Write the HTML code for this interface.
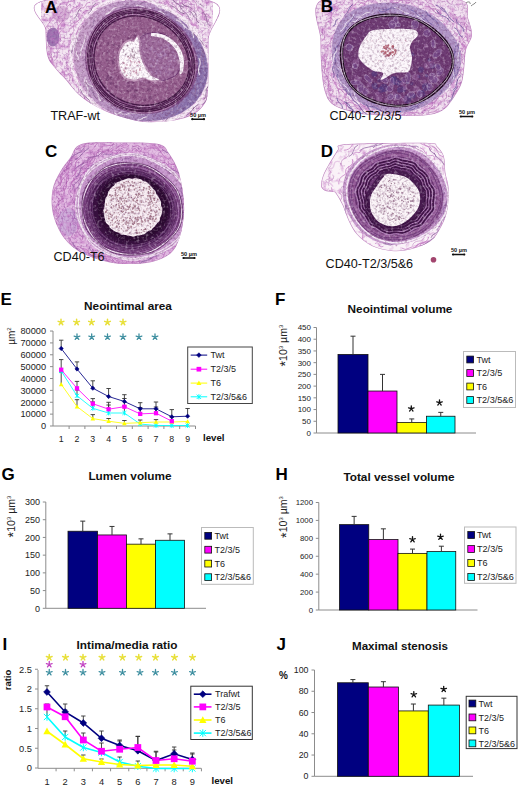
<!DOCTYPE html>
<html><head><meta charset="utf-8"><style>
html,body{margin:0;padding:0;background:#fff;}
svg{display:block;}
text{font-family:"Liberation Sans", sans-serif;}
</style></head><body>
<svg width="520" height="786" viewBox="0 0 520 786">
<defs>
<filter id="tex" x="0" y="0" width="520" height="300" filterUnits="userSpaceOnUse" color-interpolation-filters="sRGB">
<feTurbulence type="fractalNoise" baseFrequency="0.4" numOctaves="2" seed="7" result="n"/>
<feColorMatrix in="n" type="matrix" values="0 0 0 0 0.3  0 0 0 0 0.06  0 0 0 0 0.28  0.9 0 0 0 -0.4" result="d"/>
<feComposite in="d" in2="SourceGraphic" operator="in" result="dm"/>
<feTurbulence type="fractalNoise" baseFrequency="0.35" numOctaves="2" seed="3" result="n2"/>
<feColorMatrix in="n2" type="matrix" values="0 0 0 0 1  0 0 0 0 0.97  0 0 0 0 1  1.0 0 0 0 -0.5" result="l"/>
<feComposite in="l" in2="SourceGraphic" operator="in" result="lm"/>
<feMerge result="m"><feMergeNode in="SourceGraphic"/><feMergeNode in="dm"/><feMergeNode in="lm"/></feMerge>
<feGaussianBlur in="m" stdDeviation="0.4"/>
</filter>
<filter id="soft" x="0" y="0" width="520" height="300" filterUnits="userSpaceOnUse" color-interpolation-filters="sRGB">
<feTurbulence type="fractalNoise" baseFrequency="0.18" numOctaves="3" seed="11" result="n"/>
<feColorMatrix in="n" type="matrix" values="0 0 0 0 0.78  0 0 0 0 0.5  0 0 0 0 0.78  2.0 0 0 0 -0.88" result="p"/>
<feComposite in="p" in2="SourceGraphic" operator="in" result="pm"/>
<feTurbulence type="fractalNoise" baseFrequency="0.5" numOctaves="2" seed="12" result="n2"/>
<feColorMatrix in="n2" type="matrix" values="0 0 0 0 0.55  0 0 0 0 0.25  0 0 0 0 0.6  1.4 0 0 0 -0.68" result="q"/>
<feComposite in="q" in2="SourceGraphic" operator="in" result="qm"/>
<feMerge result="m"><feMergeNode in="SourceGraphic"/><feMergeNode in="pm"/><feMergeNode in="qm"/></feMerge>
<feGaussianBlur in="m" stdDeviation="0.45"/>
</filter>
<filter id="soft2" x="0" y="0" width="520" height="300" filterUnits="userSpaceOnUse" color-interpolation-filters="sRGB">
<feTurbulence type="fractalNoise" baseFrequency="0.18" numOctaves="3" seed="11" result="n"/>
<feColorMatrix in="n" type="matrix" values="0 0 0 0 0.78  0 0 0 0 0.5  0 0 0 0 0.78  1.8 0 0 0 -0.95" result="p"/>
<feComposite in="p" in2="SourceGraphic" operator="in" result="pm"/>
<feMerge result="m"><feMergeNode in="SourceGraphic"/><feMergeNode in="pm"/></feMerge>
<feGaussianBlur in="m" stdDeviation="0.45"/>
</filter>
<clipPath id="cA"><path d="M46.0,0.0C73.1,-5.0 180.9,-6.7 208.0,0.0C235.1,6.7 208.5,25.0 208.5,40.0C208.5,55.0 208.9,79.0 208.0,90.0C207.1,101.0 206.0,101.7 203.0,106.0C200.0,110.3 195.5,113.5 190.0,116.0C184.5,118.5 177.5,120.0 170.0,121.0C162.5,122.0 152.5,122.5 145.0,122.0C137.5,121.5 131.7,119.8 125.0,118.0C118.3,116.2 110.8,113.5 105.0,111.0C99.2,108.5 94.5,105.8 90.0,103.0C85.5,100.2 82.0,97.8 78.0,94.0C74.0,90.2 69.8,84.3 66.0,80.0C62.2,75.7 58.1,72.0 55.0,68.0C51.9,64.0 49.1,62.3 47.5,56.0C45.9,49.7 45.8,39.3 45.5,30.0C45.2,20.7 18.9,5.0 46.0,0.0Z"/></clipPath>
<clipPath id="cB"><path d="M321.5,0.0C334.8,-6.7 376.8,0.0 400.0,0.0C423.2,0.0 449.7,-3.0 461.0,0.0C472.3,3.0 466.2,12.2 468.0,18.0C469.8,23.8 472.3,29.7 472.0,35.0C471.7,40.3 467.3,44.2 466.0,50.0C464.7,55.8 464.8,64.2 464.0,70.0C463.2,75.8 463.0,80.0 461.0,85.0C459.0,90.0 455.0,95.8 452.0,100.0C449.0,104.2 447.0,107.5 443.0,110.0C439.0,112.5 435.2,114.0 428.0,115.0C420.8,116.0 410.3,116.1 400.0,116.0C389.7,115.9 374.8,115.4 366.0,114.5C357.2,113.6 352.7,112.2 347.0,110.5C341.3,108.8 335.7,107.1 332.0,104.0C328.3,100.9 326.8,97.7 325.0,92.0C323.2,86.3 322.2,78.7 321.5,70.0C320.8,61.3 320.5,51.7 320.5,40.0C320.5,28.3 308.2,6.7 321.5,0.0Z"/></clipPath>
<clipPath id="cC"><path d="M81.5,144.0C89.8,141.4 107.2,142.5 120.0,142.5C132.8,142.5 150.3,142.2 158.5,144.0C166.7,145.8 165.8,149.2 169.0,153.5C172.2,157.8 175.8,163.9 178.0,170.0C180.2,176.1 181.5,183.0 182.5,190.0C183.5,197.0 184.4,204.2 184.0,212.0C183.6,219.8 182.2,229.7 180.0,236.5C177.8,243.3 175.7,248.8 171.0,253.0C166.3,257.2 159.2,260.2 152.0,262.0C144.8,263.8 135.4,264.0 128.0,264.0C120.6,264.0 115.4,263.8 107.7,262.0C100.0,260.2 89.3,257.0 82.0,253.0C74.7,249.0 68.8,244.5 64.0,238.0C59.2,231.5 54.9,222.0 53.0,214.0C51.1,206.0 51.3,197.0 52.5,190.0C53.7,183.0 57.1,177.3 60.0,172.0C62.9,166.7 66.4,162.7 70.0,158.0C73.6,153.3 73.2,146.6 81.5,144.0Z"/></clipPath>
<clipPath id="cD"><path d="M342.5,144.5C351.2,143.4 375.2,143.2 390.0,143.0C404.8,142.8 423.2,142.4 431.0,143.0C438.8,143.6 434.9,144.1 437.0,146.3C439.1,148.5 442.4,151.6 443.8,156.0C445.2,160.4 444.6,167.0 445.4,172.5C446.2,178.0 448.4,182.3 448.7,188.8C449.0,195.3 448.4,205.2 447.0,211.7C445.6,218.2 443.2,223.1 440.5,228.0C437.8,232.9 435.6,237.4 430.7,241.0C425.8,244.6 417.5,247.6 411.0,249.3C404.5,251.0 398.0,251.6 391.5,251.0C385.0,250.4 377.6,248.7 371.9,246.0C366.1,243.3 360.8,238.7 357.0,234.6C353.2,230.5 351.4,226.4 349.0,221.5C346.6,216.6 344.7,209.6 342.5,205.0C340.3,200.4 337.6,195.9 336.0,193.7C334.4,191.5 334.6,192.5 332.7,192.0C330.8,191.5 326.4,191.6 324.5,190.5C322.6,189.4 321.2,188.0 321.0,185.5C320.8,183.0 321.9,178.9 323.0,175.7C324.1,172.4 326.2,169.0 327.8,166.0C329.4,163.0 331.0,160.5 332.7,157.8C334.4,155.1 336.4,151.8 338.0,149.6C339.6,147.4 333.8,145.6 342.5,144.5Z"/></clipPath>
</defs>
<rect width="520" height="786" fill="#fff"/>
<g clip-path="url(#cA)">
<g filter="url(#soft)">
<rect x="41" y="-5" width="172" height="132" fill="#f4e6f2"/>
<path d="M122.9 78.1Q118.8 74 119.3 68.3T115.7 58.5M137.8 80.5Q134.2 76.5 128.9 76.8T120.1 73.2M141.5 110.4Q138.3 105.2 133.3 108.6T125 106.9M154.8 70.9Q155.1 74.2 151.9 75.1T149.1 79.3M75 33.3Q79 32.9 76.8 29.5T78.6 25.7M76.6 34.5Q74.1 30.9 77.6 28.5T78.7 22.5M98 130.2Q96.6 124.2 91.1 121.7T84.1 113.2M80.7 39Q83.8 38.3 83.2 35.3T85.7 31.5M89.8 10.5Q90 7.3 93.1 8.2T96.5 5.8M192 46.6Q196.1 51.5 193.5 57.3T194.9 68.1M80.9 88.1Q75.6 87.1 78.2 82.3T75.4 76.6M163.3 12.7Q167 10.6 168.8 14.4T174.3 16.1M129.2 86.3Q125.3 87.2 124.9 83.2T120.5 80.1M107.3 59.1Q112.2 54 108.2 48.2T109 37.3M44.3 32.7Q44.9 26.9 49.2 22.9T54 13M69 57.9Q72.2 56.4 69.7 53.9T70.4 49.9M57.1 33.9Q60.4 30 58 25.5T59 17.1M126.2 119.9Q123.8 116.3 119.4 117T112.6 114.1M77.8 117.8Q72.7 115.9 71 110.8T64.2 103.9M153.3 60.6Q147.9 62 147.9 67.6T142.5 74.5M110.1 13.6Q111.4 9.4 114.3 12.7T118.4 11.7M106.4 61.2Q103.8 55 109.4 51.3T112.5 41.5M200.6 9.1Q204.7 10.9 204.3 15.4T208 21.8M191.9 21.8Q191.3 25 194.6 24.9T197.3 28M49.3 40.9Q49.1 36.1 53.5 34.4T57.8 27.9M197.5 114.8Q195.8 120.1 190.3 119.6T183.2 124.4M194.5 51.5Q197 54.4 195.6 57.9T196.7 64.3M145.9 50.3Q149.5 53.8 149.1 58.8T152.2 67.4M144.2 93.4Q138 95.4 134.5 89.9T124.8 86.4M193.5 34.2Q189.5 38.9 194.2 42.9T195 51.7M50.5 65.1Q54.1 63.4 50.9 61T51.3 56.9M136.8 6.7Q139.3 11.7 144.6 9.8T152.5 12.9M114.6 95.4Q109.4 94.8 108.9 89.7T103.3 83.9M125.9 40.9Q125.5 37 129.4 37.8T132.8 34.8M150.9 110.1Q147.4 109.1 145.5 112.3T140.2 114.5M148.4 54.6Q143.7 57.8 145.1 63.2T141.8 71.9M83.5 54.9Q80.3 51 85.1 49.4T86.8 43.9M111.4 76.5Q112.3 72.4 108.3 71.1T105.2 65.8M188.8 1.2Q191.8 1.9 191.1 4.9T193.4 8.7M131.8 115.5Q128.1 110.7 122.4 112.9T112.9 110.4M169 98.1Q167 102.6 162 102.7T155.1 107.3M150.2 81.2Q148.2 85.4 144.4 82.7T138.7 84.3M105 29.8Q105.5 23.7 111.6 23.2T118.2 16.5M202.7 10.1Q200.5 14.6 205.4 14.1T208.1 18M149.8 22.7Q154.2 19.7 156.9 24.3T164 26M127.1 4.3Q129.9 1.4 132.6 4.4T138.2 4.6M178.6 109Q175.7 107.7 174.3 110.6T169.9 112.1M126.2 84.2Q125.2 78.3 119.5 76.3T112.8 68.4M143.5 20.8Q148.7 20.7 151.5 25T159.5 29.2M200.1 112.7Q194.3 114.2 191.8 119.6T183.5 126.6M154.8 1.3Q158.3 4.9 162.4 1.9T169.9 2.5M171 55.3Q173.7 57.8 170.5 59.5T169.9 63.6M49.9 73.7Q53 69.8 51.7 65T53.5 56.4M138.4 92.9Q135.6 87.6 129.7 88.3T121 83.6M164 89.3Q162.2 93.8 157.6 92.5T151.3 95.6M183.3 62.2Q185.7 65.5 182.7 68.3T182 74.5M69.3 72.3Q72.4 69.1 68.9 66.5T68.4 60.6M129.5 77.5Q131.4 74.1 127.5 73.8T125.5 70.2M202.9 11.7Q202.5 15.4 206.3 14.9T209.7 18.1M204.8 108.1Q205 112.2 201 112.7T197.3 117.2M199.6 107Q197.4 112.3 191.9 114.2T184.3 121.3M151 113.2Q148.4 115 146.1 112.9T141.2 112.6M66.7 5.4Q66.6 0.8 71.2 1.4T75.7 -2.5M64.6 93.7Q67.3 90.2 63 89.2T61.4 84.6M163.6 105.9Q162.6 109.7 159.6 107.2T155.7 108.5M185.5 59.6Q188.2 62.2 185.9 65.1T186.4 70.7M173.9 92.2Q167.2 92.3 166 98.9T158.1 105.6M81.1 98.9Q77.7 98.5 77.5 95T73.9 91M57.3 53.7Q56.6 49.5 60.3 47.3T63.2 40.9M152.4 96.7Q149.4 92.9 147.7 97.5T143.1 98.2M199.3 7.4Q204.6 8.9 202.9 14.1T206.4 20.7M115 4.9Q120 6.2 124.1 3T133.2 1M68.8 31.7Q70 25.9 75.9 24.9T83 18M70.1 87Q71.6 83.4 67.8 83.1T65.5 79.2M126.5 60.1Q124.2 54.8 129.5 52.5T132.4 44.8M75.1 64.6Q71.8 59.9 75.4 55.4T75.6 46.2M65.3 101.6Q66 97 61.4 96.7T57.5 91.8M77 77.7Q81.2 74.5 76.9 71.3T76.9 64.9M173.9 88.6Q167.5 88.6 166.6 94.9T159.3 101.3M166.5 88.6Q163.6 92.9 158.6 93.6T150.6 98.6M101.3 61.3Q98.8 59.2 101.4 57.2T101.4 53.1M201.7 75.5Q203.3 79.7 199 81.3T196.4 87.1M116.1 126.8Q115.1 120.7 109.1 122T102.1 117.2M52.4 83.8Q54.1 78.5 49.7 75.1T47 66.3M171 75.3Q166.3 75.5 169.3 79.1T167.7 82.8M136.6 72.6Q132.3 67.8 135.1 62T133.7 51.3M171.3 3.6Q176.2 4.4 177.1 9.3T183 15M197.8 36.3Q200.9 41.6 198.1 47.1T198.3 57.9M120.6 38.6Q125.2 39.2 126.1 34.7T131.7 30.8M94.9 120.3Q90.8 118 89.7 113.4T84.5 106.5M81.6 8.2Q84.8 8.4 85.7 5.2T89.8 2.2M93.8 55.9Q97.4 53.1 97.1 48.5T100.3 41.1M193.6 45.1Q195.2 49 192.7 52.4T191.8 59.7M68.3 107Q62.4 105.1 62 98.8T55.6 90.7M67.3 82.8Q63.3 80.5 64.6 76.2T62 69.5M70.1 49.2Q74.1 47.4 71.1 44.3T72 39.4M151.2 36.9Q157.4 38.1 156.5 44.4T161.8 51.9M161.9 25.4Q161.4 28.9 165 29.1T168 32.8M153.2 85.5Q147.7 83.3 144.8 88.5T136.4 91.4M69.8 38.7Q70.6 32.3 76.8 30.4T83.7 22M47.4 35.8Q44.2 33.7 47.5 31.7T47.7 27.5M53 17.9Q58 15.9 57.7 10.5T62.5 3.2M101.4 48.5Q98.5 43.8 103.4 41.3T105.3 34.1M126.2 106.4Q124.2 101 118.5 100.3T110.7 94.1M91.1 104.5Q91.8 100.3 87.8 98.8T84.5 93.1M173.5 98.1Q172.8 102.1 169 100.8T164.4 103.5M99.1 73.3Q101.5 69.6 98.5 66.3T97.9 59.3M167.2 6Q171.6 4.7 171.6 9.3T176 12.6M131.2 97Q126.9 97.4 126.2 93.2T121.1 89.4M161.3 40.4Q159.8 44 163.6 44.7T165.9 49M172.3 32.2Q175.9 33.4 176.1 37.2T179.9 42.1M173.3 -2.4Q179.1 -2.7 180.2 2.9T187.2 8.2M103.6 52.2Q102.5 49 105.7 47.6T107.7 43M173 103Q173.4 107.5 168.9 107.5T164.9 111.9M146.3 119.8Q141.3 122.2 137.9 117.9T129.6 116M97.1 72.7Q92.2 70.7 95.5 66.5T93.9 60.4M60 82.4Q62.4 79.7 59.7 77.4T59.5 72.4M84.3 100.6Q85.7 96 81.7 93.4T79.1 86.2M174.3 36.3Q178.8 36.6 176.8 40.6T179.2 44.9M193.2 40.4Q197.7 44.8 194.2 50.1T195.2 59.8M189.8 102.2Q183.2 102.3 181.1 108.4T172.4 114.7M172.8 45.3Q178.3 46.3 176 51.4T179.1 57.6M102.8 24.1Q106.6 24.2 106.8 20.5T110.9 16.8M187.8 48.6Q192.5 52.3 189.5 57.5T191.3 66.5M70.2 13Q70.6 8.5 75.1 7.6T79.9 2.3M75.4 51.5Q80 48.8 78 43.8T80.6 36.2M80 28.1Q84.4 26.7 82.3 22.6T84.5 17M199.6 57.2Q194.8 61.8 198.6 67.2T197.6 77.1M103.1 77.3Q99.3 72.5 101.4 66.8T99.7 56.2M73.5 22.1Q79.7 22.4 81.2 16.4T88.9 10.7M58.6 122.5Q59.9 116.6 55.4 112.8T52.1 103M84.7 61.5Q87.6 56.7 85.9 51.4T87.2 41.4M196.5 95.3Q192.5 94.8 193.1 98.8T189.7 102.4M56 74.8Q51.4 73.4 54.6 69.8T53.1 64.7M58.5 41.9Q62.6 37.8 59.4 32.9T60.2 24M62.1 98.6Q57.1 96.4 59.4 91.3T56.7 84M117.1 114.8Q114.1 114.9 113.5 111.8T110 108.9M109.7 70.4Q113.9 66.2 112.9 60.3T116.1 50.2M55.4 44Q58.8 41.5 58.3 37.3T61.2 30.6M69.9 90.1Q65.8 86.2 68.8 81.5T67.6 72.8M48 55Q44.9 50.5 48 46T48 37M54.2 128Q49 126.3 47.7 121T41.2 114M108.4 71.8Q110.9 68 106.9 65.9T105.5 59.9M58.7 29.5Q63.6 27.2 60.1 23T61.4 16.5M143.2 90.3Q139.5 91.4 137.2 88.3T131.2 86.3M138.3 16.5Q142.4 13.3 146.7 16T155.1 15.6M182.1 67.7Q186.2 70.5 181.6 72.3T181.1 76.9M120.6 98.8Q115.8 98.9 116.3 94.1T111.9 89.4M175.1 95.6Q170.3 95.3 170.2 100.2T165.3 104.7M167.8 70.1Q168.5 74.8 163.8 74.8T159.7 79.5M138.3 2.4Q141.5 4.5 144.6 2.3T150.9 2.1M105.6 71.5Q103.9 66.4 107.2 62.1T108.7 52.7M127.8 37.6Q129.8 33.7 133.3 36.4T138.8 35.2M84.1 123.1Q78.3 120.3 78.1 113.9T72.1 104.7M54.3 89Q55.4 83.3 50.3 80.5T46.4 71.9M150.5 33.9Q152.2 40.4 158.9 40.2T167.3 46.4M123.6 92.6Q119.3 93.4 119.3 89T114.9 85.4M94.8 120.1Q89.9 116.7 88.8 110.9T82.8 101.8M172.7 27.6Q173.1 34.1 179.6 35.2T186.5 42.8M77.7 71.1Q73.2 70.4 76.1 66.8T74.4 62.6M200.8 119.1Q196.8 117.6 196.6 121.9T192.5 124.6M154.6 91.5Q152.9 94.5 149.7 93.1T144.9 94.8M109.9 74.5Q111.7 71.4 108.6 69.5T107.3 64.4M191.3 -1.1Q196.5 1 196.9 6.5T202.6 14.2M120.2 12.8Q123.6 16.5 126.6 12.5T133 12.2M133.5 125.8Q130.9 120 124.7 121.3T115.9 116.9M60.4 23.5Q65.4 20 65 14T69.7 4.5M52.5 116.2Q54.6 111.9 49.9 110.7T47.4 105.2M148.9 91.6Q145.9 94.2 142.8 91.7T136.7 91.8M179.3 20.1Q177.6 26.1 182.8 29.6T186.3 39M125.5 31.3Q126.9 26.3 131.2 29.2T137 27.1M211 79.6Q206.3 83.3 207.9 89.2T204.7 98.8M75.9 85.4Q72.3 83.3 72.6 79.2T69.3 73.1M169.6 9Q174.1 10.4 174.4 15.1T179.1 21.2M159.1 1.1Q160.2 5.8 164 2.9T168.9 4.7M108.3 51.3Q106.4 46.6 110.4 43.5T112.4 35.7M93.9 43.6Q98.8 44 96.8 39.6T99.7 35.5M85.7 110.4Q84.8 104.5 78.8 104.8T72 99.2M101.7 62.6Q99.4 59.1 103.4 57.6T105 52.7M91.1 124.2Q90.6 117.7 84.3 115.8T77.4 107.4M103.3 117.5Q97.9 115.5 96.7 109.8T90.1 102.2M203.2 88.5Q200 91.1 201 95T198.9 101.6M150.3 28Q152 33.8 158 32.8T165.6 37.6M111 89.8Q104.7 87.3 106.3 80.8T101.7 71.7M186.8 18.5Q190.9 17.9 191.1 22T195.4 25.6M59.7 116.2Q55.8 115.1 58.4 111.9T57 107.6M89.1 39.8Q94.8 36.6 92.1 30.6T95.1 21.5M74.3 30.7Q71.2 25.1 76.7 21.9T79.1 13.1M51.6 65.6Q53.6 60.9 51.4 56.3T51.3 47.1M61.2 103.9Q62.3 97.5 56.4 94.8T51.5 85.6M129.2 71.6Q126 66.5 129.7 61.7T130.2 51.8M165.4 9.3Q165.7 14.6 170.9 13.7T176.5 18.1" fill="none" stroke="#c886c4" stroke-width="1.0" opacity="0.75" stroke-linecap="round"/>
<path d="M174.9 20.2Q175.5 24.8 180 26T185.1 31.7M180.3 71Q181.8 75.2 177.5 76.8T174.7 82.7M112.1 51Q115.4 49.7 113.4 46.8T114.8 42.6M51.4 89.1Q54 85.9 51.4 82.7T51.3 76.3M188.3 89.6Q184.3 89.9 187.1 92.9T185.8 96.2M104.7 111.5Q100.9 111.1 101.2 107.3T97.7 103M134.5 84.7Q132.2 80.6 127.5 81.4T120.5 78M128.5 106.1Q125.3 108.8 125.3 104.5T122.1 103M46.5 65.7Q44.8 62.1 48 59.6T49.5 53.5M83.1 90.5Q83.6 85.7 79.1 84.1T75 77.8M130.3 0.1Q134 -1.9 137.5 0.2T144.8 0.2M199.9 89.4Q196.8 89.6 198 92.5T196 95.7M125.2 109.4Q120.4 110.9 119.3 106.1T113.4 102.7M107.6 92.9Q107.9 89.4 104.8 87.7T102 82.4M126 52.8Q126.3 48.8 130.3 48.4T134.7 43.9M201.6 20.2Q201 22.6 203.4 23.1T205.2 26M81.4 118.5Q78.5 117.3 78.8 114.2T76.2 109.8M124.6 33.4Q128.5 35.6 132.2 33T139.9 32.6M108.8 37.1Q113.3 37.3 112.6 32.8T116.4 28.4M112.9 54.7Q115.7 52 114.7 48.2T116.6 41.7M185.1 -1.1Q188.7 -2.4 188.2 1.4T191.4 3.8M190.4 36Q194.7 37.7 192.2 41.5T193.9 47M173.3 104.7Q168.7 104.4 167.6 108.9T161.8 113.1M170.4 65.5Q166.7 66.4 167.5 70.1T164.6 74.7M97.5 74.2Q95.8 70.7 98.3 67.8T99.2 61.5M118.3 39.9Q121.9 38.8 123.2 35.3T128.2 30.7M67.2 67.1Q64.9 64.2 66.8 61.1T66.5 55.1M186.7 24.4Q186.3 28.7 190.3 30.4T194 36.4M161.9 109.8Q157.7 108.3 155.2 112T148.6 114.1M116.4 60.9Q119 57.5 117.6 53.4T118.9 45.8M91.1 95.4Q91.1 91.4 87.3 90T83.5 84.7M89 88.9Q85.4 86.4 87.9 82.8T86.8 76.7M85.7 56.6Q89.3 54.9 86.9 51.7T88.2 46.7M99.9 90.1Q99 86.2 95.1 85.3T90.3 80.6M173.2 114.6Q172.1 117.1 169.9 115.4T166.7 116.3M51.8 58.1Q48.7 57 51.1 54.8T50.5 51.5M135.6 75.3Q131.9 77.5 130.8 73.3T125.9 71.3M97.7 98.8Q94.7 98 94.7 94.9T91.8 90.9M118 67.2Q113.6 65 116.4 61.1T114.8 54.9M164.5 23.2Q164.6 25.9 167.2 25.1T169.9 27M50.4 7.3Q54.1 5.9 52.5 2.3T54.6 -2.7M204.3 40.2Q202.1 44.6 206.6 46.6T208.9 53M146.3 58.4Q149 60.4 146.2 62.2T146 66M180.7 30.6Q183.8 31.7 182.1 34.5T183.6 38.4M161.5 31.9Q161.5 35.6 164.7 37.5T167.9 43M154.9 64.4Q150.7 66 152.8 69.9T150.7 75.5M59.9 103.3Q56.2 102.3 56.2 98.5T52.5 93.8M65.5 74.9Q62 72.7 65.7 70.9T65.9 67M118.8 15.7Q121.4 11.4 125.2 14.7T131.5 13.8M66.3 102Q68.7 99.1 65.3 97.6T64.3 93.2M78.4 70.7Q81 66.5 78 62.7T77.6 54.7M116.7 14.4Q120.2 15.8 122.7 13T128.6 11.6M165.2 93.1Q161.1 91.6 161.6 96T157.9 98.8M96.4 103.8Q92.1 102.6 93.1 98.3T89.8 92.8M197.5 71.9Q193.7 75.1 196.6 79.1T195.8 86.2M171.7 110.3Q169.5 114.5 165.1 112.5T158.6 114.8M152.5 2.4Q156 0.5 157.8 4.1T163.1 5.9M93 6.1Q95.9 7.7 96.5 4.5T100.1 2.9M105.4 52.7Q109.2 52.3 108.6 48.4T111.9 44.1M117 105.8Q112.8 107.8 111.2 103.5T105.4 101.2M190.7 36Q188.5 40.3 192.7 42.6T194.8 49.2M144.3 102.2Q141.9 100.3 140.6 103T136.9 103.8M53.9 67.5Q51 63 55.2 59.7T56.5 51.9M148.7 72.9Q145.1 74.4 142 72T135.2 71.1M198.8 47.5Q203 49 200.8 52.9T202.9 58.3M73.9 34.3Q78.7 33.7 78.1 28.9T82.4 23.5M61.2 40.5Q58.6 37.5 62.6 37.7T63.9 35M98.4 108.5Q96.5 105 92.5 104.3T86.7 100.1M144.7 5.1Q146.8 8.4 149.2 5.4T153.7 5.7M184.6 53Q181.5 55.9 185.6 57.1T186.6 61.2M103.3 54.5Q107.6 52.4 105.1 48.2T107 41.9M148.9 66.7Q144.8 65.8 144.1 69.8T139.3 73M122.6 90.7Q123.5 86.2 119.1 84.9T115.5 79M181.7 22.7Q181.7 25.6 184.3 24.6T187 26.5M169.4 72.7Q169.7 78.2 164.3 78.7T159.2 84.7M197.9 80.3Q193.6 81.7 192.9 86T187.9 91.7M143.2 77.9Q141.3 81.7 138.7 78.3T134.2 78.7M171.3 67.5Q168.6 68.4 170.6 70.5T169.8 73.5M174.2 63.5Q175.4 65.9 172.8 66.6T171.4 69.8M173.9 0.3Q174.5 5.1 179.1 3.5T184.3 6.7M169.7 68.9Q165.7 71 168.5 74.6T167.3 80.3M184.8 5.9Q188.4 5.8 190.3 9T195.8 12M113.3 69.5Q109.7 67 113.2 64.4T113.1 59.2M104.3 61.3Q101.9 58 105.9 57.3T107.5 53.2M121.5 39.4Q125.9 39.9 126 35.4T130.5 31.5M93.8 69.8Q95.9 67.4 93.1 65.9T92.5 62.1M49 55.5Q50.8 53.2 49.3 50.7T49.6 45.8M50.4 104Q45.9 102.8 48.1 98.7T45.9 93.3M81.9 67.8Q78.4 65.9 81.3 63.2T80.7 58.5M98.7 100.5Q94.6 99.8 94.7 95.7T90.8 90.9M162.7 96.2Q161.1 100.8 156.4 99.3T150.2 102.3M71.3 125.7Q67 125.8 66 121.6T60.8 117.6" fill="none" stroke="#a864ac" stroke-width="0.8" opacity="0.55" stroke-linecap="round"/>
<path d="M178.2 28.1Q180.8 29.3 178.9 31.4T179.6 34.7M59.4 50.6Q56.9 54.6 53 52.1T46.6 53.7M142.1 84Q146.4 84.7 146.1 89.1T150.1 94.2M148.8 30.8Q147.2 33.5 144.5 31.9T140.1 33.1M71.9 107.9Q70.5 112.5 65.7 112.8T59.5 117.7M63 114.6Q66.7 115.9 66.9 119.8T70.8 125.1M54.3 88.2Q56.5 91.5 54 94.7T53.8 101.2M103.7 109.8Q99.2 108.6 96.7 112.6T89.7 115.4M64.1 93.6Q67.9 93.9 69.6 97.4T75.1 101.1M122.8 19.4Q124.9 23.1 128.5 20.8T134.2 22.2M163.9 37.4Q166.3 41.6 162.2 44.1T160.5 50.8M192.3 98.5Q196.1 99.8 195.9 103.9T199.5 109.4M76.4 47.4Q74.5 51.1 78.4 52.5T80.4 57.7M179.6 78.5Q181.3 82.2 177.3 82.5T175 86.5M109.5 89.8Q113.1 89.2 115.3 92.1T121 94.4M187.7 -0.9Q184.5 1.6 180.7 0T173.8 1M147.3 6.2Q149 8.8 152 7.9T156.7 9.5M143.5 94.7Q141.3 99.5 136.6 97.1T129.7 99.5M185.3 104.1Q184.6 107 182.1 105.3T179 106.6M134 70.4Q136.7 72.4 134.1 74.6T134.2 78.8M135 79.4Q133.4 82.4 131.4 79.7T127.9 80M149 -2.3Q146.3 0.8 149.9 2.7T150.9 7.7M180.5 68.7Q182.9 70.5 181.9 73.4T183.2 78.1M157.3 105.7Q158.4 108.2 161.1 107.6T164.9 109.5M50 86.6Q52.6 86.4 52.7 89T55.4 91.4M74.5 81.1Q71.7 85.1 68.2 81.7T61.9 82.3M167.3 98.3Q167.7 102.5 163.5 101.5T159.8 104.7M113.8 88.8Q113.4 91.6 116.2 91.5T118.7 94.2M85.8 104.4Q82.7 107.9 78.9 105.2T71.9 106M144.8 59Q143.6 62.4 147.2 63.3T149.6 67.7M151.7 44.5Q151.1 48.7 147.4 50.7T143.2 56.9M199.8 39.4Q202.7 43.2 206.1 39.8T212.3 40.2M162.1 58.6Q166.1 59.3 167.7 63T173.2 67.5M85.8 109.7Q82.1 110.1 81.9 113.8T78.1 117.9M152.9 85.2Q148.4 85 148 89.5T143.1 93.7M76.6 93.6Q79.2 96 75.9 97.1T75.1 100.5M79.7 29.4Q83.6 29.1 85.2 32.6T90.7 35.9M57.9 117.5Q54.4 115.6 52 118.7T46.1 119.8M153 37Q156.5 34.8 158.8 38.3T164.6 39.5M99.3 5.2Q96.5 3.3 94.3 6T89.4 6.7M55.3 -4.5Q58.6 -0.6 55.2 3.3T55.2 11.2M129.8 92.3Q128.8 95.3 126.6 92.9T123.4 93.5M99.3 8.6Q98.8 13.2 103.3 14.5T107.2 20.4M107.8 31Q110.7 30.9 110.1 33.7T112.4 36.5M79.1 85.1Q80.7 89.5 85.5 89.7T91.8 94.4M126.9 117.3Q131.8 116.3 133.2 121T139.4 124.7M194.2 57Q191 58.9 193.6 61.5T193.1 65.9M204.2 60.8Q202.1 62.6 204.6 64T204.9 67.1M86.6 26.9Q86.3 31.2 90.2 33T93.9 39.1M204.9 67.4Q199.4 67.6 199.3 73.1T193.8 78.8M144.8 74.8Q146.4 77.6 149.3 76.1T153.8 77.3M146.6 60.7Q145.7 64 149.2 64.1T151.8 67.5M157.5 76.8Q153.1 79 154.6 83.7T151.7 90.6M177.5 61.5Q180.3 64.1 176.8 65.3T176 69.2M156.9 63Q161.7 63.9 161.7 68.8T166.5 74.6M57.6 40.6Q56.7 43.6 59.8 44T62.1 47.5M50.4 17.3Q48.2 21 51.8 23.3T53.2 29.3M115.8 117.1Q116.9 120.8 119.6 118.1T123.3 119M107.3 61.8Q111.7 59.4 115.1 63.1T122.8 64.5M109.8 107.8Q106.1 109.8 108.4 113.3T107 118.9M163.4 61Q159.2 61.6 161.9 64.9T160.5 68.8" fill="none" stroke="#dcb0dc" stroke-width="1.4" opacity="0.6" stroke-linecap="round"/>
<path d="M137.5 90.4h0M133.4 110h0M56.3 46.8h0M86.5 57.7h0M178.6 17.3h0M128.4 32.6h0M132.8 41.5h0M133 27.2h0M102.6 62.3h0M110.3 58.7h0M174 108h0M56.4 90.6h0M198.7 48.9h0M118.8 0.7h0M90.7 105.2h0M132.7 85.4h0M118.9 79h0M105.1 31h0M105.9 70.2h0M74.4 91.5h0M108.4 20.3h0M184.6 90.9h0M140.6 110h0M158.3 23.7h0M65.4 96.4h0M161.3 64.6h0M124 38.6h0M145.4 63.2h0M135.9 87.9h0" stroke="#a868a8" stroke-width="0.80" stroke-linecap="round" opacity="0.6"/><path d="M189.1 77.1h0M155.8 16.1h0M74.9 20.1h0M155.2 117.6h0M161.6 77.7h0M89.7 42.9h0M171.1 69.5h0M162.8 74.7h0M195.8 79.3h0M75.8 66.9h0M100.7 44.5h0M135.6 76.7h0M143.7 22.9h0M186.7 71.7h0M103.7 102.7h0M187.2 56.6h0M181.6 76.4h0M146.2 6.4h0M159 92.1h0M198.9 61.1h0M139.5 76.1h0M86.5 93.2h0M167.2 86.7h0M53.2 36.4h0M79.5 104.7h0M125.6 0.3h0M100.2 85.9h0M108.4 17h0M149.1 107.5h0M81.8 74.5h0M71.9 23.4h0M146.9 59.3h0M184.3 47.5h0M66.9 53.5h0M150.6 101.7h0M146.8 45.9h0M66.6 100.6h0M135.7 42.6h0M108.4 16.8h0M114.3 4.6h0M104.2 20.8h0M70.1 49.1h0M153.2 50.2h0M74.8 38.5h0M98.4 64.2h0M86.4 108.1h0M172.6 69.7h0M80.7 55.8h0M126.5 78.5h0M163.2 88h0M83.9 92.3h0M159 69.9h0M158.4 112h0M185.1 46.2h0M178.2 82.4h0M111.8 52.6h0M139.7 104.9h0M158.7 85.5h0M190.3 39h0M162.9 92.2h0M166.1 57.1h0M63.9 37.2h0" stroke="#a868a8" stroke-width="1.30" stroke-linecap="round" opacity="0.6"/><path d="M183 41.8h0M142.6 99.9h0M153 74.3h0M163.5 77.8h0M85.4 112.8h0M148.7 53.7h0M152.7 47.6h0M121.7 18.8h0M124.1 96.8h0M137.3 5.7h0M151.1 90.9h0M154.1 7.3h0M195.3 75.8h0M155.3 99h0M158.2 54h0M103 4h0M103.9 13.8h0M199.6 79.9h0M105.7 119.4h0M182.4 48.3h0M99.9 19.9h0M118 19.5h0M145.7 104.5h0M121.5 59.3h0" stroke="#a868a8" stroke-width="1.80" stroke-linecap="round" opacity="0.6"/>
<ellipse cx="53" cy="37" rx="6.5" ry="9.5" fill="#8e62a4" opacity="0.85"/><ellipse cx="61" cy="14" rx="9" ry="8" fill="#b87cb8" opacity="0.45"/>
<path d="M46.0,0.0C73.1,-5.0 180.9,-6.7 208.0,0.0C235.1,6.7 208.5,25.0 208.5,40.0C208.5,55.0 208.9,79.0 208.0,90.0C207.1,101.0 206.0,101.7 203.0,106.0C200.0,110.3 195.5,113.5 190.0,116.0C184.5,118.5 177.5,120.0 170.0,121.0C162.5,122.0 152.5,122.5 145.0,122.0C137.5,121.5 131.7,119.8 125.0,118.0C118.3,116.2 110.8,113.5 105.0,111.0C99.2,108.5 94.5,105.8 90.0,103.0C85.5,100.2 82.0,97.8 78.0,94.0C74.0,90.2 69.8,84.3 66.0,80.0C62.2,75.7 58.1,72.0 55.0,68.0C51.9,64.0 49.1,62.3 47.5,56.0C45.9,49.7 45.8,39.3 45.5,30.0C45.2,20.7 18.9,5.0 46.0,0.0Z" fill="none" stroke="#c088c0" stroke-width="1.2"/>
</g>
<g filter="url(#tex)">
<path d="M207.3,86.2C206.1,89.7 204.4,93.1 202.5,96.2C200.5,99.4 198.1,102.4 195.5,105.0C192.9,107.7 189.9,110.1 186.7,112.3C183.6,114.4 180.1,116.2 176.6,117.8C173.1,119.3 169.3,120.6 165.5,121.5C161.8,122.5 157.8,123.1 153.9,123.5C150.0,123.8 146.0,123.9 142.0,123.7C138.1,123.5 134.1,123.0 130.2,122.2C126.3,121.4 122.4,120.3 118.6,118.9C114.8,117.5 111.1,115.9 107.6,114.0C104.1,112.1 100.8,109.9 97.6,107.5C94.5,105.0 91.5,102.4 88.9,99.5C86.2,96.7 83.8,93.6 81.7,90.4C79.5,87.2 77.7,83.8 76.2,80.4C74.6,77.0 73.4,73.4 72.5,69.8C71.6,66.2 71.0,62.6 70.8,58.9C70.5,55.3 70.6,51.6 71.0,48.0C71.4,44.4 72.1,40.8 73.2,37.4C74.2,33.9 75.6,30.5 77.4,27.2C79.1,24.0 81.2,20.9 83.6,18.1C86.0,15.2 88.8,12.6 91.8,10.2C94.8,7.9 98.2,5.8 101.7,4.1C105.2,2.4 109.0,1.0 112.8,0.0C116.7,-0.9 120.7,-1.6 124.8,-1.8C128.8,-2.1 132.9,-2.0 136.9,-1.6C140.9,-1.1 145.0,-0.3 148.8,0.7C152.7,1.7 156.5,3.1 160.2,4.7C163.8,6.2 167.4,8.1 170.7,10.1C174.1,12.1 177.3,14.3 180.4,16.7C183.4,19.0 186.3,21.6 189.0,24.3C191.7,27.1 194.2,30.0 196.5,33.0C198.8,36.1 200.9,39.3 202.7,42.6C204.5,46.0 206.0,49.5 207.2,53.1C208.3,56.7 209.2,60.4 209.6,64.1C210.0,67.8 210.1,71.6 209.7,75.3C209.3,79.0 208.5,82.7 207.3,86.2Z" fill="none" stroke="#fbf3fa" stroke-width="2.5" opacity="0.85"/>
<defs><linearGradient id="gAdvA" x1="0" y1="0" x2="1" y2="0.3"><stop offset="0" stop-color="#caa2ca"/><stop offset="0.55" stop-color="#b892c2"/><stop offset="1" stop-color="#8a72ac"/></linearGradient></defs>
<path d="M205.4,85.3C204.2,88.6 202.6,91.9 200.7,94.9C198.8,98.0 196.5,100.8 194.0,103.4C191.5,105.9 188.6,108.3 185.6,110.3C182.5,112.4 179.2,114.1 175.8,115.6C172.4,117.1 168.8,118.3 165.2,119.2C161.5,120.1 157.8,120.7 154.0,121.0C150.2,121.4 146.4,121.4 142.5,121.2C138.7,121.0 134.9,120.5 131.1,119.7C127.3,119.0 123.6,117.9 119.9,116.6C116.3,115.3 112.7,113.7 109.4,111.8C106.0,110.0 102.7,107.9 99.7,105.6C96.7,103.2 93.8,100.7 91.3,97.9C88.7,95.2 86.3,92.2 84.3,89.2C82.3,86.1 80.5,82.9 79.0,79.6C77.5,76.3 76.3,72.8 75.5,69.4C74.6,66.0 74.0,62.4 73.8,58.9C73.5,55.5 73.5,51.9 73.9,48.5C74.3,45.0 75.0,41.5 76.0,38.2C77.0,34.9 78.4,31.6 80.1,28.5C81.8,25.4 83.8,22.4 86.1,19.7C88.4,17.0 91.1,14.4 94.0,12.2C96.9,10.0 100.1,8.0 103.5,6.3C106.9,4.7 110.5,3.4 114.2,2.5C117.9,1.5 121.8,0.9 125.7,0.7C129.6,0.4 133.6,0.5 137.4,0.9C141.3,1.4 145.2,2.1 148.9,3.1C152.7,4.1 156.3,5.5 159.9,7.0C163.4,8.5 166.8,10.2 170.0,12.2C173.3,14.1 176.4,16.2 179.3,18.5C182.2,20.8 185.1,23.3 187.7,25.9C190.3,28.5 192.7,31.3 194.9,34.2C197.1,37.2 199.2,40.3 200.9,43.5C202.6,46.7 204.1,50.1 205.2,53.5C206.3,57.0 207.1,60.6 207.5,64.1C208.0,67.7 208.0,71.3 207.7,74.9C207.3,78.4 206.5,81.9 205.4,85.3Z" fill="url(#gAdvA)"/>
<path d="M110 91.1Q106.8 88 107 83.5T103.9 76M168.2 100.8Q166.1 104.4 161.9 105.4T155.6 110.1M96.4 41.9Q97 38 100.9 37.1T105.3 32.2M179.7 4.9Q180.5 9.6 184.6 12.1T189.6 19.3M179.3 109.4Q176.9 113.4 172.5 115T165.7 120.5M175 62.6Q172.7 65.6 173.9 69.1T172.9 75.6M155.9 37.1Q156.7 41.3 160.5 43.2T165 49.2M151.6 90.6Q149 89.2 146.8 91.1T142 91.5M107 27.5Q110.5 26.7 111.6 23.4T116.2 19.2M119.3 20.8Q121.4 17.4 125.4 17.6T131.5 14.3M161.4 13.8Q163.2 16.9 166.7 17.6T172.1 21.4M172.3 110.2Q169.5 110.3 169 113T165.8 115.8M89.7 59.5Q92.7 55.9 93.6 51.2T97.5 42.9M183.1 39.4Q186.8 42.1 187.2 46.6T191.3 53.8M102.7 82.6Q103.3 78.5 100.6 75.5T98.4 68.3M144.2 21.7Q147.4 20.7 148.9 23.7T153.7 25.7M92 60.2Q91.2 55.9 94.6 53.1T97.2 46M184.6 71.7Q182.9 75 183.4 78.8T182.2 85.8M109 40.6Q112.2 38.1 112.7 34T116.5 27.4M181.8 3.4Q183.8 5.9 187 6.3T192.2 9.1M103.5 102.2Q100.2 100.7 100 97.1T96.4 91.9M113 90.2Q108.9 87.7 106.9 83.4T100.8 76.6M102.4 40.7Q102.5 37.8 105 36.2T107.6 31.7M130 9.6Q131.9 11.1 134.2 10.2T138.4 10.7M142.5 70.1Q140.5 67 136.9 68T131.3 66M88.4 13.3Q91.3 11.6 92 8.3T95.6 3.2M120 7.7Q122.8 8.4 124.4 6T128.9 4.3M146.6 49.2Q149.7 50.5 150.7 53.7T154.9 58.2M191.7 62.2Q194.2 64.2 192.5 66.9T193.4 71.6M154.6 10.8Q158.9 13.7 164 12.7T173.4 14.5M103.4 95.1Q103.3 90.9 100.9 87.5T98.3 79.9M118.9 12.3Q120.8 8.5 125.1 8.5T131.3 4.6M170.9 40.9Q171.7 44.3 174.6 46.1T178.3 51.3M127.3 113.1Q124.9 110.9 122.3 112.9T117.3 112.6M210.6 92.8Q207 94.4 206.9 98.3T203.3 103.7M74 18.6Q76.8 16.7 77.5 13.3T81 7.9M176.3 51.9Q175.9 54.3 178 55.6T179.6 59.2M109 127.3Q106.9 122.7 102.6 120.1T96.1 112.8M208.2 86.1Q205.5 88.9 206.1 92.7T204 99.2M201.9 48.5Q202.6 52.9 201.3 57.1T200.8 65.7M192.5 52.6Q195 55.5 194.3 59.4T196 66.1M119.5 110.9Q115.8 110.2 113.5 107.3T107.5 103.7M177.3 74.6Q176.3 78.3 172.6 79.2T167.9 83.9M159 31.6Q159.8 35.9 164 37.5T168.9 43.4M107.7 67.5Q105.5 63.9 106.8 59.9T105.8 52.3M198.2 104.5Q194.5 106.3 192.4 109.9T186.6 115.3M134.8 4.8Q138.2 6.1 140.9 3.5T146.9 2.3M188.7 76.1Q187.6 80.3 184.2 83.1T179.7 90.1M95.3 93.9Q91.4 92.4 90 88.4T84.8 82.9M150.3 93.4Q145.5 91.8 141.1 94.2T131.8 95M132.1 9.7Q136.7 11.3 141.3 10T150.4 10.3M169.9 106.7Q167.2 110.4 162.8 110.6T155.6 114.5M191.8 30.2Q193.7 34.9 197.8 37.7T203.7 45.2M141.3 108.1Q139.3 109.4 137 108.4T132.6 108.8M110.4 45.9Q113.9 42.3 115.8 37.7T121.2 29.5M165.1 104.1Q161.4 106.8 156.9 106.3T148.7 108.4M147.8 35.1Q152.7 36.3 156.8 39.3T165.8 43.5M104.4 78.5Q105.7 73.7 103.2 69.3T102.1 60.1M182.2 99.3Q182.3 102.3 179.6 103.5T177 107.7M147.4 95.4Q144.9 93.9 142.3 95T137.3 94.7M105.2 38.7Q110 37.6 112.2 33.2T119.1 27.7M112.5 90.9Q110.3 89.6 109.8 87.2T107.2 83.4M89.2 96.3Q89.7 93.7 88.1 91.6T87 86.8M142.5 74.9Q141 73 138.6 73.3T134.6 71.6M134.2 67.7Q136.4 63.5 136.5 58.9T138.8 50.1M90.8 104.2Q90 99.4 85.7 96.9T80.5 89.6M169.5 72.9Q166.5 74.1 167.3 77.2T165.2 81.6M71.4 53Q71.9 48.6 74.6 45.1T77.8 37.2M90.9 28.1Q94 25.9 93.6 22.2T96.3 16.2M146.7 70.9Q143.3 67.4 138.4 67.6T130.1 64.4M120.2 56.5Q121.6 51.7 125.7 48.9T131.3 41.2M133.2 104Q130.2 101.2 126.1 101.2T119.1 98.5M152.7 91.4Q148.6 93 144.4 91.3T136.1 91.1M93.6 36.1Q96.4 34 97.4 30.7T101.2 25.3M123.7 95.1Q120.3 93.6 119.2 90.1T114.7 85M104 96.5Q100.4 95.4 99.8 91.7T95.7 86.9M171.1 62.6Q172.7 65.8 171.2 69.1T171.4 75.7M173.7 69.8Q173.4 73.6 169.7 74.8T165.8 79.9M132.3 67.5Q130.6 63.7 133.2 60.6T134.1 53.7M145.4 61.5Q143.6 63.2 141.2 62.5T136.9 63.5M83.7 60.9Q87 57 87.3 52T91 43.1M122.3 7.2Q125.1 5.9 128 7T133.6 6.7M181.6 84.4Q179.4 85.4 179.1 87.7T176.7 91M127.1 29.1Q131.3 26.2 136.3 25.1T145.4 21.1M171 5.7Q174.8 6.7 177.4 9.7T183.8 13.7M197.3 83.1Q194.7 85.6 195.5 89.1T193.7 95.1M202.8 12.1Q206.4 14.6 206.4 19T210 25.9M188.5 61.9Q188.4 66.9 185.3 71T182.1 80M136.2 100.1Q133.4 98.1 130 98.7T123.8 97.3M168.7 -1.5Q173.1 -0.5 176.2 2.8T183.6 7.1M167.8 52.1Q170.2 54.2 169.2 57.2T170.6 62.3M194.1 11.6Q196.9 13.7 196.3 17.2T198.5 22.8M101.4 24.3Q103.7 19.8 108.6 18.5T115.8 12.7M84.7 117.3Q81.8 116.5 82.2 113.5T79.8 109.7M145.1 70.1Q141.3 72.3 137.6 70T130.2 69.9M121.6 94.5Q121.4 90.8 117.9 89.7T114.1 85M190.2 63.1Q191.2 68 190 72.8T189.7 82.5M156.3 82.4Q153 81.1 150.7 83.8T145.2 85.1M131.9 15.4Q135.3 13.5 139.1 14.3T146.2 13.2M202.9 50.1Q204.8 54 203.6 58.2T204.3 66.3M116.6 85.2Q115.8 81.3 113.3 78.3T109.9 71.5M195.9 1.2Q196.6 4.3 199.7 4.5T203.5 7.7M168.1 44.7Q169.3 49.4 172.3 53.1T176.6 61.6M96.6 99.1Q93.5 95.8 92.7 91.4T88.9 83.6M168.9 55Q170.3 56.9 169.6 59.1T170.3 63.2M96.4 52.1Q99.8 48.8 101.7 44.4T107 36.7M166.3 16.6Q170.4 19.7 171.6 24.7T176.9 32.8M165.3 15Q167.3 17.9 170.8 18.5T176.3 21.9M110.5 88.5Q109.3 85.7 106.5 84.4T102.5 80.3M188.8 11Q192 11.4 192.7 14.5T196.5 18.1" fill="none" stroke="#94709f" stroke-width="1.0" opacity="0.85" stroke-linecap="round"/>
<path d="M87.7 93.4Q88.9 89.2 86.4 85.6T85.1 77.8M105.6 14.1Q109.2 13.6 111.3 10.6T117 7.2M189.6 25.7Q191 30.3 194.7 33.4T199.8 41.1M158.6 58.6Q156.9 60.7 157.4 63.4T156.2 68.3M154 15.7Q157.3 14.1 160 16.6T165.9 17.6M126.5 80.5Q123.1 76.6 123.6 71.4T120.6 62.3M158.4 11.2Q162.7 11.5 164.7 15.3T171.1 19.3M171.5 52Q173.7 55.7 172.8 59.9T174.2 67.8M105.9 34.6Q108.6 34.6 110 32.3T114.1 30M77.6 94.4Q75.3 92.8 75.8 90.1T73.9 85.8M199.5 17.1Q200.3 20.5 203.5 22T207.4 27M145.6 12.7Q148.9 14 152.4 13.3T159.2 13.9M96.4 91.1Q95.5 86.9 91.3 85.7T86.3 80.3M122.1 45.6Q126 45.8 129.1 43.4T136.2 41.1M136.4 5.4Q140.3 4.8 143.6 7.1T150.7 8.8M73 48.4Q76.4 44.4 76.7 39.2T80.4 30M185.1 118.3Q183.1 119.9 180.6 119.8T176.2 121.3M106.8 66.6Q107.6 63.8 105.8 61.6T104.8 56.6M172.2 39Q175 41.9 174.8 45.9T177.4 52.8M185.3 39.3Q183.8 42.5 185.6 45.6T185.9 51.9M195 0.2Q197 3.7 200.6 5.8T206.1 11.3M178.6 13.8Q180.9 14.9 181 17.5T183.3 21.1M135.1 72.5Q135.4 68.8 132.4 66.8T129.7 61.2M138.6 50.4Q142.1 50 145.1 51.8T151.6 53.3M156.1 23.5Q157.7 27.7 162.2 28.4T168.3 33.4M160.4 97.9Q156 97.7 152.4 100T144.4 102M144.5 111.6Q140.3 114.4 135.4 113.1T126.4 114.6M84.9 104.9Q82.4 104.2 81.3 101.9T77.7 98.9M176.4 34.4Q178.6 35.8 179.2 38.3T181.9 42.3M139.5 97Q136.3 95.1 132.7 95.3T125.9 93.7M103.9 41.4Q104.8 37.3 108.6 35.5T113.4 29.7M73 49.3Q74.5 47 73 44.6T73.1 40M122.8 114.1Q121.1 111.6 118.7 113.4T114.6 112.6M149.2 102.6Q145.5 104.2 142.7 101.4T136.1 100.2M115.1 54.8Q118.5 52.1 117.9 47.8T120.7 40.7M173.5 39.6Q177.2 42.3 177.6 46.8T181.7 54M176.4 19.9Q180.9 21.3 183.7 25.2T191.1 30.5M157 5.2Q158.1 8.3 161.4 8T165.7 10.7M121.1 30.9Q124.7 28 129.2 28.8T137.4 26.6M129.7 27.3Q131.5 24.8 134.2 26.1T138.7 24.9M120.2 70.2Q117.9 65.9 119 61.2T117.9 52.3M143.1 110.3Q138.8 108.2 134.2 109.3T125.4 108.3M93.4 72.1Q94.5 67.9 92.8 64T92.2 55.9M194.9 16.9Q199.7 18.2 201.5 22.8T208.1 28.6M187 20.6Q186.8 25.6 190.3 29.1T193.5 37.7M178.9 18.4Q179.1 21.4 181.7 23.1T184.4 27.9M146.9 117Q144.3 116.6 142.5 118.4T138 119.9M101 100.4Q98 99.4 98.8 96.3T96.6 92.2M110.1 60.9Q108.2 57.8 110 54.6T109.8 48.2M150 112.9Q147.7 111.9 145.6 113.2T141.3 113.5M80.4 54.9Q80.6 49.8 82.9 45.3T85.4 35.7M165.9 9.7Q169.7 10.2 172.6 12.8T179.3 15.8M140.4 37.1Q143.3 39.4 147 39.7T153.5 42.3M145.2 102.9Q142.7 104.7 140.2 102.9T135.2 102.9M78.1 59.7Q78.9 57.5 77.4 55.7T76.6 51.7M137.8 40Q142.4 40.2 144.9 44.1T152.1 48.1M120.3 26.4Q125.4 26.3 129.5 23.2T138.8 20.1M102.7 114.4Q101.1 109.9 97.6 106.7T92.5 98.9M199.1 58.3Q201.2 62.3 199.3 66.5T199.6 74.6M106.3 91Q102.8 88.7 101.2 84.9T96.2 78.8" fill="none" stroke="#f6ecf6" stroke-width="1.1" opacity="0.85" stroke-linecap="round"/>
<path d="M195.7,80.9C194.7,83.9 193.3,86.9 191.6,89.6C190.0,92.3 188.0,94.9 185.8,97.3C183.6,99.6 181.1,101.8 178.5,103.6C175.9,105.5 173.1,107.2 170.2,108.5C167.3,109.9 164.2,111.1 161.1,111.9C158.0,112.8 154.8,113.4 151.6,113.8C148.4,114.2 145.2,114.3 142.0,114.2C138.7,114.1 135.5,113.7 132.3,113.1C129.2,112.5 126.0,111.6 123.0,110.5C119.9,109.4 117.0,108.1 114.1,106.5C111.3,104.9 108.6,103.1 106.1,101.1C103.6,99.1 101.2,96.8 99.1,94.5C97.0,92.1 95.1,89.5 93.4,86.8C91.8,84.1 90.3,81.2 89.1,78.3C88.0,75.4 87.0,72.4 86.3,69.3C85.7,66.3 85.3,63.1 85.1,60.0C85.0,56.9 85.1,53.8 85.5,50.7C85.9,47.6 86.5,44.5 87.4,41.5C88.4,38.5 89.6,35.6 91.1,32.8C92.5,30.0 94.3,27.3 96.3,24.8C98.3,22.3 100.6,20.0 103.1,17.9C105.6,15.9 108.4,14.1 111.3,12.5C114.1,11.0 117.3,9.8 120.4,8.9C123.6,7.9 126.9,7.3 130.1,7.0C133.4,6.7 136.8,6.8 140.0,7.0C143.3,7.3 146.6,7.9 149.7,8.8C152.8,9.6 155.9,10.7 158.8,12.0C161.8,13.2 164.6,14.7 167.3,16.4C170.0,18.0 172.6,19.9 175.0,21.9C177.5,23.8 179.8,26.0 181.9,28.3C184.1,30.6 186.1,33.0 187.9,35.6C189.7,38.2 191.4,40.9 192.7,43.7C194.1,46.6 195.3,49.5 196.2,52.6C197.1,55.6 197.7,58.8 198.0,62.0C198.3,65.1 198.2,68.4 197.9,71.6C197.5,74.7 196.8,77.9 195.7,80.9Z" fill="#7a4680" opacity="0.85"/>
<path d="M193.8,80.4C192.7,83.3 191.4,86.2 189.7,88.9C188.1,91.6 186.2,94.2 184.0,96.5C181.9,98.7 179.5,100.9 176.9,102.7C174.4,104.6 171.6,106.2 168.8,107.5C166.0,108.9 163.0,110.0 160.0,110.9C157.0,111.8 153.8,112.4 150.7,112.8C147.6,113.1 144.4,113.3 141.3,113.2C138.2,113.1 135.0,112.7 131.9,112.1C128.8,111.5 125.8,110.7 122.8,109.6C119.9,108.5 116.9,107.2 114.2,105.7C111.5,104.2 108.8,102.4 106.4,100.4C104.0,98.4 101.7,96.2 99.6,93.9C97.6,91.6 95.7,89.0 94.1,86.4C92.5,83.8 91.1,81.0 89.9,78.1C88.8,75.3 87.9,72.3 87.2,69.3C86.6,66.3 86.2,63.2 86.1,60.2C85.9,57.2 86.0,54.1 86.4,51.0C86.8,48.0 87.5,45.0 88.4,42.0C89.3,39.1 90.5,36.2 91.9,33.5C93.4,30.7 95.1,28.1 97.1,25.6C99.0,23.2 101.3,20.9 103.7,18.9C106.1,16.9 108.8,15.1 111.7,13.6C114.5,12.1 117.5,10.8 120.6,9.9C123.6,9.0 126.9,8.4 130.1,8.1C133.2,7.8 136.5,7.8 139.7,8.1C142.9,8.4 146.1,9.0 149.1,9.8C152.2,10.6 155.2,11.6 158.0,12.9C160.9,14.1 163.6,15.6 166.3,17.2C168.9,18.8 171.4,20.6 173.8,22.5C176.1,24.5 178.4,26.6 180.5,28.8C182.6,31.1 184.5,33.4 186.3,36.0C188.0,38.5 189.6,41.1 191.0,43.9C192.3,46.7 193.5,49.6 194.3,52.6C195.1,55.6 195.8,58.7 196.0,61.8C196.3,64.9 196.2,68.1 195.9,71.2C195.5,74.3 194.8,77.4 193.8,80.4Z" fill="#8a5088"/>
<path d="M193.1,80.2C192.0,83.0 190.5,85.8 188.9,88.4C187.3,91.1 185.4,93.6 183.3,95.9C181.2,98.1 178.9,100.3 176.5,102.2C174.1,104.1 171.4,105.9 168.6,107.3C165.9,108.7 162.9,109.9 159.9,110.8C156.9,111.7 153.8,112.2 150.7,112.5C147.6,112.8 144.4,112.8 141.3,112.6C138.2,112.4 135.1,111.9 132.1,111.3C129.0,110.6 126.0,109.8 123.1,108.8C120.2,107.7 117.3,106.5 114.6,105.1C111.8,103.7 109.1,102.0 106.6,100.1C104.1,98.3 101.8,96.1 99.7,93.8C97.6,91.5 95.8,89.0 94.2,86.3C92.7,83.7 91.4,80.8 90.4,78.0C89.4,75.1 88.6,72.1 88.1,69.2C87.5,66.2 87.2,63.2 87.0,60.2C86.9,57.2 86.9,54.2 87.2,51.2C87.5,48.2 88.0,45.1 88.8,42.2C89.6,39.2 90.7,36.3 92.1,33.5C93.5,30.8 95.2,28.1 97.2,25.7C99.2,23.3 101.5,21.1 104.0,19.2C106.5,17.3 109.3,15.7 112.1,14.3C114.9,12.9 117.9,11.7 120.9,10.8C123.9,9.9 127.1,9.3 130.2,8.9C133.4,8.6 136.6,8.4 139.7,8.6C142.8,8.8 146.0,9.2 149.1,9.9C152.1,10.7 155.1,11.7 158.0,13.0C160.8,14.2 163.5,15.8 166.1,17.5C168.7,19.2 171.0,21.1 173.3,23.1C175.6,25.1 177.7,27.2 179.8,29.4C181.8,31.6 183.7,33.9 185.5,36.4C187.3,38.8 189.0,41.4 190.4,44.1C191.9,46.8 193.2,49.7 194.1,52.6C195.0,55.6 195.6,58.7 195.9,61.8C196.1,64.9 196.0,68.1 195.6,71.2C195.1,74.2 194.2,77.3 193.1,80.2Z" fill="none" stroke="#c8a0c6" stroke-width="0.9" opacity="0.7"/><path d="M192.1,79.8C191.1,82.7 189.8,85.5 188.2,88.0C186.6,90.6 184.6,93.0 182.4,95.2C180.3,97.3 177.9,99.3 175.4,101.0C172.9,102.7 170.2,104.2 167.5,105.4C164.8,106.7 162.0,107.8 159.1,108.6C156.2,109.5 153.3,110.1 150.3,110.6C147.3,111.0 144.3,111.3 141.3,111.2C138.2,111.2 135.2,111.0 132.2,110.5C129.2,110.0 126.2,109.2 123.3,108.1C120.5,107.1 117.7,105.8 115.1,104.3C112.4,102.7 109.9,100.9 107.6,99.0C105.4,97.0 103.2,94.8 101.3,92.5C99.4,90.3 97.7,87.8 96.2,85.3C94.7,82.7 93.3,80.1 92.2,77.3C91.1,74.6 90.2,71.8 89.5,69.0C88.8,66.1 88.3,63.2 88.1,60.2C87.8,57.3 87.9,54.3 88.2,51.4C88.5,48.4 89.1,45.4 90.0,42.6C90.8,39.8 92.0,37.0 93.5,34.3C94.9,31.7 96.7,29.2 98.6,26.9C100.6,24.6 102.9,22.5 105.2,20.6C107.6,18.8 110.2,17.1 112.9,15.7C115.7,14.3 118.5,13.1 121.5,12.2C124.4,11.3 127.5,10.7 130.5,10.3C133.5,10.0 136.7,9.9 139.7,10.1C142.8,10.2 145.9,10.7 148.8,11.4C151.8,12.1 154.7,13.1 157.5,14.3C160.3,15.5 162.9,17.0 165.4,18.6C168.0,20.2 170.3,22.0 172.6,23.9C174.8,25.9 176.9,28.0 178.8,30.2C180.7,32.4 182.6,34.7 184.2,37.1C185.8,39.5 187.4,42.1 188.7,44.7C190.0,47.3 191.2,50.1 192.0,53.0C192.9,55.8 193.6,58.8 194.0,61.8C194.3,64.8 194.4,67.9 194.1,70.9C193.8,73.9 193.1,76.9 192.1,79.8Z" fill="none" stroke="#c8a0c6" stroke-width="0.9" opacity="0.7"/><path d="M189.9,79.0C188.9,81.7 187.7,84.4 186.3,87.0C184.9,89.5 183.3,92.1 181.4,94.3C179.4,96.5 177.2,98.5 174.8,100.2C172.4,101.9 169.6,103.3 166.9,104.5C164.2,105.6 161.4,106.5 158.5,107.2C155.7,108.0 152.9,108.6 150.0,109.1C147.1,109.5 144.2,109.9 141.2,109.9C138.3,109.9 135.3,109.7 132.4,109.1C129.5,108.5 126.7,107.6 124.0,106.5C121.2,105.3 118.6,103.9 116.1,102.4C113.6,101.0 111.2,99.3 108.8,97.6C106.5,95.8 104.2,93.9 102.2,91.8C100.2,89.7 98.3,87.4 96.8,84.9C95.3,82.4 94.1,79.7 93.1,77.0C92.2,74.3 91.6,71.5 91.1,68.7C90.5,65.9 90.2,63.1 90.0,60.3C89.8,57.4 89.7,54.5 89.9,51.7C90.1,48.8 90.6,45.9 91.4,43.1C92.3,40.4 93.5,37.7 95.0,35.2C96.4,32.7 98.2,30.3 100.1,28.1C102.0,25.9 104.2,23.9 106.4,21.9C108.6,20.0 111.0,18.2 113.5,16.7C116.1,15.2 118.9,13.8 121.7,12.9C124.6,12.1 127.7,11.5 130.7,11.4C133.7,11.2 136.8,11.4 139.8,11.8C142.7,12.2 145.6,12.8 148.5,13.5C151.3,14.2 154.1,15.1 156.8,16.1C159.6,17.2 162.3,18.3 164.7,19.8C167.2,21.3 169.6,23.0 171.8,24.9C173.9,26.7 175.9,28.9 177.7,31.0C179.6,33.2 181.3,35.5 182.9,37.8C184.5,40.1 186.2,42.5 187.5,45.1C188.9,47.6 190.2,50.3 191.1,53.1C191.9,55.9 192.5,58.9 192.7,61.8C192.9,64.7 192.6,67.7 192.1,70.5C191.7,73.4 190.8,76.2 189.9,79.0Z" fill="none" stroke="#c8a0c6" stroke-width="0.9" opacity="0.7"/><path d="M188.5,78.5C187.5,81.1 186.2,83.7 184.8,86.1C183.4,88.6 181.8,91.0 180.0,93.1C178.1,95.3 176.0,97.4 173.8,99.1C171.5,100.8 168.9,102.2 166.3,103.4C163.6,104.5 160.8,105.3 158.1,106.0C155.3,106.7 152.5,107.1 149.7,107.5C146.9,107.9 144.1,108.2 141.2,108.2C138.4,108.2 135.5,108.1 132.7,107.6C129.9,107.2 127.0,106.4 124.4,105.3C121.7,104.3 119.2,102.8 116.8,101.4C114.3,99.9 112.1,98.2 109.9,96.4C107.7,94.6 105.5,92.8 103.5,90.7C101.6,88.7 99.7,86.5 98.2,84.2C96.6,81.8 95.3,79.2 94.4,76.6C93.4,74.0 92.8,71.2 92.3,68.5C91.9,65.8 91.7,63.0 91.6,60.3C91.5,57.5 91.4,54.8 91.7,52.0C91.9,49.2 92.3,46.4 93.0,43.7C93.8,41.0 94.8,38.3 96.2,35.9C97.5,33.4 99.3,31.1 101.2,29.0C103.0,26.8 105.2,24.9 107.4,23.1C109.6,21.3 112.0,19.7 114.5,18.2C117.0,16.8 119.6,15.4 122.4,14.5C125.1,13.6 128.1,13.0 131.0,12.7C133.9,12.5 136.9,12.7 139.8,13.0C142.6,13.4 145.5,14.2 148.2,14.9C151.0,15.7 153.7,16.6 156.3,17.7C158.9,18.7 161.5,19.8 163.9,21.2C166.4,22.6 168.7,24.1 170.9,25.9C173.0,27.6 175.0,29.7 176.8,31.8C178.6,33.9 180.2,36.2 181.7,38.5C183.2,40.8 184.6,43.1 185.9,45.6C187.2,48.1 188.5,50.7 189.3,53.4C190.2,56.1 190.9,58.9 191.2,61.7C191.4,64.6 191.3,67.5 190.8,70.3C190.4,73.1 189.5,75.8 188.5,78.5Z" fill="none" stroke="#c8a0c6" stroke-width="0.9" opacity="0.7"/><path d="M187.5,78.1C186.6,80.7 185.5,83.3 184.1,85.7C182.7,88.1 180.9,90.3 178.9,92.3C177.0,94.3 174.8,96.1 172.5,97.6C170.2,99.2 167.7,100.5 165.2,101.6C162.7,102.7 160.1,103.7 157.5,104.5C154.8,105.2 152.1,105.9 149.4,106.3C146.7,106.7 144.0,106.9 141.2,106.9C138.4,106.9 135.6,106.7 132.9,106.2C130.2,105.7 127.4,105.0 124.9,104.0C122.3,103.0 119.8,101.7 117.4,100.3C115.0,98.8 112.8,97.2 110.7,95.4C108.6,93.6 106.7,91.7 104.9,89.7C103.1,87.6 101.4,85.5 99.9,83.2C98.5,80.9 97.1,78.5 96.0,76.1C94.9,73.6 94.0,71.0 93.4,68.3C92.8,65.7 92.4,63.0 92.3,60.3C92.3,57.6 92.5,54.9 92.9,52.2C93.3,49.6 94.0,46.9 94.9,44.4C95.8,41.9 96.9,39.4 98.2,37.0C99.5,34.6 100.9,32.3 102.6,30.1C104.3,28.0 106.1,25.8 108.2,24.0C110.3,22.2 112.6,20.5 115.0,19.1C117.5,17.7 120.2,16.6 122.9,15.8C125.6,15.0 128.5,14.6 131.3,14.4C134.1,14.2 137.0,14.4 139.8,14.7C142.6,15.0 145.3,15.6 148.0,16.4C150.7,17.1 153.3,18.0 155.8,19.0C158.3,20.1 160.7,21.3 163.1,22.6C165.4,23.9 167.7,25.4 169.9,27.1C172.0,28.7 174.1,30.5 175.9,32.5C177.7,34.5 179.4,36.6 180.9,38.9C182.4,41.2 183.6,43.6 184.7,46.0C185.8,48.5 186.7,51.1 187.4,53.7C188.1,56.3 188.6,59.0 188.9,61.7C189.2,64.4 189.2,67.2 189.0,69.9C188.8,72.7 188.3,75.5 187.5,78.1Z" fill="none" stroke="#c8a0c6" stroke-width="0.9" opacity="0.7"/>
<path d="M192.7,80.0C191.8,82.9 190.5,85.8 188.9,88.5C187.4,91.1 185.4,93.6 183.3,95.9C181.2,98.1 178.7,100.1 176.2,101.9C173.7,103.6 170.9,105.1 168.1,106.3C165.3,107.6 162.3,108.6 159.4,109.4C156.4,110.2 153.4,110.7 150.4,111.1C147.4,111.5 144.3,111.6 141.3,111.6C138.2,111.6 135.2,111.3 132.1,110.8C129.1,110.3 126.1,109.6 123.2,108.6C120.2,107.7 117.3,106.4 114.6,104.9C111.9,103.5 109.3,101.7 107.0,99.7C104.6,97.8 102.4,95.6 100.4,93.2C98.5,90.9 96.8,88.4 95.3,85.7C93.8,83.1 92.5,80.4 91.4,77.6C90.4,74.8 89.6,71.9 88.9,69.0C88.3,66.1 87.9,63.2 87.7,60.2C87.5,57.3 87.5,54.3 87.8,51.3C88.1,48.3 88.6,45.3 89.4,42.4C90.2,39.5 91.3,36.6 92.7,33.9C94.1,31.2 95.8,28.6 97.8,26.2C99.8,23.9 102.0,21.7 104.5,19.7C106.9,17.8 109.6,16.2 112.4,14.8C115.2,13.4 118.2,12.3 121.2,11.5C124.2,10.6 127.3,10.1 130.4,9.8C133.5,9.5 136.6,9.5 139.7,9.7C142.8,9.9 145.9,10.4 148.9,11.1C151.9,11.8 154.8,12.7 157.7,13.8C160.5,15.0 163.3,16.4 165.8,17.9C168.4,19.5 170.9,21.3 173.2,23.2C175.5,25.1 177.7,27.2 179.7,29.5C181.7,31.7 183.5,34.1 185.1,36.6C186.7,39.1 188.2,41.7 189.4,44.4C190.7,47.2 191.8,50.0 192.6,52.9C193.4,55.8 194.1,58.8 194.4,61.8C194.7,64.8 194.8,67.9 194.5,71.0C194.2,74.0 193.6,77.1 192.7,80.0Z" fill="none" stroke="#3e1440" stroke-width="1.1" opacity="0.9"/><path d="M190.6,79.2C189.7,82.0 188.5,84.8 187.1,87.4C185.7,90.0 184.0,92.6 182.0,94.8C180.0,97.0 177.7,99.1 175.3,100.8C172.9,102.6 170.1,104.0 167.4,105.2C164.6,106.4 161.7,107.3 158.8,108.0C156.0,108.8 153.0,109.3 150.1,109.7C147.2,110.1 144.2,110.3 141.3,110.4C138.3,110.4 135.3,110.2 132.3,109.7C129.4,109.3 126.4,108.5 123.6,107.4C120.8,106.4 118.1,105.0 115.5,103.4C113.0,101.9 110.6,100.0 108.4,98.1C106.1,96.2 104.0,94.1 102.0,92.0C100.1,89.8 98.2,87.5 96.6,85.0C94.9,82.6 93.4,80.0 92.3,77.3C91.1,74.6 90.2,71.8 89.6,68.9C89.0,66.1 88.8,63.1 88.8,60.2C88.8,57.4 89.1,54.5 89.5,51.6C90.0,48.8 90.6,45.9 91.5,43.1C92.3,40.4 93.3,37.6 94.5,34.9C95.8,32.3 97.3,29.6 99.1,27.3C100.9,24.9 103.0,22.7 105.4,20.8C107.7,18.9 110.4,17.3 113.1,16.0C115.8,14.6 118.8,13.6 121.7,12.9C124.6,12.1 127.7,11.6 130.7,11.2C133.7,10.9 136.7,10.8 139.7,10.9C142.7,11.1 145.8,11.5 148.7,12.1C151.6,12.8 154.5,13.8 157.2,15.0C159.9,16.2 162.5,17.8 165.0,19.4C167.4,21.0 169.7,22.9 171.9,24.8C174.0,26.7 176.1,28.6 178.1,30.7C180.1,32.8 182.1,35.0 183.8,37.3C185.6,39.6 187.3,42.1 188.6,44.7C190.0,47.3 191.1,50.1 191.9,53.0C192.7,55.8 193.1,58.8 193.2,61.8C193.4,64.7 193.1,67.7 192.7,70.6C192.3,73.5 191.5,76.4 190.6,79.2Z" fill="none" stroke="#3e1440" stroke-width="1.1" opacity="0.9"/><path d="M189.1,78.7C188.2,81.4 187.2,84.2 185.9,86.7C184.5,89.2 182.8,91.8 180.9,93.9C178.9,96.0 176.4,97.7 174.0,99.3C171.6,100.9 168.9,102.2 166.3,103.5C163.7,104.7 161.2,106.0 158.4,106.9C155.7,107.9 152.8,108.7 150.0,109.0C147.1,109.3 144.1,109.2 141.2,108.9C138.3,108.7 135.5,108.2 132.7,107.6C129.8,107.1 127.0,106.6 124.2,105.8C121.4,104.9 118.6,103.9 116.1,102.4C113.6,101.0 111.3,99.1 109.2,97.2C107.0,95.3 105.1,93.2 103.2,91.0C101.3,88.9 99.3,86.8 97.7,84.4C96.1,82.0 94.6,79.5 93.6,76.9C92.6,74.2 92.0,71.4 91.5,68.6C91.1,65.9 90.9,63.1 90.8,60.3C90.7,57.5 90.5,54.6 90.7,51.8C90.9,49.0 91.3,46.1 92.2,43.4C93.0,40.7 94.4,38.1 95.9,35.7C97.3,33.2 99.1,31.0 100.8,28.7C102.6,26.5 104.5,24.2 106.6,22.2C108.8,20.3 111.2,18.4 113.8,17.0C116.3,15.7 119.3,14.8 122.2,14.1C125.1,13.3 128.0,13.0 131.0,12.7C133.9,12.4 136.8,12.2 139.8,12.3C142.7,12.4 145.7,12.7 148.5,13.5C151.3,14.2 154.0,15.5 156.6,16.8C159.2,18.0 161.6,19.6 164.0,21.0C166.4,22.5 168.9,23.9 171.1,25.6C173.4,27.3 175.7,29.1 177.6,31.2C179.5,33.2 181.1,35.6 182.6,38.0C184.1,40.4 185.3,42.9 186.6,45.4C187.8,48.0 189.2,50.6 190.1,53.3C191.0,56.0 191.8,58.9 192.0,61.8C192.2,64.6 191.9,67.6 191.4,70.4C190.9,73.2 190.0,76.0 189.1,78.7Z" fill="none" stroke="#3e1440" stroke-width="1.1" opacity="0.9"/><path d="M188.4,78.4C187.5,81.1 186.1,83.7 184.6,86.0C183.1,88.4 181.2,90.5 179.2,92.5C177.2,94.5 175.0,96.3 172.7,97.9C170.5,99.5 168.1,101.0 165.6,102.3C163.2,103.6 160.6,104.8 157.9,105.7C155.3,106.5 152.5,107.2 149.7,107.5C146.9,107.9 144.0,107.9 141.2,107.7C138.4,107.6 135.6,107.0 132.9,106.4C130.1,105.8 127.5,105.0 124.8,104.0C122.2,103.1 119.6,102.0 117.2,100.7C114.7,99.4 112.2,98.0 110.0,96.3C107.7,94.6 105.6,92.7 103.7,90.6C101.9,88.5 100.3,86.2 98.9,83.8C97.5,81.4 96.5,78.8 95.5,76.2C94.6,73.6 93.9,71.0 93.4,68.3C92.8,65.7 92.4,63.0 92.1,60.3C91.9,57.6 91.8,54.8 92.1,52.1C92.3,49.4 92.8,46.6 93.6,43.9C94.4,41.3 95.6,38.7 97.0,36.3C98.4,33.9 100.1,31.7 101.9,29.6C103.7,27.5 105.8,25.5 107.9,23.7C110.1,21.9 112.4,20.3 114.9,18.9C117.3,17.5 120.0,16.2 122.7,15.3C125.4,14.4 128.3,13.7 131.1,13.5C134.0,13.2 136.9,13.3 139.8,13.6C142.6,13.9 145.4,14.7 148.1,15.5C150.9,16.3 153.5,17.3 156.0,18.4C158.5,19.5 161.0,20.8 163.4,22.1C165.8,23.5 168.1,24.9 170.3,26.6C172.5,28.2 174.6,30.1 176.5,32.1C178.3,34.1 180.0,36.3 181.5,38.6C183.0,40.9 184.3,43.3 185.4,45.8C186.5,48.3 187.4,50.9 188.1,53.6C188.9,56.2 189.5,59.0 189.8,61.7C190.1,64.5 190.3,67.4 190.1,70.1C189.8,72.9 189.3,75.8 188.4,78.4Z" fill="none" stroke="#3e1440" stroke-width="1.1" opacity="0.9"/>
<path d="M187.0,77.7C186.1,80.2 185.0,82.7 183.6,85.0C182.2,87.2 180.5,89.4 178.7,91.3C176.9,93.3 174.8,95.1 172.6,96.6C170.4,98.2 168.1,99.5 165.6,100.7C163.2,101.8 160.6,102.8 158.0,103.5C155.4,104.2 152.8,104.7 150.1,105.0C147.4,105.3 144.7,105.4 142.0,105.3C139.3,105.2 136.5,104.9 133.9,104.4C131.2,103.9 128.6,103.1 126.0,102.2C123.5,101.3 120.9,100.1 118.6,98.8C116.2,97.5 113.9,96.0 111.8,94.3C109.7,92.6 107.7,90.7 105.9,88.7C104.2,86.8 102.5,84.6 101.1,82.3C99.7,80.1 98.5,77.7 97.5,75.3C96.5,72.9 95.7,70.3 95.1,67.8C94.6,65.2 94.2,62.6 94.1,60.0C93.9,57.5 94.0,54.8 94.3,52.3C94.7,49.7 95.2,47.1 96.0,44.6C96.8,42.1 97.8,39.7 99.0,37.3C100.2,35.0 101.7,32.8 103.4,30.7C105.1,28.7 107.0,26.7 109.1,25.0C111.2,23.3 113.5,21.8 115.9,20.6C118.3,19.3 120.9,18.3 123.6,17.5C126.2,16.8 129.0,16.3 131.7,16.0C134.5,15.8 137.3,15.8 140.0,16.1C142.8,16.3 145.5,16.8 148.2,17.5C150.8,18.2 153.4,19.1 155.8,20.2C158.3,21.3 160.7,22.5 163.0,23.9C165.2,25.3 167.4,26.9 169.5,28.5C171.5,30.2 173.5,32.0 175.3,33.9C177.1,35.8 178.8,37.8 180.3,40.0C181.8,42.1 183.2,44.4 184.4,46.8C185.6,49.1 186.6,51.6 187.3,54.2C188.1,56.7 188.6,59.3 188.8,62.0C189.1,64.6 189.1,67.3 188.8,70.0C188.5,72.6 187.9,75.2 187.0,77.7Z" fill="#96608e"/>
<path d="M187.0,77.7C186.1,80.2 185.0,82.7 183.6,85.0C182.2,87.2 180.5,89.4 178.7,91.3C176.9,93.3 174.8,95.1 172.6,96.6C170.4,98.2 168.1,99.5 165.6,100.7C163.2,101.8 160.6,102.8 158.0,103.5C155.4,104.2 152.8,104.7 150.1,105.0C147.4,105.3 144.7,105.4 142.0,105.3C139.3,105.2 136.5,104.9 133.9,104.4C131.2,103.9 128.6,103.1 126.0,102.2C123.5,101.3 120.9,100.1 118.6,98.8C116.2,97.5 113.9,96.0 111.8,94.3C109.7,92.6 107.7,90.7 105.9,88.7C104.2,86.8 102.5,84.6 101.1,82.3C99.7,80.1 98.5,77.7 97.5,75.3C96.5,72.9 95.7,70.3 95.1,67.8C94.6,65.2 94.2,62.6 94.1,60.0C93.9,57.5 94.0,54.8 94.3,52.3C94.7,49.7 95.2,47.1 96.0,44.6C96.8,42.1 97.8,39.7 99.0,37.3C100.2,35.0 101.7,32.8 103.4,30.7C105.1,28.7 107.0,26.7 109.1,25.0C111.2,23.3 113.5,21.8 115.9,20.6C118.3,19.3 120.9,18.3 123.6,17.5C126.2,16.8 129.0,16.3 131.7,16.0C134.5,15.8 137.3,15.8 140.0,16.1C142.8,16.3 145.5,16.8 148.2,17.5C150.8,18.2 153.4,19.1 155.8,20.2C158.3,21.3 160.7,22.5 163.0,23.9C165.2,25.3 167.4,26.9 169.5,28.5C171.5,30.2 173.5,32.0 175.3,33.9C177.1,35.8 178.8,37.8 180.3,40.0C181.8,42.1 183.2,44.4 184.4,46.8C185.6,49.1 186.6,51.6 187.3,54.2C188.1,56.7 188.6,59.3 188.8,62.0C189.1,64.6 189.1,67.3 188.8,70.0C188.5,72.6 187.9,75.2 187.0,77.7Z" fill="none" stroke="#421844" stroke-width="1.3"/>
<path d="M124.4 64.6h0M131.2 59.5h0M167 88.1h0M97.7 62.9h0M119.2 46.2h0M116.2 86.7h0M107.9 51.9h0M100.8 80.3h0M134.8 96.2h0M159.2 62.7h0M114.1 59.2h0M138.6 77.5h0M107.8 76h0M132.7 82.6h0M119.9 65.9h0M133.3 72.4h0M134.7 35.7h0M149 82.1h0M132.5 88.1h0M152.4 59h0M113.3 62.7h0M146 46h0M148.5 76h0M168.7 67h0M141.9 55.2h0M107.9 43.4h0M113.9 44.7h0M128.3 38.8h0M111 83.5h0M128.4 86.4h0M128.5 82.7h0M123.4 76.9h0M127.5 91.1h0M166.2 44h0M144.6 99.9h0M167.4 67.3h0M144.6 72.2h0M107.2 60.9h0" stroke="#643266" stroke-width="2.80" stroke-linecap="round" opacity="0.45"/><path d="M116.2 75.7h0M119.7 54.1h0M158.7 67.7h0M135.4 31.6h0M113.7 37.3h0M145.5 96.2h0M137.5 96.2h0M107.3 58h0M135.7 37.4h0M128.8 37.8h0M130.2 90.5h0M130.1 46.2h0M112.2 60.7h0M119.9 51.2h0M99.7 54.1h0M97.3 75h0M172 79.8h0M159.4 66.8h0M155.3 95.3h0M144.3 59.4h0" stroke="#643266" stroke-width="1.60" stroke-linecap="round" opacity="0.45"/><path d="M155 52.3h0M129.3 76.3h0M121 66.8h0M158.1 77.2h0M150.4 97.7h0M111.4 78h0M148.9 89.5h0M145.3 34h0M135.8 90.9h0M156.1 38.5h0M107.5 78.9h0M157.3 60.1h0" stroke="#643266" stroke-width="4.00" stroke-linecap="round" opacity="0.45"/>
<path d="M137.3 88.1h0M135.6 52.9h0M171.1 58.9h0M151.9 70.2h0M112.3 68.9h0M170.7 64.1h0M106.8 88.5h0M125.3 33.7h0M124.3 49.2h0M131.1 99.7h0M140.9 60.4h0M121.8 71.7h0M141.6 80.7h0M161.6 63.7h0M97.6 68.6h0M113.3 76.7h0M155.5 54.4h0" stroke="#b88cb8" stroke-width="3.00" stroke-linecap="round" opacity="0.45"/><path d="M118.7 85.2h0M126.2 83.7h0M123.9 99.1h0M140 98.9h0M110.9 73.5h0M139.8 39.3h0M168.8 53h0M168.2 71.6h0M123.3 63.6h0M146.1 82.5h0M140.6 79.4h0M112.5 90.6h0M157.2 90.4h0M146.4 47.4h0M116.7 41.8h0M153.5 65.1h0M134.4 69.9h0M124.6 32h0M140 74.1h0M119.8 55.6h0M131.5 62.1h0M112.4 49.2h0M133.2 95.2h0M138.6 43.5h0M117.1 55h0M154 50.5h0M115.5 79h0M107.6 51.2h0M137.7 58h0M156.3 41.1h0" stroke="#b88cb8" stroke-width="2.10" stroke-linecap="round" opacity="0.45"/><path d="M148.4 37.9h0M146.6 52.3h0M157.4 92.5h0M142.7 58.2h0M115.6 40.9h0M127.8 35.4h0M113.8 52.9h0M137 67.7h0M138.4 64.2h0M159 60.8h0M122.2 68.8h0M135.1 50.4h0M111.5 56.3h0" stroke="#b88cb8" stroke-width="1.20" stroke-linecap="round" opacity="0.45"/>
<path d="M140.0,38.0C141.8,35.5 146.2,33.7 150.0,33.0C153.8,32.3 159.2,32.7 163.0,34.0C166.8,35.3 170.3,38.0 173.0,41.0C175.7,44.0 177.7,48.2 179.0,52.0C180.3,55.8 181.3,60.3 181.0,64.0C180.7,67.7 179.2,71.5 177.0,74.0C174.8,76.5 171.2,77.8 168.0,79.0C164.8,80.2 161.0,81.3 158.0,81.0C155.0,80.7 152.2,79.0 150.0,77.0C147.8,75.0 146.4,72.0 145.0,69.0C143.6,66.0 142.4,62.5 141.5,59.0C140.6,55.5 139.8,51.5 139.5,48.0C139.2,44.5 138.2,40.5 140.0,38.0Z" fill="#9c6a9a" stroke="#6a3470" stroke-width="0.9"/>
<path d="M167.6 45h0M166.1 71.6h0M169.3 47.5h0M157.1 60.6h0M165.1 54.4h0M174.9 57.6h0M160.8 53.3h0M161 57.3h0M163.7 50.8h0M169.4 73h0M151 48.5h0M163.1 51.7h0M151.4 65.9h0M156.5 71.9h0M150.6 49.4h0M158.7 55h0M159.6 56.6h0" stroke="#ae88ba" stroke-width="2.80" stroke-linecap="round" opacity="0.55"/><path d="M153.7 51.8h0M161.3 47.8h0M158.8 42h0M166.3 66.3h0M160.1 70.9h0M155.7 70.3h0M172.3 51.8h0M173 67.2h0M170.6 60.6h0M168.8 61.5h0M156.3 63.6h0M156.7 62.5h0M156.7 53.8h0M156.3 73.7h0M155.8 51.1h0M151.8 71.7h0M156.6 67h0M160.6 73.5h0M168.9 44.9h0M170.5 63.9h0M162.4 67.6h0M153.5 60.2h0M150.3 59.1h0M165.5 54.5h0M165.1 46.8h0M169.2 66.4h0M157.4 60.6h0M160.4 57h0M163.7 55.4h0M157.9 69.6h0M173.7 56.1h0M174.2 60.7h0" stroke="#ae88ba" stroke-width="2.00" stroke-linecap="round" opacity="0.55"/><path d="M154.9 49h0M160.9 72.7h0M158.2 58.1h0M173.5 52.4h0M169.3 57h0M154.2 42.2h0M166.7 51.9h0M166.5 68.8h0M171.8 47.7h0M164.1 56.5h0M164.8 67.8h0" stroke="#ae88ba" stroke-width="1.20" stroke-linecap="round" opacity="0.55"/>
<path d="M121.0,46.3C122.3,43.9 123.7,42.4 125.2,41.2C126.8,40.0 128.8,39.6 130.3,39.3C131.8,39.1 133.2,40.3 134.4,39.5C135.7,38.8 136.9,34.6 137.9,34.6C138.9,34.6 139.8,37.0 140.2,39.5C140.6,42.1 140.1,46.8 140.5,50.0C141.0,53.2 141.7,55.7 142.8,58.9C144.0,62.1 145.8,66.1 147.7,69.1C149.5,72.1 151.4,74.9 154.0,77.0C156.6,79.0 163.4,80.9 163.2,81.7C163.0,82.5 155.9,82.3 152.8,81.9C149.8,81.5 147.5,79.2 144.8,79.2C142.1,79.1 139.2,81.1 136.8,81.3C134.3,81.6 132.5,81.3 130.3,80.8C128.1,80.3 125.6,80.3 123.6,78.2C121.6,76.0 119.4,71.7 118.3,67.8C117.3,64.0 117.0,58.8 117.4,55.2C117.9,51.6 119.7,48.6 121.0,46.3Z" fill="#c8a0c0" opacity="0.8"/>
<path d="M122.3,47.6C123.4,45.5 124.7,44.0 126.0,43.0C127.3,42.0 129.1,41.5 130.4,41.3C131.7,41.0 132.9,42.2 134.0,41.5C135.1,40.8 136.2,37.0 137.0,37.0C137.8,37.0 138.6,39.2 139.0,41.5C139.4,43.8 138.9,48.1 139.3,51.0C139.7,53.9 140.3,56.2 141.3,59.1C142.3,62.0 143.9,65.7 145.5,68.4C147.1,71.1 148.8,73.6 151.0,75.5C153.2,77.4 159.2,79.0 159.0,79.8C158.8,80.5 152.7,80.4 150.0,80.0C147.3,79.6 145.3,77.6 143.0,77.5C140.7,77.4 138.1,79.2 136.0,79.5C133.9,79.8 132.3,79.5 130.4,79.0C128.5,78.5 126.3,78.6 124.6,76.6C122.9,74.6 120.9,70.7 120.0,67.2C119.1,63.7 118.8,59.0 119.2,55.7C119.6,52.4 121.2,49.7 122.3,47.6Z" fill="#fefafd"/>
<path d="M133.5 71.3h0M126.6 75.2h0M139.8 70.2h0M124.9 71.6h0M136 72.5h0M139.4 62.5h0M124 70.2h0M125.7 68.1h0M129.7 58.3h0M126.9 65h0M123.9 63.3h0" stroke="#c48aa4" stroke-width="2.00" stroke-linecap="round" opacity="0.7"/><path d="M130.3 75.8h0M130.4 60.4h0M138.9 61.6h0M134.6 62.4h0M137.4 65.6h0M136.8 63.1h0M139.8 62.6h0M122.8 62.5h0M131.9 61.9h0M140.7 66.7h0M130.1 65.7h0M130.6 61.4h0M140.2 68.8h0M127.8 57h0M136.6 74.1h0M136.7 72h0M134.3 71.7h0M135.1 61.2h0M136.4 70.2h0M139.9 69.3h0M121.2 67h0" stroke="#c48aa4" stroke-width="1.46" stroke-linecap="round" opacity="0.7"/><path d="M132.5 55.3h0M124.2 72.5h0M133.3 57.8h0M138.4 59.6h0M131.8 69.9h0M124.3 58.2h0M127 68.3h0M130.6 70.5h0M136 73.6h0M131.5 72.1h0M130.1 64.3h0M130.9 73.4h0M133.6 72.3h0" stroke="#c48aa4" stroke-width="0.90" stroke-linecap="round" opacity="0.7"/>
<path d="M134.1 57.2h0M128.2 56.3h0M134.2 55.7h0M130.8 56.9h0M125.8 54.2h0M135.7 52.2h0M123.4 49.8h0" stroke="#8a6a80" stroke-width="1.36" stroke-linecap="round" opacity="0.7"/><path d="M132.3 51.5h0M134.2 55h0M127.7 45.5h0M132.2 49.8h0M132.8 56.9h0" stroke="#8a6a80" stroke-width="1.80" stroke-linecap="round" opacity="0.7"/><path d="M130.5 54.9h0M134.3 51.1h0M136.3 53.4h0" stroke="#8a6a80" stroke-width="0.90" stroke-linecap="round" opacity="0.7"/>
<path d="M151,33 C163,32 175,39 180.5,49 C184.5,57 185,66 182.5,72 C181.5,74.5 179.5,75 179.5,73 C180.5,66 180,58 176.5,51 C171.5,42 162,36.5 151,36 Z" fill="#fdf8fc"/>
</g></g>
<g clip-path="url(#cB)">
<g filter="url(#soft)">
<rect x="316" y="-5" width="161" height="126" fill="#f2e2f0"/>
<path d="M349.2 87.8Q343.4 85.6 345.9 80T342.6 72.2M397.9 112.1Q395.2 113.9 392.7 111.7T387.4 111.4M461.8 44.7Q465.5 47.1 461.8 49.7T461.9 54.7M396.3 116.4Q391.8 113.9 387 115.5T377.6 114.6M369 62.2Q371.7 60.7 370.7 57.7T372.4 53.2M423.8 6.9Q429.5 5.5 432.9 10.3T441.9 13.6M373.4 61.5Q371 59.1 372.8 56.2T372.2 51M353.6 87.4Q350 83.4 350.8 78.2T348 68.9M398 97.7Q396.3 94.3 392.9 95.9T387.8 94.2M464.9 51.9Q463 55.1 465.1 58.2T465.4 64.4M339 93.5Q339 87.6 335.1 83.3T331.1 73.1M410.9 52.6Q413.6 56.4 411.5 60.6T412.1 68.6M343.7 50.4Q347.6 46.1 346.7 40.4T349.7 30.3M350.2 110.7Q345.8 111.5 346.5 107.1T342.7 103.5M431.8 98.1Q430 104.8 423.1 104.2T414.3 110.4M417 99.5Q415.3 104.9 410.2 102.4T403.3 105.4M359.5 72.1Q360.8 68.2 358.1 65.2T356.8 58.2M372.4 102.3Q367.6 102.8 364.5 99T356.5 95.7M325.6 47.7Q330.2 44.6 331.5 39.2T337.3 30.7M345.1 85.4Q339.5 81.6 342.1 75.4T339.1 65.5M369.9 19.6Q373.9 22 376.2 17.8T382.6 16.1M445.1 29.2Q449.7 30.9 449.3 35.7T453.4 42.3M342.8 88.2Q337.8 87.5 340 83T337.2 77.9M404 25.4Q408.1 25.9 409.2 29.8T414.5 34.3M332.8 14.2Q332.4 11.3 335.3 10.9T337.9 7.6M335 37.3Q339.4 37 339 32.6T343 28M350.7 23.3Q349.8 19 354.2 19.3T357.6 15.2M401.6 87.3Q400 83.9 397.2 86.5T392.9 85.6M332.1 93.6Q335.5 89.9 330.6 88.6T329.1 83.6M416.5 82.5Q411.6 81.6 412.4 86.5T408.3 90.5M441.9 48.8Q445.3 52.7 442.3 56.8T442.6 64.9M437.4 109.3Q435.6 112.6 431.9 112.2T426.5 115.1M448.3 108.5Q444.5 109.4 444 113.3T439.7 118.2M325.3 15Q331 14.1 332.5 8.5T339.7 2M466.2 70.2Q461.1 73.5 464 78.9T461.8 87.5M327.8 10.6Q333.1 8.4 331.6 2.9T335.4 -4.9M446.5 77.1Q442.8 79.7 444.4 84T442.3 90.8M363.2 109.7Q357.9 110.8 355.4 106.1T347.6 102.5M437.2 98.1Q431.8 98.6 429.3 103.3T421.4 108.5M459.1 36.5Q461.6 40.5 459.4 44.8T459.7 53.1M359.1 106.4Q354.2 105.8 351.5 101.6T343.9 96.7M374.7 113.9Q368.6 115.6 366.7 109.4T358.6 105M345.1 58.9Q343 54.3 346.1 50.3T347.2 41.6M464 31.6Q468.5 34 464.6 37.4T465.3 43.1M388.9 26Q394.1 22.6 397.6 27.7T406.2 29.3M384.4 54.9Q386.1 49.7 391.5 50.7T398.7 46.4M404.3 9.2Q408.8 14.3 414.9 11.5T425.5 13.7M463.4 77.8Q465.6 80.7 462.1 81.7T460.9 85.7M378.1 57.6Q381.8 53 387.6 52.2T397.1 46.7M365.8 62.8Q363.4 57.1 367.7 52.7T369.5 42.6M456.1 40.6Q454.5 46.2 458.7 50.1T461.3 59.7M395.7 21.8Q398.2 27.7 404.3 26.1T412.9 30.4M323 72Q321.1 69.5 323.7 67.5T324.3 63M402.9 57.3Q398.3 57.2 396.1 61.1T389.3 64.9M342.6 41.7Q339.8 36.9 344.2 33.4T345.7 25.1M342.6 18.7Q347.4 16.4 349.1 11.4T355.6 4.1M325.5 66.1Q324.1 61.5 326.6 57.4T327.7 48.7M354.7 47.2Q351.7 43.4 356.1 41.6T357.6 36M390.5 9.9Q395 5.7 400.2 9.1T410 8.3M415.7 65.5Q411.2 68.3 412.6 73.4T409.5 81.3M349.4 107.5Q345.1 104.1 345.5 98.7T341.6 89.9M445.1 100.9Q440.3 100.3 438.4 104.7T431.7 108.6M466.3 99.6Q462.5 103.4 463.2 108.7T460.1 117.7M354.9 5.4Q356.3 0.2 361 2.9T367.2 0.4M407.4 103.1Q405.2 98.8 402 102.3T396.6 101.5M436.4 97Q431.7 97.8 432.7 102.4T429 107.8M380.3 85.9Q373.8 84.5 374.1 77.9T368 70M470.6 78.2Q470 84.1 465.1 87.6T459.7 97M390.7 40.7Q396.6 39.3 401.4 43T412.1 45.3M391.7 80.9Q386.6 79.5 385.1 74.3T378.4 67.7M380.2 48.5Q384.6 48.1 385.9 43.9T391.7 39.2M436.4 33Q441.5 34 440.2 39T443.9 45M467.7 37.8Q466.4 42.4 471 43.7T474.3 49.6M469.9 17.5Q467.3 21.3 471.6 22.8T473.4 28.2M328.2 110.1Q328.9 106.4 325.1 106.3T322 102.5M421.3 62.4Q420.9 67.7 415.9 69.4T410.5 76.5M362.9 99.3Q357.7 96.5 358.8 90.7T354.7 82.1M379.8 102.1Q374.6 102.4 371.3 98.5T362.9 94.8M441.2 23.7Q446.5 25.3 446.5 30.7T451.8 37.7M346.5 94.8Q346.9 89.1 341.2 89.5T336 84.1M390 1.6Q395.2 5 399.9 1.1T409.8 0.5M373.4 16Q377.7 10.7 383.5 14.3T393.5 12.6M359.5 88.3Q360.5 83.6 356.1 81.7T352.7 75.1M327.3 114.2Q328.5 110.1 324.2 110.3T321.1 106.4M388.6 65Q385.3 61.3 390 59.6T391.4 54.2M463.3 91.3Q461.9 96.6 456.5 97.9T449.8 104.4M339.5 4.9Q343.3 5.3 344.3 1.6T349.2 -1.8M325.4 25.9Q324.8 22.4 328.3 21.7T331.1 17.5M338.3 66.8Q335.7 64.6 337.9 62T337.4 57.2M426.3 57.9Q429 60 426.6 62.5T427 67.1M395.9 95.6Q389.9 96.3 386.2 91.5T376.6 87.3M471.4 86.7Q467.1 88.9 465.9 93.6T460.4 100.4M405.7 103.7Q400.9 105.6 396.3 103.4T386.9 103.1M422.3 86.9Q418.1 86 417.7 90.4T413.1 93.9M341.7 47.2Q347.5 45.4 345.8 39.5T349.8 31.9M358.5 17.9Q359.7 12.4 365.2 13.4T372 8.9M341.1 39.9Q346 40 343.6 35.8T346 31.7M331.9 95.6Q326.9 92.3 328.4 86.5T324.9 77.4M398.5 67.1Q396.9 62.6 392.5 64.5T386.5 62M406.2 43.9Q411.1 45.5 412.8 50.4T419.5 57M348.9 28.7Q347.7 22 353.9 19.2T358.9 9.7M465.2 22.5Q468.5 25.1 466.6 28.8T467.9 35.2M418.9 93Q413.7 92.1 410.7 96.5T402.6 100M459.6 70.1Q462.3 74.5 457.3 75.6T455 81.2M363.6 118.7Q359 120.5 358.2 115.6T352.7 112.5M328 77.1Q322.8 73.1 325.2 67T322.4 57M460.6 97.9Q454.5 97.9 452.7 103.7T444.8 109.4M418.2 20.6Q417.1 24.9 421.5 24.5T424.9 28.5M360.9 19.9Q360.4 14.8 365.5 15T370.2 10.2M342.5 19.3Q346.2 17.1 346.1 12.9T349.6 6.5M391.1 32.7Q393.7 37.3 398.1 34.3T405 35.9M463.2 58.5Q460 62.3 464.6 64.3T466 70.1M464.9 22.5Q463.3 28.1 468.9 29.8T472.9 37.2M338.6 50.2Q336.1 44.1 341.4 40T344.2 29.8M366.1 93.5Q362 95.2 363.1 90.9T360 88.2M424.3 54.5Q421.8 57.6 425.7 58.5T427.1 62.6M414.5 97Q410.1 101.2 404.7 98.5T394.9 100.1M345.3 27.3Q350.1 25.3 351 20.2T356.7 13.1M389.2 97.3Q383.6 96.7 380.8 91.8T372.5 86.3M363.6 39.2Q364.6 34.3 369.5 35.3T375.4 31.4M458.3 45Q460 49.8 456.9 53.8T455.4 62.7M424.1 113Q419.4 117.7 414 113.9T403.9 114.7M415.4 104.8Q410.2 108.3 404.9 104.9T394.3 105.1M326.2 99.1Q321 95.3 322.3 88.9T318.5 78.7M337.3 118.6Q336.1 112.6 330.5 110.3T323.6 102M408.9 40.1Q413.6 41.5 412.5 46.2T416.1 52.3M423.6 111.9Q420.9 114.7 417.5 112.8T411.5 113.6M378.2 39.5Q379.1 35.5 383.1 36.4T388 33.2M406.5 107.2Q402.8 103.7 398.1 105.7T389.8 104.2M371.7 102.4Q366.1 102.6 365 97.1T358.2 91.7M372.1 80Q367.1 77 368.6 71.4T365.2 62.9M459.9 22Q462.7 26 461.1 30.6T462.3 39.3M424 24Q425.2 29.1 430.3 30.8T436.5 37.6M365.7 106.5Q359.8 106.3 359.8 100.4T353.9 94.3M395.1 7.3Q400.6 4 406 7.3T417 7.3M413.6 109.5Q408 107.5 404.7 112.5T395.7 115.6M474.9 92.5Q475.8 96.9 471.5 98.3T468 104.1M322.2 40.4Q327 37.8 323.3 33.9T324.4 27.3M422.8 96.3Q420.3 99.8 416.1 99.4T409.3 102.5M371.8 48.5Q371.7 44.3 375.7 43.4T379.6 38.3M353.4 109.7Q348 108.7 345.2 103.9T337 98.1M403.2 31.2Q407.4 32.5 408.8 36.6T414.3 41.9M330.9 87.6Q327.5 83.4 328.7 78.1T326.6 68.6M388.1 96.1Q384.3 97.9 380.9 95.2T373.7 94.4M458.9 36.5Q458.1 41.5 462.4 44.1T465.9 51.7M415.6 20.4Q421 18.1 422.5 23.7T429.3 27M333.5 119.1Q333.1 112.9 327 112.1T320.4 105M384 10.7Q388.8 12.5 393.1 9.8T402.1 8.8M389.1 9.9Q393.9 13.7 399 10.3T408.9 10.7M450.8 80.6Q445.6 82.8 444.2 88.4T437.6 96.1M462.5 81.4Q463.2 86.9 458.3 89.5T454 97.6M366 98Q366.4 93.5 362 92.2T358.1 86.5M382.7 112.2Q378.7 107 372.7 109.7T362.7 107.2M371.9 99.4Q366 101.5 363.9 95.6T356 91.9M326.6 19.3Q332 19 331.5 13.6T336.5 8M465.5 33.2Q468.8 34.7 467.8 38.2T470.2 43.3M428.8 5.3Q429.7 9.7 434.2 9T439.7 12.6M460.3 83.1Q455.3 82.8 457.4 87.3T454.6 91.4M433.9 106.5Q432.6 110 429 108.7T424.2 110.9M347.9 27.6Q353.1 25.1 352.1 19.5T356.3 11.4M432.4 55.3Q436.2 60.7 432.1 65.8T431.8 76.3M462.1 92.8Q464.8 98.6 459.3 101.8T456.5 110.7M441.6 44.6Q439.5 46.7 441.4 49.1T441.1 53.5M391.8 12.9Q396.6 16.5 402.4 14.8T413 16.8M433.9 74.2Q427.6 75.8 427.6 82.4T421.2 90.6M419.5 26.9Q423.3 26.8 424.7 30.4T429.8 33.8M407.1 18.6Q409.8 16.3 411.2 19.6T415.4 20.6M410.4 88.6Q406.3 94 399.9 91.7T389.5 94.7M372.7 64.5Q377.4 60.1 373.4 55T374 45.6M428.2 33.1Q432.3 35 432.6 39.5T437 45.8M400.7 78.7Q396.1 78.7 393 75.1T385.3 71.6M331.5 120.3Q325.8 119 323.3 113.6T315 107M330.3 82.7Q326.4 79.6 327.1 74.7T323.9 66.7M376.3 60.4Q378.9 58.2 376.3 56T376.2 51.7M417.4 28.3Q422.5 27.2 422.4 32.5T427.4 36.6M455.4 98.2Q456.2 102.1 452.4 101.2T449.4 104.1M419.7 60.7Q415.8 62.8 417 67T414.3 73.3M407.8 83.7Q404.7 83 404.2 86.2T400.6 88.6M422.1 44.9Q419.3 49 422.6 52.6T423.1 60.2M409.6 12.3Q415.4 12.3 418.5 17.1T427.3 22M340.4 72.2Q343.9 67.7 339 64.8T337.5 57.4M359 4.9Q360.4 1.7 363.9 2.1T368.9 -0.7M376.8 87.9Q375.7 83.8 371.5 84.4T366.1 80.9M438.8 19.8Q444.5 20.1 444.9 25.8T451 31.8M401.5 69.3Q399.1 73.9 395 70.7T388.5 72.1M443.7 95.8Q438.8 95.2 436.8 99.7T430 103.5M363.4 26.3Q364.3 21.9 368.6 23T373.9 19.7M438.8 34.8Q441.9 38.6 440.3 43.4T441.9 52M434.1 38Q438.3 40.9 435.4 45T436.7 52.1M425.8 0.1Q426.8 3.5 430.3 3.6T434.8 7.1M407.2 40.9Q412.6 40.9 413.8 46.1T420.3 51.3M440.1 71.9Q436 74.9 439.2 78.7T438.4 85.5M454 14Q458.7 17.4 457.1 23T460.2 31.9M411.4 33.6Q416.7 34.8 418.4 40T425.4 46.4" fill="none" stroke="#c482c2" stroke-width="1.0" opacity="0.75" stroke-linecap="round"/>
<path d="M333.6 72.7Q330.1 69.7 334.2 67.7T334.8 62.8M367.7 102.1Q368.4 97.8 364.1 98.4T360.5 94.8M322.6 56.7Q326.5 54.1 324.7 49.7T326.8 42.7M340 27.2Q339.1 22.7 343.5 21.3T347.1 15.3M396.4 20.7Q399 17.3 401 21.1T405.6 21.5M384.7 44.5Q386.9 40.3 390.6 43.2T396.5 41.9M444.6 75.5Q446.4 78.4 444 80.6T443.3 85.7M436.6 80.2Q434 80.2 434.8 82.7T432.9 85.1M460.8 67.1Q463.1 68.6 461.3 70.7T461.8 74.3M346.4 25.2Q350.7 25.2 352 21.1T357.6 17.1M376.2 11Q379.1 14.1 380.8 10.3T385.5 9.5M371.8 73Q373.3 70 370.1 68.9T368.4 64.9M435.8 35.8Q440 37.8 438.1 42.1T440.4 48.3M343.6 52.3Q341.9 48.9 343.8 45.6T343.9 38.8M405 92.5Q402.8 96 399.7 93.3T394.4 94M340 30.9Q339.6 27.3 342.6 25.1T345.2 19.2M431 41.8Q429.1 46.1 433.5 47.8T435.9 53.9M323.9 95.9Q324.9 91.7 322.3 88.2T320.8 80.5M323 35Q320.4 31.1 324.3 28.5T325.7 22.1M443.5 81.4Q439.8 80.8 441.9 84T440.3 86.5M357.5 18.7Q357.4 16.1 360 16.6T362.4 14.5M389.6 18.3Q391.6 20.3 393.6 18.3T397.7 18.3M452.5 14.9Q456.6 15.7 455.5 19.7T458.4 24.6M394.6 85.2Q390.3 86.6 387.2 83.2T379.8 81.2M380.1 67.9Q378.1 66.4 379.8 64.7T379.6 61.6M414.3 75.6Q411.5 75.1 410.7 77.9T407.1 80.2M416 82.9Q411.1 81.7 409 86.3T402 89.8M446.8 -0.6Q447.4 3.9 451.7 5T456.7 10.5M407.4 15.3Q408.3 20.6 413.6 19.5T419.7 23.7M325.6 84.6Q321.7 82.3 325.6 80T325.6 75.4M471.7 73.4Q475.5 75 471.8 76.8T472 80.2M431.2 92Q431.8 95 428.8 95.7T426.5 99.4M435.2 57.8Q433.5 60.9 435.7 63.8T436.1 69.7M402 12.7Q406.9 11.7 408.1 16.6T414.3 20.5M378 98.9Q375.7 101.6 374.6 98.1T371.2 97.4M384.8 27Q386.9 30.6 388.2 26.7T391.5 26.4M348.3 48.4Q347.3 43.6 351.9 42.2T355.5 36M340.7 23.9Q345.8 24.1 345.8 19.1T350.9 14.2M364.3 68.7Q366.5 66 363.6 64T362.9 59.3M388.5 32.9Q388.7 29.4 391.4 31.6T394.4 30.3M331.3 13.2Q329.7 10.3 332.9 9.7T334.5 6.2M450.4 47.5Q453.2 50 450 52T449.6 56.6M411.6 2.1Q414.8 0 417.1 3.1T422.6 4.1M396.7 71.1Q393.7 73.5 393.5 69.7T390.4 68.3M322.9 66.5Q318.6 64.6 321.7 61T320.5 55.6M339 41.3Q336.8 38.5 340.3 38.2T341.7 35.1M362.3 64.9Q359.9 62.3 361.9 59.5T361.5 54M451.1 44Q454.1 46.8 452.6 50.6T454 57.2M319.2 38.2Q318.5 35.7 321 35T322.8 31.7M332.3 103Q332.1 97.7 326.8 97.4T321.3 91.8M356.8 80.4Q359.6 77.8 356 76.3T355.2 72.1M468.5 110.5Q469.8 114.1 466.4 116T464.3 121.5M361.5 81.3Q357 80.3 358 75.8T354.6 70.4M460.5 83.5Q456.6 85.1 456.7 89.3T452.9 95.1M359.5 84Q356.5 81.2 356.7 77.1T353.9 70.3M450.4 13.3Q453.4 14.7 453.6 18.1T456.8 22.8M412.6 7.5Q414.9 6.3 416.3 8.5T419.9 9.4M438.5 -1.3Q440.4 2.3 444.5 1.4T450.4 4.2M370.1 70.5Q366.7 66.7 370.3 63T370.5 55.6M401.4 48.7Q405.3 49.1 403.6 52.6T405.8 56.6M347.1 66.2Q344.2 64.4 345.7 61.4T344.4 56.5M341.7 49.6Q343.6 48.1 341.9 46.4T342.1 43.2M388.9 118.2Q387 114.1 382.5 114.8T376.1 111.3M354.2 21.5Q353.7 17.4 357.6 18.8T360.9 16.1M451.9 28.6Q451.2 31.5 454.1 31.9T456.4 35.2M449 62.7Q444.7 63.3 447.7 66.3T446.5 69.9M372.8 110.6Q370.4 112.1 369.2 109.5T365.5 108.3M433.1 8.1Q436.7 8.9 437.7 12.4T442.3 16.7M446.6 12.9Q451.6 13.6 450.3 18.4T454 23.9M425.5 32.8Q429.2 35.4 428.2 39.8T430.8 46.9M461.7 21.8Q466 22.1 463.9 25.9T466.2 30M375 76.7Q371.7 75 372.9 71.6T370.8 66.5M447 56.3Q450.2 57.7 447.2 59.6T447.4 62.9M339.7 120Q339.2 116.3 335.5 115.6T331.4 111.2M403.2 32.8Q405.1 35.3 407.8 33.8T412.5 34.9M396 23Q397.1 25.8 399.9 24.7T403.7 26.5M420.4 73.8Q416.9 74.2 418.1 77.6T415.9 81.3M441.6 54.2Q437.4 57.8 440.8 62.1T440 70.1M448.4 71.9Q445.1 73.2 445.3 76.8T442.2 81.7M374.5 9.4Q378 11.4 380.9 8.5T387.3 7.7M415.4 31.5Q419.7 32.1 421.7 35.9T427.9 40.2M397.2 26.6Q398.7 29.1 401.2 27.6T405.3 28.6M380.7 44.8Q381.6 40.5 385.5 42.5T390.3 40.1M386.3 92.2Q382.8 92.2 381.9 88.9T377.5 85.7M397 86.2Q394.2 89.5 392.5 85.5T387.9 84.9M357.7 94.4Q358 90.1 353.8 89.2T350 84M413 57Q415.5 59.3 412.7 61.2T412.3 65.3M449.1 90.2Q445.8 91.4 446.5 94.9T444 99.6M347.4 81.5Q350.6 79.3 347.1 77.6T346.8 73.8M342.1 45.8Q341.5 41.7 344.8 39.3T347.5 32.8M463.6 5.6Q462.3 8.2 465.2 8.2T466.8 10.7M434.6 55.4Q437.1 56.7 435.6 59.1T436.6 62.9M398.9 -0.4Q402.5 -3.4 404.7 0.7T410.5 1.9" fill="none" stroke="#a864ac" stroke-width="0.8" opacity="0.55" stroke-linecap="round"/>
<path d="M361.5 8.9Q365.8 11 362.6 14.6T363.6 20.3M388.2 83.2Q390.6 85.8 389.7 89.3T391.2 95.4M403.1 27.2Q401.6 30.6 398.3 29.2T393.5 31.1M448.7 111.1Q451.7 108 452.5 112.2T456.4 113.3M426.1 109Q425.4 113.4 429.4 115.2T432.7 121.4M380.1 73.1Q376.2 74.4 375.7 78.5T371.2 83.8M331.7 35.4Q334.5 39.1 332.5 43.3T333.3 51.3M425.5 98.3Q423.9 101.9 426 105.2T426.5 112.1M332.2 52Q327.4 52.6 329.6 56.9T327 61.7M345.5 88.6Q346.1 92.5 348.6 89.4T351.6 90.3M390.9 91.8Q387.9 95.6 390.4 99.7T389.9 107.6M365.2 64.5Q365.4 67.6 368.3 68.5T371.5 72.5M404.3 33.2Q407.9 32.5 407.7 36.1T411 39.1M399.7 9.7Q397.8 14 402.3 15T404.9 20.3M355.9 8.8Q351.3 6.8 350.3 11.7T344.7 14.6M445.6 33.5Q450.6 32.5 451 37.6T456.4 41.8M370.4 36.5Q373 39.9 368.8 40.7T367.1 44.8M425 103.8Q421.5 103.2 422.6 106.5T420.3 109.2M429 76.6Q427.5 80 430.4 82.4T431.8 88.3M424.6 25.4Q427.4 22.2 428.3 26.4T432 27.4M348.8 10.1Q347.7 13.5 344.6 11.8T340.4 13.4M454.9 19Q453.8 23.4 458.1 22.1T461.3 25.2M361.7 83.7Q362.5 85.8 364.5 84.8T367.3 86M403.2 65.8Q399.7 66 401.2 69.2T399.2 72.6M315.2 96.1Q316.9 100 321.1 100.9T326.9 105.8M364.4 8.7Q361.9 12.6 357.3 12.2T350.2 15.7M360.6 39.1Q358.3 42.9 355 39.9T349.4 40.7M375.5 73.7Q376.3 77.8 372.1 77.3T368.8 80.9M416 47.7Q416 51.8 419.3 54.3T422.7 61M381.7 78.4Q380.1 82.3 384.2 81.4T386.8 84.4M467.3 63.7Q464.6 64 464.3 66.7T461.3 69.6M430 37.2Q433.1 34.2 435.4 37.9T440.8 38.7M388.7 57.4Q386.4 58.9 387.8 61.2T386.8 65.1M325.8 96.1Q323.5 92.2 321.2 96.2T316.6 96.2M375.8 53.6Q377 56.2 374.3 56.9T372.8 60.2M326.7 106.5Q330.3 108 330.7 111.8T334.7 117.1M443.5 22.7Q446.6 24.3 445.5 27.6T447.5 32.5M365.9 32.8Q368.4 29.9 369.8 33.5T373.7 34.2M443.1 11.2Q447.5 12.5 446.1 16.9T449 22.5M443.2 58.6Q448 58.4 449.1 63.1T454.9 67.6M425.4 78.2Q427.9 79.8 426.5 82.4T427.6 86.6M343.4 31.1Q347.1 30.8 348.6 34.2T353.8 37.3M349 109.7Q350 113.8 354.1 112.9T359.3 116.1M426.4 99.4Q423.9 96.7 423.5 100.4T420.6 101.3M452.9 -4.8Q455.8 -1.8 452.8 1.2T452.8 7.1M463.6 29.1Q461.4 26 460.7 29.7T457.7 30.4M448.2 66.9Q446.1 69.6 443.5 67.4T438.9 68M372.1 48.8Q368.8 50.3 370.2 53.7T368.2 58.6M350.6 25.3Q348.9 21.6 347.4 25.3T344.2 25.4M395.2 99Q395.3 102.4 392.2 103.9T389.1 108.8M409.4 6.9Q406.8 9.1 408.2 12.2T407 17.6M397.7 59.6Q401.2 57.7 402 61.5T406.3 63.4M384.2 18.1Q389 17.8 387.9 22.5T391.7 26.9M358.1 25.1Q356.1 29.3 351.5 28.2T344.9 31.4M444.8 50.9Q443.7 55.3 447.9 56.9T451.1 62.9M450.6 33Q451.3 36.2 454.1 34.5T457.5 35.9M409.6 35.8Q414.4 33.7 415.9 38.6T422.2 41.5M447.4 83.4Q451.9 82.2 453.9 86.4T460.5 89.4M351.4 76.1Q355.1 78.3 353.6 82.3T355.7 88.5M371.9 67.6Q374.3 64.9 375.4 68.4T378.9 69.2M345.9 82Q344.7 86.9 349.6 88.2T353.2 94.5M355.2 64.7Q349.9 64.3 348.8 69.5T342.4 74.3" fill="none" stroke="#dcb0dc" stroke-width="1.4" opacity="0.6" stroke-linecap="round"/>
<path d="M358.1 10.9h0M374.6 52.4h0M362.1 87.5h0M399.6 10.6h0M455.5 93.4h0M378.6 21.2h0M421.8 63.1h0M467.5 56.3h0M459.6 41.3h0M387.8 95h0M360.9 88.3h0M347.8 71.2h0M375.8 74.9h0M373.7 3.9h0M363.6 104.6h0M437.1 44h0M418.9 50.7h0M330.6 75.6h0M380.4 86.8h0M462.9 55h0M413.2 26.4h0M434.5 103.3h0M426.4 87.5h0M347.9 55.6h0M372.8 112.8h0M377.1 16.8h0M366.2 96.1h0M437.9 13h0M364.5 101.9h0M362.6 36h0M447.6 21.1h0M416.5 87.3h0M361.9 20.6h0M383 35h0M415 108.1h0M414.7 102.1h0M342.6 91.6h0M323.4 65.8h0M433.5 43h0M426.1 25.8h0M356 36.5h0M395.8 13.8h0M413.5 69h0M367.6 40.1h0M423.6 8.4h0M405.7 106.1h0M441.3 35.8h0M448.8 64.5h0M390.3 86.4h0M403.3 90.6h0M456.3 54.9h0M411.8 3.5h0M434.1 72.3h0M347.5 15.5h0M396.3 86.1h0M352.2 90.6h0M383.7 100.7h0M450.9 54.2h0M342.7 43.1h0" stroke="#a868a8" stroke-width="1.30" stroke-linecap="round" opacity="0.6"/><path d="M445.1 26.8h0M395.7 94h0M334.3 40.4h0M450.9 79.9h0M397.8 3.1h0M338.9 44.8h0M385.4 8.8h0M436.2 71.9h0M355.7 93.2h0M433.7 10.2h0M384.3 31.9h0M433.4 47.5h0M448.8 96.3h0M452.4 50.9h0M365.4 34.3h0M370.5 36h0M393 66.9h0M398.2 24.5h0M425.6 77h0M361.7 100.9h0M379.3 26.8h0M414.9 32.5h0M404.3 21.6h0M364.8 18.8h0" stroke="#a868a8" stroke-width="1.80" stroke-linecap="round" opacity="0.6"/><path d="M415.8 29.8h0M425.8 76.3h0M437 95.4h0M417 41.3h0M419.7 89.4h0M460.2 57.5h0M465.3 44.1h0M323.4 68.2h0M377 53.4h0M409.3 15.7h0M366.4 50.1h0M411.6 24.3h0M378.2 89.4h0M414.2 26.5h0M378.5 94.1h0M397.3 23.8h0M382.3 1.4h0M385.1 52.8h0M401.9 25.9h0M327.4 58.5h0M356.6 77.8h0M435.4 12.5h0M422.7 92.5h0M363.1 82.3h0M422.5 8.3h0M460.5 59.3h0M452.9 57h0M453.5 82h0M374.1 17.4h0M382.3 90.5h0M440.3 100.9h0M410.2 66.4h0M447 41.9h0" stroke="#a868a8" stroke-width="0.80" stroke-linecap="round" opacity="0.6"/>

<path d="M321.5,0.0C334.8,-6.7 376.8,0.0 400.0,0.0C423.2,0.0 449.7,-3.0 461.0,0.0C472.3,3.0 466.2,12.2 468.0,18.0C469.8,23.8 472.3,29.7 472.0,35.0C471.7,40.3 467.3,44.2 466.0,50.0C464.7,55.8 464.8,64.2 464.0,70.0C463.2,75.8 463.0,80.0 461.0,85.0C459.0,90.0 455.0,95.8 452.0,100.0C449.0,104.2 447.0,107.5 443.0,110.0C439.0,112.5 435.2,114.0 428.0,115.0C420.8,116.0 410.3,116.1 400.0,116.0C389.7,115.9 374.8,115.4 366.0,114.5C357.2,113.6 352.7,112.2 347.0,110.5C341.3,108.8 335.7,107.1 332.0,104.0C328.3,100.9 326.8,97.7 325.0,92.0C323.2,86.3 322.2,78.7 321.5,70.0C320.8,61.3 320.5,51.7 320.5,40.0C320.5,28.3 308.2,6.7 321.5,0.0Z" fill="none" stroke="#c088c0" stroke-width="1.2"/>
</g>
<g filter="url(#tex)">
<path d="M461.2,57.0C461.4,60.3 461.1,63.8 460.3,67.1C459.5,70.3 458.2,73.6 456.6,76.6C455.0,79.6 452.9,82.5 450.7,85.1C448.5,87.8 446.0,90.2 443.4,92.6C440.9,94.9 438.2,97.1 435.3,99.2C432.5,101.2 429.5,103.2 426.4,104.9C423.3,106.6 420.0,108.2 416.5,109.5C413.1,110.7 409.4,111.7 405.7,112.3C402.1,112.8 398.2,113.1 394.5,112.9C390.8,112.8 387.0,112.3 383.4,111.6C379.8,110.9 376.3,109.8 372.9,108.6C369.5,107.3 366.2,105.9 363.0,104.2C359.9,102.6 356.9,100.8 354.1,98.8C351.3,96.7 348.6,94.5 346.3,92.1C344.0,89.6 341.9,87.0 340.1,84.2C338.4,81.5 336.9,78.5 335.8,75.5C334.6,72.6 333.9,69.5 333.2,66.4C332.6,63.3 332.2,60.2 332.0,57.0C331.8,53.8 331.8,50.7 332.0,47.4C332.2,44.2 332.5,40.9 333.3,37.7C334.0,34.4 335.0,31.1 336.6,28.0C338.1,24.9 340.1,21.8 342.4,19.1C344.8,16.4 347.7,13.9 350.8,11.9C354.0,9.8 357.5,8.2 361.1,6.8C364.7,5.5 368.5,4.6 372.2,3.9C376.0,3.3 379.8,3.0 383.5,2.8C387.2,2.6 390.9,2.7 394.5,2.9C398.1,3.2 401.7,3.6 405.2,4.3C408.7,4.9 412.2,5.8 415.5,6.9C418.9,8.0 422.1,9.4 425.2,10.9C428.2,12.5 431.2,14.3 433.9,16.3C436.7,18.2 439.3,20.4 441.7,22.6C444.2,24.9 446.6,27.3 448.7,29.9C450.9,32.4 452.9,35.1 454.7,38.0C456.4,40.9 458.0,44.0 459.1,47.1C460.2,50.3 461.0,53.7 461.2,57.0Z" fill="#b094c6"/>
<path d="M454.5 97Q451.1 100.6 450.5 105.4T446.5 113.9M395.2 16.7Q397.9 15.1 400.3 17.1T405.5 17.5M441 7Q445.5 9.7 447.5 14.4T454 21.9M424.7 37.7Q423.8 40.4 426.2 41.8T427.8 45.8M417.9 106.8Q414.5 105.1 411.9 107.8T405.8 108.9M374.4 113Q370.4 112.1 368.7 108.3T363 103.5M402.4 45.8Q406.3 47.4 408 51.3T413.6 56.8M416.4 52Q416.5 55.9 418.5 59.2T420.6 66.4M370.4 73.4Q371.2 68.6 368 64.9T365.6 56.3M408.2 97.4Q405.4 99.6 401.9 99.6T395.5 101.8M435.4 70.9Q436 75.8 432.5 79.4T429.7 87.9M413.3 105.2Q410.8 106.9 408.3 105.1T403.3 105.1M378.5 23.6Q379.6 20.4 383 20.6T387.4 17.5M455.2 51.4Q453.4 56.1 453.5 61.2T451.8 71M432.1 51.9Q434.5 53.5 433.1 56T434.1 60.1M386.8 35.5Q388.8 33.4 391.3 34.9T395.8 34.3M399.3 28.5Q401.7 27.1 403.9 28.8T408.5 29.1M383.4 105Q380.6 101.4 376.5 99.4T369.7 93.7M459.9 93Q456.2 95.6 455 99.9T450.1 106.8M433.1 56.2Q433 59.9 431 63.2T429 70.2M357 112.7Q352.4 111.6 350.7 107.2T344.4 101.7M344.6 70.8Q345.7 66.8 343 63.7T341.3 56.6M454.6 27.8Q458 28.8 458.5 32.4T462.4 37M387.7 90.6Q386.9 87.7 384 88.7T380.3 86.8M378.8 33.2Q382.5 31.4 386.3 32.9T393.9 32.7M374 103.2Q373.4 100.6 370.8 100.1T367.6 96.9M333.8 58.6Q335.9 55.8 335.3 52.3T336.8 46M376.9 109.1Q375 105.9 371.4 106.6T365.8 104.2M424.9 78.6Q422.3 82.7 417.8 84.6T410.8 90.7M449.6 106Q446.3 106.4 446.4 109.7T443.3 113.5M371.7 88.2Q369.3 88.2 368.2 86.1T364.8 84.1M459.3 67.5Q457.4 69.1 457.8 71.5T456.3 75.5M410 63.2Q406 65.7 404.8 70.2T399.6 77.1M385.9 112.8Q381.9 112.1 378.9 109.5T371.9 106.2M354.5 91.2Q349.7 88.7 348.3 83.5T342 75.8M374.7 103.7Q371.2 103.3 370.4 99.8T366.1 96M411 61.1Q411.4 64.2 409.6 66.9T408.2 72.7M367.2 114.5Q362.5 112.1 360.2 107.4T353.2 100.3M441.4 44Q440.2 47.2 442.1 50.1T442.8 56.2M423.6 102.3Q419.2 102.5 416.8 106.2T410 110.1M334.8 53.4Q335.3 49 338 45.7T341.3 38M379 10.8Q381.4 8.4 384.7 9.3T390.4 7.8M379.9 30.8Q383.2 32.1 385.6 29.6T391.4 28.3M379.2 48.1Q383 46.6 383.6 42.7T388 37.2M354.1 55.3Q353.7 52.3 356.1 50.5T358.1 45.8M333.7 77.3Q335 74.5 333.4 71.8T333.1 66.3M460.5 75.6Q456.9 78.4 456.8 83T453.1 90.4M356.4 116Q355.1 111.6 351.2 109.3T346.1 102.5M344.5 15.9Q347.4 13.8 348.4 10.3T352.3 4.7M334.7 64.4Q336.9 62 335.3 59.2T335.8 54M375.5 84.9Q375.3 81.4 372.6 79T369.8 73.1M422.1 20.4Q425.3 22.9 426.9 26.8T431.6 33.2M425.7 11Q427.3 16 432.1 18.1T438.6 25.2M350.4 95.3Q347.5 95.2 347.1 92.3T343.7 89.4M454.9 64.2Q452.5 67.6 454.6 71.2T454.2 78.3M420 95.8Q418.2 98.4 415.1 97.6T410.2 99.3M353 99.4Q350.2 96.9 349.7 93.2T346.5 87.1M449.8 61.5Q448.3 64.9 450.7 67.8T451.5 74.1M405.5 15.3Q409.3 17.6 413.8 18.1T422.1 20.8M390.5 51.1Q393.7 49.7 396.1 52.3T401.7 53.5M366.3 95.3Q361.6 94.1 359.4 89.9T352.5 84.4M410.6 9.8Q415.4 10.7 418 15T425.4 20.2M403 54.4Q402.9 58.7 399.3 61T395.7 67.6M368 76.7Q366.3 72.4 366.8 67.8T365.6 59M379.8 11.8Q384.2 12.7 387.6 9.9T395.5 8.1M341.2 34.2Q344.3 32.8 345.6 29.8T349.9 25.3M409.8 87.2Q407.3 89.8 404 88.7T398.1 90.1M421 14.5Q424.8 15.9 426.5 19.5T432 24.4M342.5 108.1Q342.8 104.7 339.8 103.2T337 98.3M413.8 28.1Q417.4 31 418.5 35.5T423.3 42.9M411.4 38Q415.2 40.1 417.6 43.6T423.8 49.3M444.3 79.2Q441.1 82.5 442 87T439.7 94.8M417.7 100.5Q414.8 100.3 413.5 102.9T409.2 105.3M456.1 64.2Q453.3 67.5 454 71.7T452 79.1M349.9 38.2Q351.2 33.7 355.6 32T361.3 25.9M433.4 53Q435.1 57.7 432.9 62.3T432.5 71.5M421.4 90.4Q421 93.9 417.5 94.5T413.5 98.5M387.5 103.6Q384 100.5 379.4 99.7T371.3 95.8M457.6 103.7Q455 107.3 450.7 108.1T443.8 112.5M379.1 90Q375.5 89.6 373.8 86.3T368.5 82.6M435.8 5Q439 5.9 440.9 8.6T446.1 12.2M344.4 30.7Q345.6 26.1 349.2 22.9T354 15M347.4 81.2Q348.7 77.7 345.8 75.4T344.3 69.6M456 18.9Q456 23.2 459.9 25.2T463.8 31.5M338.4 78.6Q336.1 76.4 337.7 73.7T337 68.8M405.5 70.2Q402.6 69.3 401.7 72.2T397.9 74.2M440.9 45.1Q442.7 47.8 440.7 50.4T440.6 55.8M372.8 92.3Q371.7 89.4 368.6 89.3T364.4 86.2M433.1 86Q432.7 89.4 429.3 90.1T425.6 94.2M458.6 43.3Q456.6 46 458.9 48.5T459.2 53.7M436.8 10.7Q438.8 14.9 443.3 16T449.8 21.4M357 35.3Q358.1 31.2 361.6 28.9T366.1 22.5M455.8 42.3Q456.7 44.9 455.4 47.5T455 52.6M333.1 26.1Q335.9 25.4 335.5 22.6T337.9 19.1M414.8 97.2Q410.5 98.7 406.2 97.6T397.6 98M427.1 15.1Q430.2 14.3 431.1 17.4T435 19.6M456.9 87.6Q453.5 90.4 453 94.8T449 101.9M401.6 89.1Q399.9 90.7 397.6 90.5T393.5 92M405.4 66.4Q400.7 67.3 397.2 70.5T389.1 74.5M415.4 71.5Q413.6 74.4 410.3 74.6T405.1 77.6" fill="none" stroke="#7a66a8" stroke-width="1.0" opacity="0.85" stroke-linecap="round"/>
<path d="M428.2 91.7Q426.3 93.8 423.5 93.7T418.8 95.7M427.1 72.7Q422.1 74.5 419.6 79.2T412 85.8M430.6 41.5Q431.4 46.1 430.3 50.7T430 59.9M352.6 64.9Q355.6 60.9 354.4 56.1T356.3 47.2M349.4 92.3Q348.3 87.4 343.8 85.1T338.3 78M346.4 80Q343.3 77.2 342.5 73.1T338.5 66.2M443.8 6.9Q446.8 7.5 446.6 10.5T449.5 14.1M462.4 91.4Q461.6 94.3 459 95.9T455.5 100.3M390.9 19.7Q393.4 18.1 395.8 19.7T400.7 19.6M364.6 63.1Q363.6 60.1 365.9 58T367.2 52.8M369.7 79.6Q369.2 75.4 366.1 72.5T362.6 65.5M398 92.3Q395.1 91.2 392.5 92.8T387.1 93.4M448.8 98.2Q446.2 98.3 445.5 100.8T442.2 103.3M429.1 10.3Q430 13.2 432.9 12.7T436.7 15.1M405.4 60.2Q404.5 63.5 401.4 65.2T397.5 70.3M373.3 23.6Q375.6 19.5 380.2 18.7T387.1 13.8M444.5 -0.5Q446.1 3.6 450.5 4.7T456.4 9.9M363.7 52.2Q364 47.6 367 44.3T370.3 36.4M334.2 57.2Q333.3 54.6 335.5 53T336.7 48.7M442.5 21.2Q445.7 22.9 447.2 26T451.9 30.8M340.4 31.1Q342.6 30.5 343.4 28.3T346.5 25.5M449.6 84.3Q450.8 87.1 448.2 88.7T446.8 93.1M431.7 60.5Q429.7 63.7 430.2 67.5T428.6 74.4M412.8 44.8Q415.7 47.8 416.1 52T419.3 59.2M353 21.8Q356.1 22.6 357.3 19.6T361.5 17.4M441 67.4Q443.1 69.9 440.9 72.3T440.8 77.1M385.4 23.5Q388.5 25.1 391.6 23.3T397.9 23.1M459.9 43Q460.6 47.7 459 52.2T458.1 61.3M360.1 94.8Q359.8 92.1 357.1 92.1T354.1 89.3M423.3 25.1Q424.7 28.3 428 28.7T432.8 32.3M448.9 22.2Q451.9 25 452.3 29.2T455.8 36.2M368.6 98.4Q366.1 94.2 362 91.3T355.4 84.2M383.4 98.5Q382.1 95 378.5 93.9T373.5 89.4M356.5 17.1Q360.4 17.6 363.2 14.7T369.9 12.3M394.4 7.4Q398.7 7.7 401.7 10.6T409 13.8M453.7 65.6Q451.8 69.1 453.4 72.7T453.1 79.8M416.8 16.1Q420.5 16.9 422.8 19.9T428.8 23.8M403.8 41.2Q406.3 41.6 406.6 44.2T409.4 47.1M331.5 64.6Q333.6 61.6 333.6 58T335.7 51.4M394.4 24.6Q398.4 25 401.2 27.9T408.1 31.2M428.6 65Q428.5 70.1 425.8 74.5T423.1 84M402.7 22.5Q404.9 26.5 409.3 27.9T415.9 33.3M387.2 42.1Q389.9 40 392.4 42.3T397.6 42.5M357.3 100.4Q354 96.8 353.9 92T350.4 83.5M398.9 52.7Q396.1 55.9 397.1 60.2T395.2 67.6M448.2 60.1Q446.4 62.6 448.1 65.2T448 70.2M344.3 26.6Q345.4 22.4 349.2 20.3T354.1 14.1M348 59Q346.9 54.3 348.8 49.9T349.7 40.8M357.5 35.7Q357.7 32.6 360.7 32T364 28.3M390.9 33.5Q395.2 34.3 399.2 32.8T407.5 32" fill="none" stroke="#f4ecf8" stroke-width="1.0" opacity="0.8" stroke-linecap="round"/>
<path d="M454.4,60.0C454.5,62.8 454.3,65.8 453.6,68.5C452.9,71.3 451.7,74.0 450.3,76.6C448.9,79.1 447.0,81.6 445.1,83.8C443.1,86.1 440.9,88.2 438.7,90.1C436.4,92.1 434.0,94.0 431.5,95.7C429.0,97.5 426.4,99.1 423.7,100.6C420.9,102.0 418.0,103.4 414.9,104.4C411.9,105.5 408.7,106.3 405.4,106.8C402.2,107.3 398.8,107.5 395.5,107.4C392.2,107.3 388.9,106.8 385.7,106.2C382.5,105.6 379.4,104.7 376.4,103.7C373.4,102.6 370.5,101.4 367.7,100.0C365.0,98.6 362.3,97.1 359.8,95.4C357.4,93.6 355.0,91.7 353.0,89.7C350.9,87.6 349.0,85.4 347.5,83.1C345.9,80.7 344.7,78.2 343.7,75.7C342.7,73.2 342.0,70.5 341.4,67.9C340.9,65.3 340.5,62.7 340.4,60.0C340.2,57.3 340.1,54.6 340.3,51.9C340.5,49.2 340.8,46.4 341.4,43.6C342.1,40.9 343.0,38.1 344.4,35.4C345.7,32.8 347.4,30.2 349.5,27.9C351.6,25.6 354.2,23.5 357.0,21.8C359.7,20.1 362.9,18.6 366.0,17.5C369.2,16.4 372.5,15.6 375.8,15.1C379.1,14.5 382.5,14.2 385.8,14.1C389.0,13.9 392.3,14.0 395.5,14.2C398.7,14.4 401.9,14.8 405.0,15.3C408.1,15.9 411.1,16.6 414.1,17.6C417.0,18.5 419.9,19.7 422.6,21.0C425.3,22.3 427.9,23.8 430.3,25.5C432.7,27.1 435.0,29.0 437.2,30.9C439.4,32.8 441.5,34.8 443.4,37.0C445.3,39.2 447.1,41.5 448.6,43.9C450.2,46.4 451.6,49.0 452.5,51.6C453.5,54.3 454.2,57.2 454.4,60.0Z" fill="#6e3c74"/>
<path d="M453.6,60.0C453.7,62.8 453.3,65.7 452.6,68.4C451.9,71.1 450.7,73.8 449.4,76.3C448.1,78.9 446.4,81.3 444.5,83.6C442.7,85.8 440.7,88.0 438.5,90.0C436.3,92.0 434.0,93.9 431.5,95.7C429.0,97.4 426.3,99.0 423.5,100.4C420.7,101.7 417.8,103.0 414.7,103.9C411.7,104.8 408.5,105.6 405.3,106.0C402.0,106.4 398.7,106.6 395.5,106.6C392.3,106.5 389.0,106.2 385.8,105.7C382.7,105.1 379.5,104.4 376.5,103.4C373.5,102.5 370.5,101.3 367.8,99.9C365.0,98.6 362.4,97.0 360.0,95.2C357.6,93.5 355.4,91.5 353.4,89.4C351.5,87.3 349.7,85.0 348.3,82.7C346.8,80.3 345.6,77.9 344.6,75.4C343.6,72.9 342.8,70.4 342.1,67.8C341.5,65.3 341.0,62.7 340.7,60.0C340.4,57.3 340.3,54.6 340.4,51.9C340.6,49.2 340.9,46.4 341.6,43.7C342.4,41.0 343.4,38.2 344.8,35.7C346.3,33.1 348.1,30.6 350.2,28.4C352.4,26.2 354.9,24.2 357.6,22.5C360.3,20.7 363.4,19.3 366.4,18.1C369.5,17.0 372.8,16.1 376.0,15.4C379.2,14.8 382.5,14.4 385.8,14.2C389.0,14.0 392.3,14.1 395.5,14.3C398.7,14.6 401.8,15.0 404.9,15.7C407.9,16.3 410.9,17.2 413.8,18.2C416.7,19.2 419.4,20.4 422.1,21.7C424.7,23.0 427.3,24.5 429.8,26.0C432.2,27.6 434.6,29.3 436.8,31.2C439.1,33.0 441.2,35.0 443.2,37.1C445.1,39.2 447.0,41.5 448.5,44.0C450.0,46.4 451.3,49.0 452.2,51.7C453.0,54.4 453.5,57.2 453.6,60.0Z" fill="none" stroke="#120612" stroke-width="1.3" opacity="0.95"/><path d="M452.3,60.0C452.5,62.7 452.0,65.5 451.3,68.2C450.5,70.8 449.2,73.4 447.8,75.8C446.4,78.3 444.6,80.5 442.7,82.7C440.9,84.8 438.9,86.9 436.8,88.8C434.7,90.8 432.5,92.6 430.2,94.4C427.8,96.1 425.4,97.8 422.7,99.2C420.1,100.7 417.2,102.0 414.3,103.0C411.3,103.9 408.2,104.6 405.0,105.0C401.9,105.4 398.6,105.4 395.5,105.3C392.4,105.1 389.2,104.6 386.2,104.0C383.1,103.4 380.2,102.6 377.3,101.7C374.4,100.8 371.5,99.7 368.8,98.4C366.1,97.2 363.4,95.8 361.0,94.2C358.6,92.6 356.3,90.7 354.3,88.7C352.4,86.7 350.7,84.5 349.3,82.2C347.9,79.9 346.8,77.4 345.9,75.0C345.1,72.6 344.5,70.1 344.0,67.6C343.5,65.1 343.2,62.6 342.9,60.0C342.7,57.4 342.5,54.9 342.5,52.2C342.6,49.6 342.7,46.9 343.3,44.2C343.9,41.5 344.7,38.8 346.0,36.2C347.3,33.7 349.1,31.2 351.2,29.1C353.3,26.9 355.9,25.0 358.6,23.4C361.3,21.8 364.4,20.5 367.4,19.5C370.4,18.5 373.6,17.8 376.8,17.2C379.9,16.6 383.1,16.2 386.2,16.0C389.3,15.8 392.4,15.7 395.5,15.8C398.6,16.0 401.7,16.2 404.7,16.8C407.7,17.3 410.6,18.1 413.4,19.0C416.2,20.0 418.9,21.2 421.5,22.6C424.0,23.9 426.4,25.5 428.7,27.1C431.0,28.7 433.1,30.5 435.2,32.3C437.3,34.1 439.4,36.0 441.3,38.0C443.2,40.0 445.1,42.2 446.7,44.5C448.2,46.8 449.7,49.3 450.7,51.9C451.6,54.5 452.2,57.3 452.3,60.0Z" fill="none" stroke="#120612" stroke-width="1.3" opacity="0.95"/>
<path d="M453.3,60.0C453.5,62.8 453.1,65.6 452.3,68.3C451.6,71.0 450.2,73.7 448.8,76.1C447.3,78.6 445.4,80.9 443.5,83.0C441.6,85.2 439.5,87.2 437.3,89.2C435.2,91.2 433.0,93.0 430.6,94.8C428.2,96.6 425.8,98.3 423.1,99.8C420.5,101.3 417.6,102.7 414.6,103.7C411.6,104.7 408.4,105.4 405.2,105.8C402.0,106.2 398.7,106.3 395.5,106.1C392.3,105.9 389.1,105.4 386.0,104.7C382.9,104.1 379.9,103.2 377.0,102.3C374.1,101.3 371.2,100.2 368.5,98.9C365.7,97.6 363.0,96.3 360.6,94.6C358.1,93.0 355.7,91.2 353.7,89.2C351.7,87.2 349.9,84.9 348.4,82.6C347.0,80.3 345.9,77.8 345.0,75.3C344.1,72.8 343.6,70.2 343.1,67.7C342.6,65.1 342.4,62.6 342.2,60.0C342.0,57.4 341.8,54.8 341.9,52.1C341.9,49.5 342.1,46.7 342.6,44.0C343.2,41.3 344.0,38.5 345.3,35.9C346.6,33.3 348.3,30.7 350.4,28.5C352.5,26.3 355.1,24.3 357.9,22.7C360.6,21.1 363.8,19.8 366.9,18.8C370.0,17.8 373.3,17.1 376.5,16.5C379.7,16.0 382.9,15.7 386.1,15.4C389.2,15.2 392.4,15.2 395.5,15.3C398.6,15.4 401.8,15.6 404.8,16.1C407.8,16.6 410.9,17.3 413.7,18.3C416.6,19.3 419.4,20.5 422.0,21.9C424.6,23.2 427.0,24.9 429.3,26.5C431.6,28.2 433.7,30.0 435.8,31.8C437.9,33.7 440.0,35.6 441.9,37.7C443.8,39.8 445.7,42.0 447.3,44.3C448.9,46.7 450.5,49.2 451.5,51.8C452.5,54.4 453.2,57.2 453.3,60.0Z" fill="none" stroke="#ece4f0" stroke-width="0.8" opacity="0.85"/>
<path d="M450.7,60.0C450.9,62.6 450.6,65.4 450.0,67.9C449.4,70.5 448.2,73.1 446.9,75.5C445.6,77.8 443.8,80.1 442.0,82.2C440.2,84.3 438.1,86.2 436.0,88.1C433.9,89.9 431.7,91.7 429.3,93.3C427.0,94.9 424.5,96.5 421.9,97.8C419.3,99.2 416.6,100.4 413.7,101.4C410.9,102.4 407.8,103.2 404.8,103.6C401.8,104.1 398.6,104.2 395.5,104.2C392.4,104.1 389.3,103.7 386.3,103.1C383.3,102.5 380.4,101.7 377.6,100.7C374.8,99.7 372.0,98.6 369.5,97.3C366.9,96.0 364.4,94.6 362.0,93.0C359.7,91.4 357.5,89.6 355.6,87.7C353.7,85.8 351.9,83.7 350.5,81.5C349.0,79.3 347.8,77.0 346.9,74.6C345.9,72.3 345.3,69.8 344.8,67.4C344.2,65.0 343.9,62.5 343.8,60.0C343.6,57.5 343.5,55.0 343.7,52.5C343.9,49.9 344.2,47.3 344.8,44.7C345.4,42.2 346.3,39.6 347.5,37.1C348.8,34.7 350.4,32.2 352.4,30.1C354.4,28.0 356.8,26.0 359.4,24.4C361.9,22.8 364.9,21.5 367.8,20.4C370.8,19.4 374.0,18.7 377.1,18.1C380.1,17.6 383.3,17.3 386.4,17.2C389.4,17.1 392.5,17.1 395.5,17.3C398.5,17.5 401.5,17.9 404.4,18.4C407.3,18.9 410.2,19.6 412.9,20.4C415.7,21.3 418.4,22.4 420.9,23.6C423.4,24.9 425.9,26.3 428.2,27.8C430.4,29.4 432.6,31.1 434.6,32.9C436.7,34.7 438.6,36.6 440.4,38.6C442.2,40.6 443.9,42.7 445.3,45.0C446.8,47.3 448.1,49.7 449.0,52.2C449.9,54.7 450.5,57.4 450.7,60.0Z" fill="#6e3c74"/>
<path d="M394.9 83h0M438.7 66.2h0M379 80.5h0M407.2 82.5h0M411.6 83.7h0M426.6 75.7h0M393.5 59h0M412.6 54.4h0M429.2 59.9h0M400.9 50h0M418.7 76.8h0M422.3 91.6h0" stroke="#4e3c82" stroke-width="3.60" stroke-linecap="round" opacity="0.5"/><path d="M372.5 55.9h0M389.9 63.9h0M407.3 99.2h0M391.9 54.2h0M395.2 80.8h0M383.9 87.9h0M426.1 86.7h0M406.8 56.6h0" stroke="#4e3c82" stroke-width="8.40" stroke-linecap="round" opacity="0.5"/><path d="M375.3 86.4h0M374.4 74.1h0M380.3 55h0M422.3 94.1h0M381 89.8h0M366.8 62.2h0M388 52.6h0M395.4 96.6h0M399.9 90h0M373 53.6h0M420.6 93.2h0M403.4 89.3h0M393.3 78.8h0M374.5 85.5h0M399.9 83.7h0M432.3 66.1h0M420.9 69.7h0M397.5 50.4h0M388.1 67.5h0M412.7 95.7h0" stroke="#4e3c82" stroke-width="6.00" stroke-linecap="round" opacity="0.5"/>
<path d="M377.4 93.6h0M415.8 34.4h0M382 39.1h0M424.4 81.6h0M402.5 84h0M386.4 100.1h0M406.4 65.9h0M370.2 54.8h0M367.5 89.9h0M405.1 87.8h0M378.8 39.3h0M368.9 84.7h0M393.9 94.1h0M384.2 35.5h0M370.7 59.7h0M425.8 45.8h0M372.2 50.6h0M384.2 62h0M397.3 36.5h0" stroke="#a070a8" stroke-width="4.40" stroke-linecap="round" opacity="0.55"/><path d="M427.1 65.7h0M416.7 89.4h0M355.9 62.3h0M437 78h0M394.7 97.6h0M404.1 98.7h0M357.1 79.8h0M415.9 76.9h0M430.7 64.2h0M396.2 40.7h0M357.5 80.6h0M385.5 43.2h0M379.1 98.3h0" stroke="#a070a8" stroke-width="6.40" stroke-linecap="round" opacity="0.55"/><path d="M430.6 54.5h0M419 36.4h0M370.6 51.4h0M390.5 79h0M355.2 76h0M377.3 55.5h0M362.2 45.3h0M434.4 60.8h0M429.1 82.7h0M395.8 31.9h0M406.6 54h0M396.5 82.6h0M368.5 41.6h0" stroke="#a070a8" stroke-width="2.40" stroke-linecap="round" opacity="0.55"/>
<g fill="#80589a" stroke="#d4c2e0" stroke-width="0.6" opacity="0.6"><ellipse cx="398.1" cy="96.6" rx="2.8" ry="3.0" transform="rotate(100 398.1 96.6)"/><ellipse cx="384.2" cy="79.4" rx="4.8" ry="3.1" transform="rotate(37 384.2 79.4)"/><ellipse cx="404.8" cy="80.0" rx="3.1" ry="3.1" transform="rotate(79 404.8 80.0)"/><ellipse cx="392.8" cy="25.1" rx="5.0" ry="2.2" transform="rotate(83 392.8 25.1)"/><ellipse cx="433.5" cy="77.1" rx="4.1" ry="2.2" transform="rotate(80 433.5 77.1)"/><ellipse cx="429.6" cy="87.0" rx="2.7" ry="3.7" transform="rotate(175 429.6 87.0)"/><ellipse cx="395.8" cy="20.8" rx="4.1" ry="2.4" transform="rotate(85 395.8 20.8)"/><ellipse cx="392.3" cy="24.6" rx="3.7" ry="3.9" transform="rotate(6 392.3 24.6)"/><ellipse cx="365.0" cy="91.2" rx="2.9" ry="4.0" transform="rotate(163 365.0 91.2)"/><ellipse cx="355.1" cy="66.0" rx="2.8" ry="2.6" transform="rotate(17 355.1 66.0)"/><ellipse cx="433.3" cy="43.8" rx="4.2" ry="2.1" transform="rotate(87 433.3 43.8)"/><ellipse cx="398.3" cy="24.8" rx="2.6" ry="2.0" transform="rotate(16 398.3 24.8)"/><ellipse cx="368.0" cy="78.8" rx="5.2" ry="2.3" transform="rotate(47 368.0 78.8)"/><ellipse cx="408.1" cy="77.4" rx="5.4" ry="2.5" transform="rotate(90 408.1 77.4)"/><ellipse cx="360.5" cy="87.5" rx="4.6" ry="3.2" transform="rotate(88 360.5 87.5)"/><ellipse cx="390.5" cy="96.8" rx="2.8" ry="3.2" transform="rotate(53 390.5 96.8)"/><ellipse cx="389.7" cy="88.7" rx="3.1" ry="3.2" transform="rotate(13 389.7 88.7)"/><ellipse cx="434.1" cy="80.2" rx="4.0" ry="3.4" transform="rotate(140 434.1 80.2)"/><ellipse cx="419.6" cy="93.9" rx="3.7" ry="2.9" transform="rotate(88 419.6 93.9)"/><ellipse cx="410.8" cy="94.5" rx="3.8" ry="2.5" transform="rotate(156 410.8 94.5)"/><ellipse cx="426.9" cy="33.1" rx="3.5" ry="3.8" transform="rotate(140 426.9 33.1)"/><ellipse cx="437.4" cy="53.4" rx="5.5" ry="3.0" transform="rotate(135 437.4 53.4)"/><ellipse cx="431.3" cy="76.0" rx="2.9" ry="2.7" transform="rotate(141 431.3 76.0)"/><ellipse cx="439.9" cy="71.7" rx="4.3" ry="3.1" transform="rotate(122 439.9 71.7)"/><ellipse cx="391.8" cy="82.8" rx="5.4" ry="2.1" transform="rotate(93 391.8 82.8)"/><ellipse cx="430.9" cy="77.7" rx="2.7" ry="2.9" transform="rotate(112 430.9 77.7)"/><ellipse cx="355.6" cy="82.5" rx="5.1" ry="2.2" transform="rotate(1 355.6 82.5)"/><ellipse cx="438.0" cy="67.0" rx="2.6" ry="3.6" transform="rotate(145 438.0 67.0)"/><ellipse cx="414.9" cy="24.5" rx="4.4" ry="3.6" transform="rotate(98 414.9 24.5)"/><ellipse cx="349.4" cy="47.5" rx="3.7" ry="3.4" transform="rotate(32 349.4 47.5)"/></g>
<path d="M367.0,35.0C368.8,32.8 368.5,31.5 372.0,30.5C375.5,29.5 382.5,29.2 388.0,29.0C393.5,28.8 400.5,28.8 405.0,29.0C409.5,29.2 412.8,29.0 415.0,30.0C417.2,31.0 418.5,33.0 418.0,35.0C417.5,37.0 413.3,39.8 412.0,42.0C410.7,44.2 410.0,45.5 410.0,48.0C410.0,50.5 411.8,54.2 412.0,57.0C412.2,59.8 411.7,62.5 411.0,65.0C410.3,67.5 410.2,70.8 408.0,72.0C405.8,73.2 400.7,72.2 398.0,72.5C395.3,72.8 394.8,72.8 392.0,74.0C389.2,75.2 382.5,80.2 381.0,80.0C379.5,79.8 384.2,74.5 383.0,73.0C381.8,71.5 377.0,72.3 374.0,71.0C371.0,69.7 367.5,67.2 365.0,65.0C362.5,62.8 360.1,60.3 359.0,58.0C357.9,55.7 358.2,53.3 358.5,51.0C358.8,48.7 359.6,46.7 361.0,44.0C362.4,41.3 365.2,37.2 367.0,35.0Z" fill="#fcf7fb"/>
<path d="M389.8 53h0M385.4 53.2h0M385.5 47.7h0M392.9 46.4h0M385.5 52.9h0M387.7 55.2h0M384.2 47.4h0M392.8 52.2h0M395.3 50.2h0M387.4 46.6h0" stroke="#b05c6c" stroke-width="2.60" stroke-linecap="round" opacity="0.85"/><path d="M391 52.8h0M395.7 51.7h0M395.4 53h0M390.3 54.3h0M392.4 46.6h0M389.1 48.8h0M385.9 45.7h0M384.2 47.4h0M388.1 51h0M389.3 54.9h0M382.3 51.1h0M381.4 51.8h0M385.9 56.2h0M383.6 51.2h0M390.2 54.2h0M387.5 51.4h0M388.4 45.3h0M384 54h0M394.2 54.5h0M388.9 55.7h0M385.3 52.4h0M386.7 55.1h0M386.2 49.3h0" stroke="#b05c6c" stroke-width="1.90" stroke-linecap="round" opacity="0.85"/><path d="M385.8 51.3h0M389.5 53.6h0M384.8 48.4h0M392.4 52.1h0M393.2 49.1h0M392 47.9h0M393.4 46.7h0M393.1 47.9h0M392.5 55.5h0M390.5 49.1h0M387.9 47.5h0M384.2 46.6h0" stroke="#b05c6c" stroke-width="1.20" stroke-linecap="round" opacity="0.85"/>
<path d="M391.5 50.7h0M392.7 58.8h0M378.7 61h0M410.5 56.3h0M382.9 40.9h0M405.3 40.5h0" stroke="#d6a6b8" stroke-width="1.60" stroke-linecap="round" opacity="0.6"/><path d="M383 62.4h0M379.9 35h0M372.1 40.8h0M412.6 50.8h0M391.8 51.4h0M406.4 50.6h0M385.1 56.9h0M378.3 39.5h0M413 41.9h0M402.2 42.8h0M404 55.7h0M396 40.3h0M367 40.6h0M392.5 56.4h0M371.7 46.9h0M400.6 59.5h0" stroke="#d6a6b8" stroke-width="1.20" stroke-linecap="round" opacity="0.6"/><path d="M404.4 56.1h0M379.2 42h0M384.4 45.6h0M406.2 41h0M385.8 46.8h0M367.6 41.6h0M391.3 45h0M395.7 59.9h0" stroke="#d6a6b8" stroke-width="0.80" stroke-linecap="round" opacity="0.6"/>
</g></g>
<g clip-path="url(#cC)">
<g filter="url(#soft)">
<rect x="45" y="137" width="145" height="133" fill="#e4bfe4"/>
<path d="M96.7 172.5Q100.4 174.5 101.4 170.4T106.2 168.3M105.6 239.1Q101 237 101.8 232T98 224.9M66.8 168.5Q66.9 163.4 70.9 160.4T75.1 152.4M123.4 195.3Q126.3 191.5 129.3 195.2T135.3 195.1M140.2 156.5Q144.9 153.3 148.9 157.4T157.5 158.2M177.8 144.2Q182.2 144.2 182.3 148.6T186.8 152.9M150.8 147.9Q154.7 145.6 157.5 149.1T164.2 150.2M134 198.8Q138 199 139.6 202.7T145.1 206.6M174 184.6Q179.5 186 177.7 191.4T181.3 198.2M133.5 181.7Q135.9 177.9 138.4 181.6T143.4 181.5M151.9 246.9Q146.9 251.1 142.1 246.8T132.2 246.6M108.6 233Q103.7 233.8 105.8 229.3T103 225.7M79.3 204.3Q84.6 201.5 82.6 195.8T86 187.3M60.9 232Q58.4 228 61.2 224.2T61.5 216.4M164.7 173.8Q164.9 180.3 171.2 182.1T177.6 190.3M143.7 167.7Q146.6 165 148.8 168.4T153.9 169M87.9 269.1Q87.2 264.4 82.5 263.5T77.1 257.8M80.9 230Q77.5 227.6 80.8 225.2T80.8 220.3M126.4 265.9Q120.7 265.8 117.2 261.4T108 256.8M140.8 159.5Q144.1 157.4 145.6 161T150.5 162.5M184.7 257.6Q181.5 257 181.3 260.3T177.9 262.9M113.8 260.8Q110.4 254.9 103.9 256.6T94 252.5M142.6 242.4Q137.1 240.5 132.6 244T122.7 245.7M160.9 222.4Q157.2 223.3 157.7 227.1T154.4 231.7M74 204.8Q76.3 202.9 74.6 200.3T75.3 195.9M164.4 221.6Q165.7 226.9 161.5 230.1T158.6 238.6M125.1 257Q120.6 258.4 117.3 255T109.5 252.9M167.8 200.2Q165.8 202.7 167.8 205.2T167.9 210.2M158.5 172.1Q162.1 171.9 161.2 175.3T163.8 178.5M73.9 214.8Q76.6 211.1 75.1 206.8T76.4 198.8M116.3 148.7Q118.4 144.1 122.6 146.9T129 145.1M164.6 243.6Q162.8 247.7 158.4 247T152.1 250.3M157.7 198.8Q154.4 204.3 158.8 209T159.9 219.2M103.7 242.8Q103.5 239.5 100.3 239.8T96.8 236.8M104.3 181.8Q106.1 176.2 111.7 174.5T119.1 167.2M164.9 173.6Q165.3 180.2 171.9 180.5T179 187.4M175.2 219.3Q169.4 221.1 168.6 227.1T161.9 234.9M171 166.1Q170.2 172.7 176.1 175.7T181.2 185.2M149.8 184.4Q149.1 189.8 154.2 191.7T158.7 199.1M79.7 262.8Q77.6 257.4 71.8 257.4T63.9 251.9M78.5 229.3Q79.7 225.5 76.1 223.8T73.7 218.3M68.8 255Q69 248.1 62.5 246T56.2 237M129.3 234.2Q129.1 228.8 123.9 230.4T118.5 226.6M112 262Q106.8 263.5 106 258.1T100 254.3M58.8 221.3Q55.3 219.6 58.3 217.2T57.8 213M119.4 207.2Q119.9 201.3 125.8 200.1T132.2 192.9M101.5 153.1Q106.2 148.6 111.7 152.1T121.9 151.1M184.2 253.5Q179.2 255.9 179.4 261.6T174.6 269.6M104.5 177.4Q104.2 172.6 108.2 175.3T111.8 173.1M167.2 230.5Q161.3 232.3 160 238.3T152.9 246.1M107.3 267Q101.1 265.8 100 259.5T92.7 252.1M82.3 173.2Q88.2 170.9 89 164.6T95.8 156.1M143.8 171.2Q146.9 169.5 149.3 172.1T154.8 173M175.4 252.5Q175 256.3 171.2 257.2T167 261.9M77.6 167.8Q79.6 163.7 84.1 163.1T90.6 158.3M134.2 258.9Q129.1 260.2 125 256.8T115.8 254.7M84.2 174.6Q83.4 169.7 87.8 171.9T91.4 169.2M144.3 161.9Q146.2 166.2 150.8 164.9T157.4 168M84.4 193.4Q89.6 190.7 89.3 184.8T94.3 176.2M94 198.4Q93.5 193.4 96.8 189.5T99.6 180.6M70.4 202.5Q74.4 199 70.5 195.3T70.6 188.1M169 166.7Q170.1 170.7 174.3 170.4T179.6 174M169.2 258.6Q164.5 258.1 165.6 262.7T162 266.9M146.7 206.5Q141.6 209.2 140.5 214.9T134.2 223.3M63.5 201.6Q61.5 198.2 63.4 194.7T63.3 187.9M103.1 174.6Q107.2 175.9 109.6 172.3T116.1 170.1M105.5 204.6Q108.2 201.9 106.1 198.7T106.7 192.8M103.6 250.4Q101.9 245.3 96.6 246T89.6 241.7M179.9 218.4Q175.4 222.9 178.7 228.4T177.5 238.4M83.3 169.1Q88.7 168 87.7 162.7T92 156.3M83 210.6Q79.9 206.2 82.2 201.3T81.3 192M53.9 194.9Q52.7 189 57.8 185.9T61.8 176.9M190.2 252.3Q190.6 258.9 184.2 260T178.2 267.8M173 164.2Q177.3 163 175.7 167.2T178.4 170.2M143.3 194.9Q147.1 195 145.3 198.4T147.4 201.9M102.9 212.4Q100.1 209.7 103.4 207.7T104 203M71.9 176.8Q77.4 173.7 75.7 167.7T79.6 158.6M72 242.4Q68.4 240.3 71.2 237.2T70.5 232M64.4 190.6Q67.3 187.2 66.3 182.9T68.1 175.3M71.6 182.2Q75.8 180.5 75.1 176T78.6 169.7M93.2 266.9Q93 263.3 89.6 264.3T85.9 261.8M76.2 149.6Q81.7 148.8 85.3 144.6T94.4 139.6M152 206.4Q154.1 212.4 148.3 214.9T144.5 223.4M146.2 161.2Q150.9 160.3 152.4 164.8T158.5 168.4M111 152.2Q111.8 148.4 115.1 150.4T119.2 148.6M61.1 182.3Q59.5 177.1 63.8 173.9T66.5 165.6M77.3 252.6Q78.8 247 73.3 245.2T69.2 237.7M94 246.1Q94.4 241 90.9 237.4T87.8 228.6M98.8 173.7Q104.8 175.2 107.5 169.6T116.1 165.5M170.4 205.8Q168 210.2 171.7 213.5T173.1 221.1M93.8 210.4Q90.9 206.8 95.2 205.3T96.7 200.2M103.1 267.9Q97.6 269.7 95.2 264.3T87.3 260.8M174.7 237.6Q168.5 238.6 168.4 244.9T162.2 252.2M83.3 270.1Q78.9 268.1 79 263.3T74.8 256.5M120.9 246.8Q116.1 248 116.2 243.1T111.6 239.3M128.9 232.6Q123.6 234 121.2 229.2T113.5 225.7M153.3 144.8Q158.5 146.8 160.8 152T168.3 159.2M132.1 150.9Q133.9 146.3 137 150.1T141.8 149.3M140 257.5Q137.4 254.4 134.5 257.3T129.1 257.1M93.8 258.9Q87.8 258.2 85.5 252.7T77.2 246.4M91.9 169.2Q92.1 163.9 97.2 165.2T102.5 161.2M182.4 254.5Q181.9 258.5 177.9 257.8T173.5 261.1M105.8 262.4Q105.4 256.5 99.5 256T93.3 249.6M46.8 154.7Q45.8 150.3 50 151.9T53.2 149M99.9 232.3Q94.5 228.7 96.5 222.6T93.2 212.9M174.3 244Q169.1 242.4 167.2 247.5T160.1 251M101 182.4Q102.8 178.5 107.1 178.8T113.1 175.3M105.6 192.9Q110.4 193.5 108.4 189.1T111.2 185.3M133.8 253.8Q131.5 250.6 127.6 251.4T121.4 249.1M170.1 235.5Q169.6 241.1 164 241.1T157.9 246.6M170.6 248Q165.5 249.2 164.3 254.3T158 260.6M117.4 196.3Q117.4 192.2 121.6 192.5T125.7 188.6M105.8 213.5Q108.1 211 106.5 208T107.3 202.5M89.5 199.1Q94.1 197 91.9 192.5T94.2 185.9M151 230.3Q149.8 233.5 146.8 232T142.5 233.6M104.6 229.4Q100.2 225.2 102.8 219.8T100.9 210.2M102.5 186.8Q108 184.9 109.1 179.3T115.8 171.8M75.2 207.5Q75.1 202.4 78.7 198.7T82.2 189.9M94.8 262.7Q88.6 261.8 89.1 255.5T83.4 248.4M125 189.5Q129.6 192.7 133.9 189.1T142.8 188.7M179.4 248.1Q175.2 249.1 175.3 253.5T171.1 258.9M60.4 167.2Q65.9 167.9 66.1 162.3T71.8 157.4M59 201.3Q63.9 199.7 60.3 195.9T61.7 190.6M53.8 256.4Q54.9 253.3 51.6 252.9T49.5 249.5M82.2 169.7Q83.1 164.4 88.6 164.1T94.9 158.5M86.1 157.6Q91.7 159.3 95.1 154.6T104.1 151.6M168 161.1Q168.7 164.9 172.6 164.3T177.1 167.6M100.9 227.9Q104 224.1 99.5 222.1T98.2 216.2M139 222.1Q135 224.6 131.6 221.2T124.3 220.3M151.4 257.1Q149.3 259.3 147 257.5T142.5 257.9M52 228.4Q48.8 227.4 50.2 224.4T48.5 220.4M55.2 212.1Q52 208.5 56.5 206.4T57.7 200.7M138.7 189.4Q143.7 188.2 142.5 193.2T146.4 197M89.8 183.8Q91.3 179.5 95.8 179.7T101.9 175.7M147.8 242.4Q145.1 240 143.5 243.2T139.2 244.1M99.8 238.1Q98.9 233.1 93.9 232.2T87.9 226.3M80.9 236Q75.9 232.5 77.5 226.6T74.1 217.2M72.3 185.2Q69.8 180.5 75 179.4T77.7 173.5M64.8 251.3Q66.1 246.1 60.9 246.9T57.1 242.6M123.1 214.4Q118.6 214 121.4 210.5T119.6 206.5M135.9 262.1Q131 259 125.4 260T114.8 258M153.9 178.3Q159.6 178.4 161.4 183.8T168.9 189.3M184.6 223.3Q184 229.4 178.5 232T172.5 240.6M60.4 271.8Q60.6 266.5 55.7 264.4T50.9 257M132.4 185.1Q135.1 189.6 140.2 188.7T148 192.3M77.4 176.9Q81.2 174 80.6 169.3T83.9 161.6M105.2 195.6Q106.1 190.4 110.8 188.1T116.4 180.6M78.6 262.3Q73 262.3 73.9 256.8T69.2 251.2M110.9 255.1Q105 254.3 105 248.4T99.1 241.7M176.7 246.3Q172.3 244.9 173.3 249.4T169.8 252.5M94.1 218.2Q96.2 215.5 94 212.9T93.8 207.6M176.9 137.7Q177.8 143.4 182.8 146.5T188.7 155.3M139.7 179Q141 182.5 144.7 183.1T149.8 187.2M174.5 184.9Q178.9 186.1 177.2 190.3T179.9 195.8M127.4 212Q131.4 211.8 130.6 207.9T133.8 203.8M109.8 163.7Q110.9 160.3 114.5 160.4T119.2 157.1M74.2 204.1Q71.4 199.3 74.1 194.4T74 184.7M97.4 205.7Q102.8 203.1 104.5 197.4T111.5 189M154 142.7Q157.5 141.6 158.5 145.2T163 147.7M99.4 209.4Q98.1 204.3 100.9 199.8T102.4 190.1M81.7 240.3Q84.4 237.3 80.7 235.9T79.7 231.5M169 146.9Q174 145.6 175.7 150.5T182.4 154M66 155.8Q65.4 151 70.2 151.8T74.4 147.7M75.8 226Q72.2 224 73 220T70.3 214.1M153.5 209.5Q150.3 213.5 151.4 218.5T149.3 227.4M84.7 181.9Q85.8 176.2 91.2 174.2T97.8 166.5M83.3 210.2Q80.6 207 83.7 204.1T84.1 198M102 191.7Q107.4 192 109.8 187.2T117.6 182.7M88.8 215.4Q87.9 210.9 91 207.7T93.2 200.1M146.4 194Q145.2 198.4 148 201.9T149.6 209.9M140.1 262.1Q136.5 265.9 133.3 261.8T126.4 261.5M58.7 210.1Q54.2 207.3 57.7 203.3T56.8 196.6M160 197.7Q157.2 202.5 160.6 207T161.2 216.3M133.7 146.2Q137.9 144.3 141.2 147.5T148.6 148.8M161.8 179.8Q163.1 183.6 167.1 184.6T172.3 189.5M111.3 170.2Q115.3 164.8 121.6 167.4T131.9 164.6M161.4 198.4Q166.6 201.9 163.1 207T164.8 215.6M139.6 226.3Q134.3 229.3 131 224.3T122.4 222.3M178.7 254.5Q174.3 252.4 174.3 257.3T169.9 260.1M101.5 238.9Q96.9 240.5 98.8 235.9T96 233M107.5 203.3Q112.3 201.9 109.7 197.6T111.8 191.9M86.2 153Q91.7 152.1 94.3 147.1T102.5 141.2M64.6 171Q69.5 168.8 69.3 163.4T74 155.8M83.2 262.3Q81.7 258 77.1 257.6T71 253M117 153Q119.4 148.4 123.3 151.8T129.7 150.5M58 261.5Q53 260.2 54.1 255.1T50.2 248.8M175.6 211.6Q171.8 214.1 174.7 217.7T173.9 223.8M106.6 267.7Q102.6 268 101.7 264.1T96.9 260.5M91 172.2Q96.2 171.3 99.3 167.1T107.6 162.1M155.6 237.1Q150.7 234.8 148.4 239.7T141.2 242.3M131 164.4Q134.2 162.7 136.5 165.4T141.9 166.4M119.2 267.4Q116.5 263 111.6 264.8T103.9 262.1M167.9 207.2Q162.3 209.1 164.6 214.6T161.3 221.9M100.4 174.6Q105.7 174.2 105.2 168.8T110.1 163M142 249.2Q137.4 252 133.7 248.1T125.3 246.9M160.8 242.2Q158.8 247.1 153.5 246.6T146.2 251M162.1 162.8Q166.5 161.2 167.8 165.7T173.5 168.6M85.2 187.5Q84.5 184.4 87.6 184T90 180.4M64.7 171.7Q62.1 168.4 66.1 167.1T67.4 162.5M60.6 178.7Q59.9 171.8 66.3 169.3T72 159.9M152.3 168.2Q155.7 168.2 156.3 171.6T160.3 175M91.3 226.8Q94.5 224.1 91.3 221.5T91.2 216.1M130.7 174.5Q133.8 171.2 137.1 174.5T143.5 174.5M165.2 220Q165 225.8 160 228.6T154.8 237.2M60.3 265Q62.1 260.2 57.9 257.2T55.5 249.5M88.7 143.6Q92.9 146.2 95.5 142T102.4 140.4M65 217.5Q61 215.1 64.3 211.7T63.5 206M142.7 157.4Q147.6 157.7 149.2 162.3T155.6 167.3M60.3 151.9Q58.4 147.8 62.9 147.8T65.6 143.7M106 198.3Q109.5 196.4 108.8 192.5T111.6 186.7M99.9 148.6Q102.6 144.8 107.1 145.7T114.4 142.9M75.6 198.7Q81.6 196.5 81.8 190.1T88.1 181.4M125.9 254.9Q120 254.3 117 249.2T108.2 243.4M62.3 250.8Q59.6 249.4 61.2 246.8T60.1 242.8M173 164.2Q178.3 165.8 181.1 170.5T189.2 176.8M120 262.1Q116.2 264.1 113.1 261.2T106.2 260.3M70.5 186.9Q69.2 183.9 72.1 182.4T73.8 177.9M77.9 175.3Q83.7 175.9 84.9 170.3T91.9 165.2M74.3 266.2Q69.8 264.7 71.6 260.4T68.8 254.6M123.4 243.6Q118 243.7 117.5 238.3T111.6 233M152 240.4Q153 245.1 148.7 242.8T145.4 245.2M54.7 233.6Q56.1 229.7 52.8 227.1T50.9 220.6M100.3 256.5Q95.3 255.9 93.5 251.1T86.6 245.7M172.5 160.2Q178.4 162.2 179.7 168.3T187 176.3M175.3 228.3Q174.7 233.7 169.3 234.4T163.2 240.5M80.6 253Q80.5 247.3 75 248.5T69.3 244M167.8 231Q167.4 235.9 163.2 238.5T158.7 246.1M96.7 259.6Q95.7 255.9 91.9 255.6T87 251.5M89.9 217.6Q85.9 214.4 90.3 211.7T90.8 205.9M95.8 234.9Q90 233.1 92.1 227.5T88.4 220.1M119.2 255.2Q118.2 250.7 114.9 254T110.5 252.8M71.6 229.8Q68.1 224.9 72.3 220.6T73.1 211.4M88 206.5Q85.5 201.5 90 198.1T92 189.7M64.4 249.1Q60.2 247.3 63.1 243.7T61.8 238.4M96.3 263.8Q96.7 258.5 91.4 258T86.6 252.2M92 158.2Q96.8 158.5 96.7 153.7T101.3 149.2M52.1 194.8Q49 191.8 52 188.7T51.8 182.6M100 168.9Q104 171.9 104.5 166.9T109 164.9M63.1 190.2Q62.6 186 65.9 183.5T68.7 176.9M83.3 218.2Q84.4 215.1 81.5 213.5T79.7 208.8M160.7 229.8Q161.7 236.3 155.2 238T149.7 246.2M75.6 221.2Q70.4 219.4 73.5 214.8T71.3 208.5M96.6 170.3Q97.7 166.1 102 166.6T107.4 162.9M60.4 185.5Q60.3 180 64.8 176.8T69.2 168M50.8 172.6Q56 169.6 54.9 163.7T58.9 154.8M126.2 241Q122 244.3 119.9 239.4T113.5 237.8M93.5 189.2Q98.6 188.4 99.1 183.2T104.7 177.2M70.4 268.6Q67.1 266.8 68.1 263.2T65.8 257.8M170 256.6Q166.5 255 164.6 258.3T159.2 260.1M118.9 203.9Q122.3 203.5 121.9 200.2T124.8 196.4M140.5 260.3Q136.8 263.4 132.1 262.1T123.8 263.9M110.3 262.3Q108.5 259.6 105.6 261.1T101 259.9M166.8 180.4Q165.5 185 168.7 188.5T170.7 196.6" fill="none" stroke="#b86ab8" stroke-width="1.0" opacity="0.75" stroke-linecap="round"/>
<path d="M113.4 148.3Q117.2 148.5 119.8 145.7T126.3 143.2M85.1 217.3Q87.9 214.6 86.3 211T87.6 204.7M122.8 222.5Q118.5 222.2 119.6 218.1T116.4 213.7M94.1 174.6Q98 173.6 98.6 169.6T103 164.6M80.4 166.3Q81.6 161.6 86.4 162.3T92.4 158.3M123.8 214Q122.5 210.7 124.6 207.9T125.3 201.8M53.3 217.4Q56 214.6 53.5 211.6T53.7 205.9M75.2 204.5Q71.6 202.1 75.1 199.6T75 194.7M55.4 183.8Q53.4 181.8 56 180.8T56.7 177.8M97.4 222.5Q93.5 220.9 94.4 216.7T91.4 211M107.9 210.6Q105.8 208.3 108.4 206.7T108.9 202.8M77.1 268.7Q72.7 268.4 71.2 264.2T65.2 259.7M94.9 262.5Q94.5 258.3 90.7 260T86.5 257.5M74.5 218.1Q75.9 216 73.7 214.7T73 211.4M127.4 238.6Q124.7 240 124.6 236.9T121.8 235.3M185.6 254.5Q182.9 254.9 184.2 257.3T182.9 260.1M118.2 175.5Q121.3 176.5 122.2 173.4T126.2 171.3M169 175.9Q172.5 176.3 172 179.9T175.1 183.8M76.6 264.3Q77.1 260 73.1 261.8T69.7 259.3M154.4 228.1Q149.5 227.5 150 232.4T145.5 236.7M146.9 207.9Q143.3 208.4 145.5 211.3T144.1 214.7M84.3 167.4Q87.1 166.4 87 163.5T89.6 159.6M132.4 162Q134.9 160.5 136.2 163.1T140 164.2M62.7 242.7Q64.2 239.7 60.8 239.6T59 236.6M69.3 205.6Q66.3 202.6 70.5 202.2T71.8 198.8M105.9 214.9Q101.8 214.9 104.6 211.9T103.3 208.9M82.8 163.4Q83.7 159.4 87.5 161T92.2 158.6M137.4 165.7Q139.6 168 142.6 166.8T147.7 167.9M123.2 201Q123.6 196.5 127.7 198.4T132.3 195.9M158.4 197.6Q156.4 200.4 158.3 203.2T158.3 208.7M75.8 236.7Q72.3 233.8 73.8 229.5T71.7 222.2M78.9 184.4Q76.3 181.9 79.8 181.2T80.8 178M116.4 196.9Q120.6 197.4 119.6 193.3T122.8 189.8M52.8 189Q55.1 187.5 53.4 185.4T54 181.8M145.8 223.6Q146.2 226.2 143.6 226.1T141.5 228.6M120 197.7Q119.5 193.2 123.7 194.8T127.5 191.8M99.2 243.5Q96 243.8 96.7 240.7T94.2 237.9M80 198.2Q83.4 196 80.9 192.9T81.8 187.5M63 243.8Q64.5 238.9 59.9 236.8T56.7 229.9M153.9 153.1Q154.9 157.1 158.9 156T163.8 158.9M143.9 157.4Q144.9 161.1 148.5 160.1T153.1 162.7M127.2 265.8Q125.7 263 123.1 264.8T119 263.9M159.1 210.2Q159.9 213.3 157 214.7T154.9 219.1M180 245.8Q180 251.1 174.8 251.4T169.7 257M172.1 148.1Q172.6 152.4 176.7 153.5T181.3 159M78.6 152.7Q83.9 153.1 83.8 147.8T89 142.9M89.3 202.4Q88 199.9 90.5 198.6T91.7 194.8M174.3 173.1Q178.5 172.5 178.6 176.6T182.8 180.2M185.3 203.6Q182.8 205.4 184 208.1T182.8 212.6M59.9 253.5Q57.4 253.8 57.6 251.3T55.3 249.1M75.9 234.5Q73.9 230.6 75.6 226.6T75.3 218.7M55.9 234.8Q52.7 232.8 53.3 229.2T50.8 223.5M179.2 260Q175.7 258.6 174.4 262.1T169.5 264.2M173.2 218.3Q175.8 221.7 171.5 221.6T169.9 224.9M60.4 237.8Q61.7 233.2 57 232.7T53.6 227.6M156.9 213.2Q152.8 215.9 155.2 220.1T153.5 227.1M61.8 175Q62.2 170.2 66.9 169.2T72 163.5M71.4 162.8Q74.9 162.9 74.3 159.4T77.2 156.1M151.3 256.5Q150.5 260.7 147.9 257.3T144.5 258.1M134.3 155.6Q136.2 159.5 140.3 158T146.4 160.4M173.2 168.6Q176.9 168.5 177.7 172.1T182.3 175.6M61 158.2Q64.9 156.6 65.9 152.5T70.8 146.7M51.7 235.9Q54.8 233.6 51.6 231.6T51.4 227.2M94.8 246.2Q91.6 246.8 91.1 243.6T87.3 240.9M89.6 214.2Q91.3 210.6 88.8 207.4T88 200.7M110.6 221.6Q106.6 219.8 109.8 216.9T109.1 212.2M87.5 193.7Q85.9 189.9 90 189.4T92.5 185M111.3 178.4Q115.3 179.2 116.6 175.4T121.8 172.4M116 203.2Q119.2 204 118 200.9T120 198.6M95.6 156.6Q100.5 158 102.2 153.2T108.9 149.7M62.1 191.6Q59.6 187.7 63 184.7T63.9 177.9M96.4 232.7Q96.2 229.4 93 228.6T89.7 224.5M132.1 147.1Q136.9 145.4 139.6 149.7T147 152.3M163.5 185Q161.3 188 164.7 189.6T165.9 194.1M75.4 193.3Q73.5 189.8 77 188T78.6 182.6M119.6 237.4Q118.6 233.5 114.6 234.2T109.6 231M82.6 196.5Q85.7 194.3 82.9 191.9T83.1 187.4M58.4 166.8Q57.5 164 60.4 163.2T62.4 159.5M93 206.7Q97.3 205.7 94.3 202.4T95.7 198M81.2 185.7Q86.1 185.3 85.4 180.5T89.6 175.3M142.8 220.3Q143.1 224.2 139.1 223.6T135.5 227M128.8 166.5Q130.4 168.5 132.6 167.2T136.4 167.8M132.7 156.5Q134.9 158.9 137.8 157.3T142.8 158M65.7 235.3Q67.8 231.4 64.4 228.5T63.1 221.7M111.2 171.4Q113.7 168.4 117 170.5T122.7 169.6M103.1 152.4Q107.2 152 109.1 148.3T115.1 144.1M92.2 194.1Q95.7 192.5 94.4 188.9T96.6 183.7M58.3 220Q55.5 216.1 58.3 212.3T58.3 204.6M126.3 165.4Q128.8 163.4 130.2 166.2T134 167.1M86.5 228.6Q83.1 226.8 85.5 223.8T84.4 219.1M160.2 198.6Q158.5 200.4 160.5 202T160.7 205.4M99.9 223.1Q102.7 220.7 99.5 218.9T99.1 214.6M148.8 262.4Q145.6 264 142.5 262.2T136.1 262M71.9 172.4Q69.5 169.2 73.4 168.4T74.9 164.5M85.1 240.4Q86.3 236.2 82.1 235.3T79 230.3M124.9 261.9Q122.7 264 120.3 262T115.8 262.2M107.7 235.2Q109.5 231.4 105.5 232.6T103.3 230M151.3 184.6Q154.6 185.5 153.5 188.7T155.7 192.7M54 226.3Q55.9 223 53 220.5T52 214.7M77.3 200.5Q79.6 198.7 77.3 196.9T77.2 193.2M152.2 169.4Q152.2 173.4 156.2 173.5T160.3 177.5M87 235.2Q88 231.1 84.5 228.7T82.1 222.2M48.8 221.7Q53.1 219.2 50.1 215.4T51.3 209.1M119.4 150.5Q120.9 146.8 123.5 149.8T127.6 149.1M181.1 170.1Q179.1 173.9 183.2 175.4T185.4 180.7M71.7 171.9Q74.5 171.3 73.9 168.5T76.1 165.1M60 203.7Q57.2 200.8 61.1 199.8T62.2 195.9M154.3 246.8Q153.1 248.9 151.2 247.5T148 248.1M131.1 171.1Q133.3 167.5 135.5 171.1T139.9 171M106.8 150Q110.4 151.3 112.4 148T118 146.1M172.6 183.9Q171.3 187.9 174.6 190.4T176.7 196.9M179.8 189.1Q178.7 193.6 183.1 194.9T186.4 200.7M171 148.3Q175.6 146.9 177.5 151.4T184 154.4M83.2 238.1Q84.6 235.6 82.3 233.9T81.4 229.7M132.9 190.7Q134.3 193.2 135.9 190.7T139 190.8M102.2 155Q102.1 151.8 105.3 152.5T108.4 150M107.9 224.6Q110.6 221.3 107.4 218.7T106.9 212.7M114.4 243.5Q110.2 244 109.6 239.9T104.8 236.2M171.2 198.9Q168.3 200.8 170.8 203.2T170.5 207.6M180.3 216.5Q183.1 219.6 178.9 219.8T177.6 223.2M118.5 238.6Q115.8 240.4 114.4 237.5T110.3 236.4" fill="none" stroke="#a864ac" stroke-width="0.8" opacity="0.55" stroke-linecap="round"/>
<path d="M124.9 211.2Q126.2 214.6 128.6 211.9T132.3 212.6M88.6 246.9Q86.5 250.4 83.9 247.3T79.2 247.7M92.5 143.9Q94.6 147.1 92.2 150T91.9 156.1M63.4 237.3Q62.6 240.1 60.2 238.5T57 239.7M182 229.2Q185.3 232.3 181.4 234.5T180.8 239.9M83.7 224.3Q87.7 223.2 86.5 227.2T89.3 230.1M116.3 233.1Q120.6 233.5 123 237T129.8 240.9M103.2 252.3Q103.1 256.9 98.6 255.6T94 259M182.3 254Q181.1 257.5 184 259.8T185.7 265.6M127.3 163.9Q129.5 166.1 127.9 168.7T128.5 173.5M86.5 254.1Q83.5 256.6 86.6 259T86.7 263.8M141.6 147.9Q146.4 146.9 148.6 151.2T155.6 154.4M153.2 256.6Q158.2 256.3 159.7 261.1T166.2 265.6M160.4 239.5Q158.9 244.4 163.6 246.4T166.8 253.3M80.6 214.8Q79.9 219.7 84.9 220.3T89.1 225.8M86 227.7Q85.7 232.5 81 233.1T76 238.4M97.9 172.7Q95.5 174.4 97.7 176.4T97.5 180.1M162.7 167.8Q159 164.2 155.4 167.9T148.2 168M138.8 163.8Q140.7 166.9 144.2 165.8T149.6 167.8M77.4 200Q77.5 204.3 73.9 206.8T70.5 213.6M111.6 159.4Q110.7 164.3 105.6 164T99.7 168.7M123.5 141.2Q126.5 141.7 125.5 144.6T127.5 148M128.2 239.4Q124.6 241.8 125.7 246T123.3 252.6M190.2 195.6Q186 193.3 182.5 196.6T174.7 197.7M175.2 230.8Q177.1 233.3 174.6 235.3T174.1 239.7M88.8 217Q83.5 217.7 84.3 222.9T79.8 228.8M127.6 249.3Q130.5 247.9 132.1 250.7T136.6 252.1M128.5 231.8Q132.4 233.1 132.3 237.3T136.1 242.7M59.6 237.7Q57.5 235.5 55.9 238.1T52.2 238.4M141 148.2Q146 146.9 147.5 151.9T153.9 155.6M162.3 239.5Q160.8 242.9 163.9 245.1T165.4 250.7M97.5 252Q100 255.7 104.4 255T111.4 258M82.2 144.5Q83.9 148.6 88.1 147.1T94.1 149.6M162.9 188.5Q160.7 192.1 158.4 188.5T153.9 188.6M151.6 203.8Q154.6 201.9 157.3 204.4T163 205M177.1 163.6Q178.6 166.8 182.2 166.9T187.3 170.2M173.1 145.7Q171.2 149 167.5 147.8T162 150M172.4 195.2Q173.4 198.5 169.9 198.6T167.5 202M172.3 185.5Q175.9 186.3 177.1 189.8T181.9 194.1M113.4 224.3Q116.1 227.6 114.5 231.7T115.6 239.1M89 246.3Q89.5 248.9 92 248.2T95 250M150.6 261.5Q148.1 259.5 147.5 262.6T144.5 263.8M167.7 215.6Q164.9 218.6 161.3 216.8T154.9 218M175.9 169Q177.2 171.2 174.9 172.1T173.8 175.2M123.5 246.7Q122 250 124.7 252.5T125.9 258.3M55.2 175.1Q52.4 175.1 53.3 177.8T51.4 180.4M157.1 263.1Q156.5 267.3 153.2 264.5T149.2 266M172.2 230.5Q175.5 229.3 175.9 232.7T179.6 235M122.3 198.9Q126.2 198.8 125.3 202.5T128.4 206.2M73.1 240.7Q75 243.7 77.2 240.8T81.3 240.9M189.2 257.8Q186.9 260.9 183.3 259.6T177.3 261.4M128.3 252.1Q133.2 252.6 133.2 257.4T138.1 262.8M156.2 138.6Q160.4 138.1 161 142.3T165.8 146M102 184Q105.7 181.4 108.4 185.1T114.8 186.2M167.4 189.8Q168.8 193.9 172 191.1T176.7 192.3M116.9 164.1Q112.9 165.7 116.1 168.6T115.3 173.1M155.2 186.9Q152.5 185 151 187.9T146.7 189M89.8 231.3Q87.6 233.8 84.9 231.9T80 232.5M181.4 227.3Q179.3 229.2 181.6 230.7T181.9 234.2M180.6 144.1Q179.1 148.3 181.8 151.9T183 159.7M123.6 157.1Q120.4 158.9 123.5 160.8T123.5 164.5M120.9 252.9Q124 256.7 119.7 259T118.6 265.2M120.9 207.7Q117.3 209.4 118.8 213T116.7 218.3M183.2 212.9Q179.3 211.4 180.7 215.3T178.2 217.7M88.9 223.7Q84.6 223.6 84.8 228T80.6 232.3M166.2 152.2Q167.9 148.7 169.4 152.2T172.6 152.3M171 214.4Q169 218.9 173.8 220.2T176.6 225.9M98.3 162.2Q95.6 161.8 95.8 164.6T93.3 167M75.3 192.4Q77.1 196.1 73.2 197.3T71 202.2M81.5 262.1Q84.3 259.7 86.3 262.7T91.2 263.4M80.9 241.3Q83.6 244.2 87.3 242.7T93.6 244.1M162.3 228.2Q158.8 225.8 156.1 229.2T149.9 230.1M93.1 231.5Q90 231.8 89.7 234.9T86.3 238.4M172.3 241.3Q171.8 243.9 174.4 244.6T176.5 248M80.2 167.9Q79.5 171.5 76.1 170T72.1 172.2M70.2 233.5Q69.2 237.6 66.7 234.2T63.2 234.9M104.2 235.9Q102.1 239.5 104.1 243.1T104 250.4M146 204.5Q149.7 206.5 146.6 209.3T147.2 214M113.9 190.6Q112.6 194.6 109.2 192.1T104.5 193.7M166.8 224.3Q163.7 226.9 165.3 230.6T163.7 236.9M69.9 220.9Q72 222.9 74.1 221T78.3 221.1" fill="none" stroke="#dcb0dc" stroke-width="1.4" opacity="0.6" stroke-linecap="round"/>
<path d="M142.9 234.6h0M85.1 174.9h0M133.4 204.9h0M138.4 244h0M70.4 163.4h0M74.2 170.3h0M97.6 176.1h0M57.4 227h0M145.9 222.7h0M115.4 166.2h0M81 242.3h0M141.1 189.6h0M145.3 191.5h0M54.6 201.4h0M138.3 191.1h0M117.3 177.6h0M93.4 193.7h0M168.3 195.8h0M97.5 246.3h0M102.1 143.7h0M80.8 169.1h0M63.9 189.1h0M166.3 229.9h0M134.1 237.6h0M97.7 163.2h0M173.4 213.8h0M151.3 242.7h0M172.2 217.2h0M101.2 252.9h0M130.5 181.3h0M90.5 219h0M161.2 244.7h0M75.5 191h0M144.3 252.7h0M147.8 180.1h0M136.1 234.4h0M92 152h0M67.3 169.9h0M140.9 221.6h0M90.6 235.6h0M94.9 212.3h0M111.7 170.8h0M85.6 224.7h0M137.4 176.6h0M54 191.9h0M157.4 190.5h0M87.5 190h0M176.8 222.7h0M172 222.1h0M102.2 144h0M109.3 207.5h0M139.5 261.4h0M118.7 223.9h0M77.5 215.3h0M101 205.6h0M58.5 191.2h0M141.7 206.1h0M146.6 201.2h0M143.1 247.4h0M131.2 250.6h0M156.7 235.4h0M179 218.1h0M60.7 200.6h0M78 200.1h0M139.2 180.8h0M174 178.2h0M62.4 237.9h0M81.9 185.4h0M90.9 168.3h0M70.2 197.8h0M90.7 239h0M85.1 206.3h0M130.6 210.8h0M149.1 214.4h0M183.1 207.8h0M175.8 177.7h0M123.8 232.1h0M123.9 201.9h0" stroke="#a868a8" stroke-width="1.30" stroke-linecap="round" opacity="0.6"/><path d="M144.7 229.4h0M137.7 209.1h0M127.3 207.9h0M96.2 217.4h0M115.4 148.9h0M84.9 186.5h0M90.2 173.4h0M60.2 213.2h0M126.5 246.7h0M104.9 254.5h0M78 222.1h0M95.7 200.2h0M100.4 164.3h0M142.7 189.6h0M81.3 157.9h0M175.1 176.9h0M63.5 208.9h0M151.6 237.7h0M103.5 157.4h0M132.7 196.2h0M140.8 227.3h0M118.2 142.1h0M88.7 240.9h0M146.1 220.3h0M110 260.7h0M164.3 224h0M95.1 221.8h0M171.6 218.4h0M139.6 256h0M151.1 255.2h0M118.3 212.2h0M86.4 224.4h0M150 206.6h0M144.8 232.1h0M142.6 239.9h0M87.9 198.2h0M54.7 206h0M78.8 168.5h0" stroke="#a868a8" stroke-width="0.80" stroke-linecap="round" opacity="0.6"/><path d="M90.2 210.7h0M96.8 236.9h0M98.1 246.7h0M144.3 221.5h0M136.2 204.7h0M61.7 194.5h0M149.4 189.3h0M136.5 150.2h0M91.9 184.4h0M135.5 242.3h0M114 162.1h0M137.4 181.4h0M103.2 181.9h0M89.7 234.5h0M147.3 232.5h0M93 229.2h0M156.2 240.8h0M93.7 153.9h0M119.4 175.7h0M174.6 177h0M81.9 191.5h0M81.4 245.9h0M152.7 170.1h0M84.8 182h0M184.4 207.3h0M144.6 174.9h0M67.5 206.1h0M138 183.1h0M59.9 183.7h0M166 226.1h0M122.7 156h0M55.7 210h0M142.7 212.7h0M110.5 211.3h0M129.8 203.9h0M167.3 215.1h0" stroke="#a868a8" stroke-width="1.80" stroke-linecap="round" opacity="0.6"/>
<ellipse cx="68" cy="222" rx="10" ry="14" fill="#a890c8" opacity="0.35"/>
<path d="M81.5,144.0C89.8,141.4 107.2,142.5 120.0,142.5C132.8,142.5 150.3,142.2 158.5,144.0C166.7,145.8 165.8,149.2 169.0,153.5C172.2,157.8 175.8,163.9 178.0,170.0C180.2,176.1 181.5,183.0 182.5,190.0C183.5,197.0 184.4,204.2 184.0,212.0C183.6,219.8 182.2,229.7 180.0,236.5C177.8,243.3 175.7,248.8 171.0,253.0C166.3,257.2 159.2,260.2 152.0,262.0C144.8,263.8 135.4,264.0 128.0,264.0C120.6,264.0 115.4,263.8 107.7,262.0C100.0,260.2 89.3,257.0 82.0,253.0C74.7,249.0 68.8,244.5 64.0,238.0C59.2,231.5 54.9,222.0 53.0,214.0C51.1,206.0 51.3,197.0 52.5,190.0C53.7,183.0 57.1,177.3 60.0,172.0C62.9,166.7 66.4,162.7 70.0,158.0C73.6,153.3 73.2,146.6 81.5,144.0Z" fill="none" stroke="#c088c0" stroke-width="1.2"/>
</g>
<g filter="url(#tex)">
<path d="M191.4,207.0C191.5,210.1 191.3,213.4 190.8,216.5C190.2,219.6 189.3,222.7 188.2,225.7C187.0,228.6 185.4,231.5 183.7,234.2C181.9,236.9 179.8,239.5 177.5,241.8C175.2,244.2 172.7,246.3 170.1,248.3C167.4,250.2 164.5,251.9 161.6,253.4C158.6,254.9 155.5,256.2 152.3,257.2C149.2,258.3 145.9,259.1 142.6,259.6C139.3,260.1 135.9,260.4 132.5,260.4C129.1,260.5 125.7,260.2 122.4,259.7C119.1,259.1 115.8,258.3 112.7,257.3C109.5,256.2 106.4,254.8 103.6,253.2C100.7,251.6 97.9,249.8 95.4,247.7C93.0,245.7 90.6,243.4 88.6,241.0C86.5,238.6 84.7,236.0 83.1,233.3C81.5,230.6 80.2,227.8 79.1,224.9C78.0,222.1 77.1,219.1 76.5,216.1C75.9,213.1 75.5,210.1 75.4,207.0C75.2,203.9 75.4,200.8 75.8,197.8C76.2,194.7 76.8,191.6 77.8,188.6C78.7,185.6 79.9,182.6 81.5,179.8C83.0,177.0 84.8,174.2 86.9,171.7C89.0,169.2 91.4,166.8 94.0,164.7C96.6,162.6 99.5,160.7 102.6,159.2C105.6,157.6 108.9,156.3 112.1,155.4C115.4,154.5 118.9,153.8 122.3,153.5C125.7,153.2 129.1,153.2 132.5,153.4C135.9,153.7 139.2,154.3 142.4,155.0C145.7,155.8 148.8,156.8 151.8,158.0C154.9,159.2 157.8,160.6 160.6,162.2C163.3,163.7 166.0,165.5 168.5,167.4C171.1,169.3 173.5,171.3 175.7,173.6C177.9,175.8 180.0,178.2 181.8,180.7C183.6,183.3 185.3,186.0 186.7,188.8C188.0,191.6 189.2,194.6 189.9,197.7C190.7,200.7 191.2,203.9 191.4,207.0Z" fill="#c696cc"/>
<path d="M126.8 219.8Q123.5 216.3 122.6 211.6T118.3 203.5M101.7 219.2Q103.5 216.8 101.6 214.6T101.5 210M114 202.9Q115.5 198.8 119.1 196.6T124.3 190.2M102 172.8Q106.1 173.1 108.2 169.5T114.5 166.2M93.4 229.2Q91.8 224.4 88.3 220.8T83.2 212.4M125.5 172.4Q128 171.7 130.3 173T135 173.5M189.2 219.4Q186.1 222.4 185.5 226.8T181.8 234.2M121.8 205.8Q126.4 205.2 129.7 201.9T137.6 198M170.3 222.5Q169.4 225.7 166.5 227.2T162.7 232M81.1 255.4Q81 251.1 77.1 249.1T73 242.9M112.6 176.1Q113.8 173.5 116.7 173.9T120.8 171.7M81.6 203.8Q81.1 201.4 82.8 199.7T83.9 195.5M184.3 229.4Q184.5 231.8 182.3 232.9T180.3 236.3M72.6 189.1Q72.9 184.6 76.8 182.1T80.9 175.1M184.6 152.5Q188.1 154.6 187.6 158.7T190.6 164.9M166.5 235.3Q164.8 238.1 161.6 238.7T156.7 242.2M105 201.4Q106.6 197.9 110.2 196.3T115.4 191.3M86.8 168.9Q89.8 169.3 91 166.6T95.2 164.2M174.5 153.6Q175.7 158.5 180 161.3T185.4 169M129.2 192Q131.3 193 133.4 191.8T137.6 191.6M103.8 201Q106.3 199.9 107 197.4T110.1 193.7M181.3 187.6Q180.3 189.9 181.5 192.2T181.7 196.9M80.1 258Q79.5 254.5 76.5 252.6T73 247.3M188.9 226.2Q188.4 230.4 185.7 233.7T182.6 241.2M98.5 263.7Q95.1 264.3 92.8 261.7T87.2 259.7M96.4 216Q94 214.5 95 211.8T93.6 207.6M102.2 169.5Q106.2 166.5 111.1 166.1T120 162.7M137.6 182Q141.3 183.8 143.7 187.1T149.8 192.2M96.4 177.4Q96.3 174.2 99.4 173.4T102.4 169.4M178.9 163.3Q178.3 167.1 181.5 169.3T184.1 175.4M101.4 186.2Q104.4 185.3 104.3 182.2T107.2 178.3M100.6 259.8Q98.4 256.7 94.6 256.3T88.7 252.8M170.4 219.6Q166.8 222.9 165.9 227.8T161.5 235.9M92.8 234.3Q89.5 231.9 88.8 227.9T84.8 221.6M145 170Q146.7 171.9 149.1 171.2T153.2 172.3M188 203.2Q190.8 206.9 189.7 211.3T191.3 219.3M103.2 174.1Q107.5 174.2 110.4 171T117.6 167.9M155.2 253.1Q152 254.8 148.6 253.8T141.9 254.4M155.6 232.4Q152.4 232.9 150.4 235.4T145.1 238.4M163.3 195.5Q164.1 200.4 166.9 204.5T170.5 213.5M121.2 160.9Q122.9 157.8 126.2 158.8T131.2 156.8M75.4 159.6Q79.4 157.6 82 154T88.6 148.5M131.1 194.8Q133.6 198.8 137.5 201.4T144 207.9M70.7 159.1Q72.6 154.8 77.2 153.7T83.6 148.4M137.9 173Q142 173.3 144.9 176.1T151.9 179.2M184.9 209.6Q184.8 214 181.7 217T178.5 224.3M90.7 219.1Q91.8 214 88.8 209.8T87 200.4M116 245.7Q112.9 241.7 107.8 240.8T99.7 235.8M76.4 176.7Q78.6 175.9 79 173.6T81.7 170.5M113.2 176.9Q117.7 176.7 121.1 173.6T129 170.3M107.8 157.8Q111.1 158.7 113.6 156.3T119.3 154.8M86.6 160.7Q89.3 156.7 94.1 156.6T101.7 152.6M115 236.5Q111.9 235.6 110.9 232.5T106.9 228.5M152.4 257.7Q149.8 260.4 146.1 260.6T139.8 263.5M102.9 155Q104.9 153 107.3 154.4T111.8 153.9M101.4 215.7Q103.6 213.6 102.6 210.6T103.8 205.6M95.6 256.8Q95.2 253.6 92.4 252T89.3 247.1M74.7 189.9Q79 187 80.7 182T86.7 174.2M165.3 203.2Q162.3 207.4 161.9 212.6T158.5 221.9M181.2 149.9Q182.3 152.3 184.8 153.3T188.4 156.7M100.4 160.7Q103.5 161.1 106.1 159.5T111.9 158.3M92.2 237.8Q88.8 235.4 87.7 231.5T83.2 225.1M76.1 177.1Q79.3 175.2 79.7 171.6T83.3 166.1M162.4 149.6Q166.2 153 171.1 153.7T179.8 157.8M167.3 222.7Q164.6 223.9 164.3 226.8T161.3 231M158 163.6Q160.6 167 164.5 168.8T171 174M166.4 211Q165.4 214.3 166.7 217.5T167 224.1M170.5 167.3Q172.6 170.2 175.9 171.3T181.3 175.3M174 154Q177.8 154.9 180.7 157.6T187.5 161.3M88.4 183.5Q87.8 180.8 90.4 180T92.4 176.5M101.6 230.1Q102.1 224.7 98.6 220.6T95.6 211.1M75.2 169.2Q76.7 166.2 80.1 165.4T84.9 161.5M94.3 238.2Q93.5 233.5 90.8 229.5T87.4 220.8M129.8 246.5Q126.2 243.8 121.8 244.8T113.9 243M131.9 154.4Q135.4 153.2 138.7 154.8T145.5 155.1M111.5 184.3Q111.7 181.6 114.5 181.3T117.4 178.4M130.3 224Q128.7 219.8 125.3 216.9T120.3 209.7M84 210Q83.7 205 86.6 200.8T89.2 191.6M162.8 229.2Q162.8 232.2 160.5 233.9T158.2 238.7M159.1 255.8Q154.1 255.3 150.3 258.6T141.5 261.3" fill="none" stroke="#9a6aac" stroke-width="1.0" opacity="0.8" stroke-linecap="round"/>
<path d="M191.1,207.0C191.2,210.1 190.7,213.3 190.0,216.4C189.3,219.4 188.1,222.4 186.8,225.2C185.6,228.1 184.2,231.0 182.6,233.7C181.0,236.4 179.3,239.2 177.2,241.6C175.0,244.0 172.5,246.2 169.8,248.0C167.1,249.8 164.0,251.2 161.0,252.5C158.0,253.9 154.9,255.0 151.8,256.0C148.7,257.1 145.6,258.2 142.4,258.9C139.2,259.6 135.8,260.2 132.5,260.2C129.2,260.2 125.8,259.7 122.6,259.0C119.3,258.3 116.2,257.2 113.1,256.0C110.1,254.9 107.1,253.7 104.2,252.3C101.3,250.8 98.3,249.3 95.7,247.4C93.2,245.5 90.8,243.2 88.9,240.8C86.9,238.3 85.5,235.5 84.1,232.8C82.6,230.1 81.5,227.3 80.4,224.5C79.2,221.7 78.0,218.9 77.2,216.0C76.5,213.1 75.8,210.0 75.7,207.0C75.5,204.0 75.9,200.9 76.5,197.9C77.1,194.9 78.1,192.0 79.1,189.1C80.1,186.1 81.1,183.2 82.5,180.4C83.8,177.5 85.3,174.5 87.3,172.0C89.2,169.4 91.7,167.0 94.3,165.0C97.0,163.0 100.1,161.5 103.1,160.1C106.2,158.7 109.4,157.6 112.6,156.6C115.8,155.7 119.1,154.7 122.4,154.2C125.7,153.8 129.2,153.5 132.5,153.7C135.8,154.0 139.2,154.8 142.3,155.7C145.5,156.6 148.4,158.0 151.4,159.2C154.3,160.4 157.2,161.7 160.0,163.1C162.8,164.5 165.7,165.9 168.3,167.7C170.8,169.5 173.3,171.5 175.4,173.8C177.5,176.1 179.2,178.7 180.8,181.3C182.5,183.8 183.9,186.5 185.3,189.3C186.7,192.0 188.2,194.8 189.2,197.8C190.1,200.7 190.9,203.9 191.1,207.0Z" fill="none" stroke="#f8f0f8" stroke-width="1.3" opacity="0.85"/><path d="M188.2,207.0C188.3,210.0 188.3,213.0 187.9,216.0C187.5,219.0 187.0,222.1 185.9,224.9C184.9,227.8 183.5,230.7 181.8,233.3C180.1,235.9 178.0,238.3 175.7,240.4C173.4,242.6 170.8,244.5 168.2,246.2C165.6,248.0 162.8,249.5 160.0,250.9C157.2,252.3 154.3,253.7 151.3,254.8C148.4,255.9 145.3,256.9 142.2,257.5C139.0,258.1 135.7,258.5 132.5,258.5C129.3,258.6 126.0,258.2 122.8,257.5C119.7,256.9 116.6,255.9 113.7,254.7C110.7,253.6 107.9,252.2 105.1,250.7C102.4,249.2 99.7,247.6 97.3,245.7C94.8,243.9 92.4,241.9 90.3,239.7C88.2,237.4 86.3,235.0 84.8,232.4C83.3,229.8 82.1,227.0 81.2,224.2C80.3,221.4 79.8,218.5 79.3,215.7C78.8,212.8 78.6,209.9 78.5,207.0C78.4,204.1 78.3,201.2 78.6,198.2C78.8,195.3 79.1,192.3 79.9,189.4C80.7,186.4 81.8,183.5 83.3,180.8C84.7,178.1 86.7,175.5 88.8,173.1C90.9,170.8 93.4,168.7 95.9,166.8C98.5,164.9 101.3,163.2 104.2,161.8C107.1,160.3 110.1,159.0 113.1,157.9C116.2,156.9 119.5,156.1 122.7,155.6C125.9,155.2 129.3,155.1 132.5,155.3C135.7,155.6 139.0,156.3 142.0,157.1C145.1,158.0 148.0,159.2 150.9,160.5C153.7,161.7 156.4,163.1 159.0,164.6C161.7,166.1 164.3,167.6 166.8,169.3C169.3,171.0 171.8,172.8 174.0,174.9C176.2,177.0 178.3,179.2 180.1,181.7C181.8,184.1 183.3,186.8 184.5,189.6C185.6,192.3 186.4,195.2 187.1,198.1C187.7,201.0 188.0,204.0 188.2,207.0Z" fill="none" stroke="#f8f0f8" stroke-width="1.3" opacity="0.85"/>
<path d="M183.3,209.0C183.4,211.8 183.2,214.6 182.7,217.3C182.3,220.1 181.5,222.8 180.4,225.4C179.4,228.0 178.0,230.6 176.5,232.9C174.9,235.3 173.1,237.6 171.1,239.6C169.1,241.7 166.9,243.6 164.5,245.3C162.2,247.0 159.7,248.5 157.1,249.8C154.5,251.1 151.7,252.2 148.9,253.1C146.1,254.0 143.2,254.7 140.3,255.2C137.4,255.7 134.4,255.9 131.5,256.0C128.6,256.0 125.6,255.7 122.6,255.3C119.7,254.8 116.8,254.1 114.1,253.1C111.3,252.2 108.6,251.0 106.1,249.6C103.5,248.2 101.1,246.6 98.9,244.8C96.7,243.0 94.7,241.0 92.9,238.9C91.1,236.8 89.4,234.5 88.1,232.1C86.7,229.8 85.5,227.3 84.5,224.8C83.5,222.2 82.8,219.6 82.2,217.0C81.7,214.4 81.4,211.7 81.3,209.0C81.2,206.3 81.3,203.6 81.6,200.9C82.0,198.2 82.5,195.5 83.4,192.9C84.2,190.2 85.3,187.6 86.6,185.1C88.0,182.6 89.6,180.2 91.4,178.0C93.2,175.8 95.4,173.7 97.7,171.8C100.0,170.0 102.5,168.3 105.2,167.0C107.8,165.6 110.7,164.5 113.6,163.7C116.5,162.8 119.5,162.3 122.5,162.0C125.5,161.7 128.5,161.7 131.5,162.0C134.5,162.2 137.4,162.7 140.2,163.3C143.1,164.0 145.8,164.9 148.5,166.0C151.2,167.0 153.7,168.2 156.2,169.6C158.6,171.0 161.0,172.5 163.2,174.2C165.4,175.9 167.5,177.7 169.5,179.6C171.4,181.6 173.2,183.7 174.9,185.9C176.5,188.2 177.9,190.5 179.1,193.0C180.3,195.5 181.3,198.1 182.0,200.8C182.7,203.5 183.1,206.2 183.3,209.0Z" fill="#9a62a2"/>
<path d="M181.5,209.0C181.7,211.7 181.8,214.4 181.5,217.1C181.2,219.8 180.7,222.6 179.7,225.2C178.7,227.7 177.2,230.2 175.6,232.5C173.9,234.7 171.9,236.7 169.9,238.7C167.8,240.6 165.6,242.3 163.4,244.0C161.1,245.7 158.9,247.4 156.4,248.8C154.0,250.2 151.4,251.5 148.7,252.4C145.9,253.4 143.0,254.0 140.2,254.4C137.3,254.7 134.4,254.7 131.5,254.6C128.6,254.4 125.8,254.1 123.0,253.7C120.1,253.2 117.3,252.7 114.5,252.0C111.8,251.2 109.0,250.2 106.5,248.9C104.0,247.6 101.6,246.0 99.5,244.2C97.4,242.3 95.6,240.2 94.0,238.0C92.3,235.9 90.9,233.6 89.6,231.3C88.2,229.0 86.9,226.7 85.9,224.3C84.8,221.9 83.7,219.4 83.1,216.9C82.5,214.3 82.1,211.6 82.1,209.0C82.0,206.4 82.4,203.7 82.9,201.1C83.4,198.5 84.2,196.0 85.0,193.4C85.9,190.9 86.8,188.3 88.0,185.8C89.2,183.4 90.5,180.8 92.2,178.6C93.9,176.4 95.9,174.2 98.2,172.4C100.5,170.7 103.2,169.2 105.8,168.0C108.5,166.8 111.4,166.0 114.2,165.2C117.0,164.4 119.9,163.9 122.8,163.5C125.7,163.1 128.6,162.8 131.5,162.9C134.4,163.0 137.3,163.4 140.1,164.0C142.9,164.7 145.6,165.8 148.1,166.9C150.7,168.1 153.0,169.5 155.3,170.9C157.7,172.3 159.9,173.8 162.1,175.3C164.4,176.9 166.6,178.5 168.6,180.3C170.6,182.1 172.6,184.1 174.2,186.3C175.8,188.5 177.1,190.9 178.1,193.4C179.1,195.8 179.8,198.5 180.4,201.1C181.0,203.7 181.3,206.3 181.5,209.0Z" fill="none" stroke="#fbf4fb" stroke-width="1.4" opacity="0.85"/>
<path d="M182.3,209.0C182.4,211.7 182.6,214.5 182.3,217.2C182.0,220.0 181.4,222.8 180.4,225.4C179.4,228.0 177.8,230.5 176.2,232.8C174.5,235.0 172.4,237.0 170.3,239.0C168.3,241.0 166.2,242.9 164.0,244.7C161.8,246.5 159.5,248.3 157.0,249.7C154.5,251.1 151.7,252.2 148.9,253.1C146.1,253.9 143.1,254.2 140.2,254.6C137.3,254.9 134.4,255.0 131.5,255.0C128.6,255.1 125.6,255.1 122.7,254.8C119.8,254.5 116.8,254.1 114.1,253.1C111.3,252.2 108.7,250.8 106.2,249.3C103.8,247.8 101.7,245.9 99.5,244.1C97.4,242.3 95.4,240.4 93.5,238.4C91.6,236.4 89.7,234.3 88.2,232.0C86.7,229.8 85.5,227.3 84.6,224.7C83.7,222.2 83.3,219.5 82.9,216.9C82.5,214.3 82.4,211.7 82.3,209.0C82.1,206.3 81.9,203.7 82.1,201.0C82.3,198.3 82.6,195.5 83.4,192.9C84.2,190.2 85.5,187.7 86.9,185.3C88.4,182.9 90.3,180.7 92.2,178.6C94.0,176.4 96.0,174.3 98.2,172.4C100.4,170.5 102.7,168.6 105.3,167.1C107.8,165.7 110.7,164.5 113.6,163.8C116.5,163.0 119.7,162.8 122.6,162.7C125.6,162.5 128.6,162.7 131.5,162.9C134.4,163.1 137.3,163.3 140.2,163.8C143.0,164.3 145.9,164.9 148.5,165.9C151.1,167.0 153.7,168.4 156.0,169.9C158.4,171.4 160.4,173.2 162.6,174.9C164.7,176.6 166.8,178.3 168.9,180.1C170.9,182.0 173.0,183.8 174.7,186.0C176.4,188.2 177.9,190.6 179.0,193.1C180.1,195.5 180.8,198.2 181.3,200.9C181.8,203.6 182.1,206.3 182.3,209.0Z" fill="none" stroke="#602e68" stroke-width="1" opacity="0.8"/><path d="M180.5,209.0C180.5,211.6 180.5,214.3 180.2,216.9C179.9,219.5 179.4,222.3 178.5,224.8C177.7,227.3 176.4,229.8 174.8,232.1C173.3,234.3 171.3,236.3 169.3,238.2C167.3,240.1 165.0,241.7 162.7,243.3C160.5,244.9 158.2,246.4 155.8,247.7C153.3,249.1 150.9,250.4 148.2,251.4C145.6,252.3 142.8,253.1 140.0,253.6C137.2,254.0 134.3,254.0 131.5,253.9C128.7,253.8 125.9,253.3 123.1,252.8C120.4,252.3 117.6,251.7 115.0,250.8C112.3,250.0 109.6,249.1 107.1,247.9C104.6,246.7 102.2,245.2 100.1,243.5C98.0,241.8 96.1,239.7 94.5,237.6C92.9,235.5 91.6,233.2 90.3,230.9C89.1,228.6 88.0,226.3 87.0,223.9C86.0,221.5 85.0,219.1 84.4,216.7C83.7,214.2 83.2,211.6 83.0,209.0C82.9,206.4 83.2,203.8 83.6,201.2C84.1,198.7 84.9,196.2 85.8,193.7C86.7,191.2 87.8,188.8 89.0,186.4C90.3,184.0 91.6,181.6 93.2,179.4C94.8,177.2 96.7,175.0 98.9,173.2C101.1,171.4 103.6,169.8 106.2,168.6C108.8,167.4 111.7,166.6 114.5,165.9C117.3,165.3 120.2,164.9 123.0,164.6C125.8,164.3 128.7,164.1 131.5,164.1C134.3,164.2 137.2,164.4 139.9,165.0C142.6,165.6 145.4,166.5 147.9,167.6C150.4,168.7 152.7,170.1 155.0,171.5C157.2,173.0 159.3,174.5 161.5,176.1C163.6,177.7 165.7,179.3 167.6,181.0C169.6,182.8 171.6,184.7 173.2,186.8C174.9,188.9 176.3,191.2 177.4,193.6C178.4,196.0 179.1,198.6 179.6,201.2C180.1,203.7 180.4,206.4 180.5,209.0Z" fill="none" stroke="#602e68" stroke-width="1" opacity="0.8"/><path d="M179.6,209.0C179.9,211.6 179.8,214.2 179.5,216.8C179.1,219.4 178.4,222.0 177.5,224.4C176.5,226.9 175.2,229.3 173.7,231.4C172.2,233.6 170.4,235.7 168.4,237.6C166.5,239.4 164.3,241.1 162.1,242.6C159.9,244.1 157.5,245.4 155.1,246.6C152.6,247.8 150.1,248.8 147.6,249.6C145.0,250.5 142.3,251.2 139.7,251.7C137.0,252.2 134.2,252.6 131.5,252.7C128.8,252.8 125.9,252.7 123.2,252.3C120.5,251.9 117.7,251.3 115.1,250.5C112.5,249.6 110.0,248.4 107.6,247.1C105.3,245.7 103.1,244.1 101.1,242.4C99.1,240.7 97.3,238.7 95.7,236.7C94.1,234.7 92.7,232.5 91.4,230.3C90.2,228.1 89.1,225.8 88.2,223.5C87.3,221.2 86.6,218.8 86.0,216.4C85.4,214.0 85.0,211.5 84.8,209.0C84.6,206.5 84.5,203.9 84.8,201.4C85.1,198.9 85.5,196.3 86.3,193.8C87.1,191.4 88.1,188.9 89.4,186.6C90.7,184.3 92.3,182.1 94.1,180.1C95.9,178.1 97.9,176.2 100.1,174.6C102.3,172.9 104.7,171.5 107.2,170.3C109.7,169.0 112.3,168.0 115.0,167.2C117.7,166.5 120.4,165.9 123.2,165.6C125.9,165.2 128.8,165.1 131.5,165.2C134.2,165.4 137.0,165.7 139.7,166.3C142.3,166.8 145.0,167.6 147.5,168.6C150.0,169.5 152.4,170.7 154.7,172.0C156.9,173.4 159.1,174.9 161.1,176.5C163.1,178.1 165.0,179.9 166.7,181.8C168.4,183.7 170.0,185.7 171.5,187.7C172.9,189.8 174.2,192.0 175.4,194.3C176.5,196.6 177.5,199.0 178.2,201.4C178.9,203.9 179.4,206.4 179.6,209.0Z" fill="none" stroke="#602e68" stroke-width="1" opacity="0.8"/>
<path d="M177.9,209.5C178.0,212.0 177.8,214.5 177.4,217.0C177.0,219.4 176.3,221.9 175.3,224.2C174.4,226.6 173.2,228.9 171.7,231.0C170.3,233.1 168.7,235.1 166.9,237.0C165.1,238.8 163.0,240.5 160.9,242.1C158.8,243.6 156.5,245.0 154.2,246.1C151.8,247.3 149.3,248.3 146.8,249.1C144.3,249.9 141.6,250.6 139.0,251.0C136.4,251.4 133.7,251.6 131.0,251.7C128.3,251.7 125.6,251.5 123.0,251.0C120.3,250.6 117.7,250.0 115.2,249.1C112.7,248.3 110.2,247.2 108.0,246.0C105.7,244.7 103.5,243.2 101.5,241.6C99.5,240.0 97.6,238.2 96.0,236.3C94.4,234.4 92.9,232.4 91.6,230.3C90.4,228.1 89.3,225.9 88.4,223.7C87.6,221.4 86.9,219.0 86.4,216.7C85.9,214.3 85.6,211.9 85.5,209.5C85.4,207.1 85.5,204.6 85.8,202.2C86.1,199.8 86.6,197.4 87.4,195.0C88.1,192.6 89.1,190.3 90.3,188.1C91.6,185.8 93.0,183.6 94.7,181.7C96.3,179.7 98.3,177.8 100.3,176.1C102.4,174.5 104.7,173.0 107.2,171.8C109.6,170.6 112.2,169.5 114.8,168.8C117.4,168.1 120.2,167.6 122.9,167.3C125.6,167.1 128.3,167.1 131.0,167.3C133.7,167.5 136.3,167.9 138.9,168.5C141.5,169.1 144.0,169.9 146.4,170.8C148.8,171.8 151.1,172.9 153.4,174.1C155.6,175.4 157.7,176.7 159.7,178.2C161.7,179.7 163.6,181.4 165.4,183.1C167.2,184.9 168.8,186.8 170.3,188.8C171.7,190.8 173.1,192.9 174.1,195.2C175.2,197.4 176.1,199.7 176.8,202.1C177.4,204.5 177.8,207.0 177.9,209.5Z" fill="#5e2c66"/>
<path d="M174.9,209.2C175.0,211.5 174.9,213.9 174.5,216.2C174.1,218.5 173.4,220.8 172.6,223.0C171.7,225.1 170.5,227.3 169.2,229.3C167.9,231.2 166.4,233.1 164.7,234.9C163.0,236.6 161.1,238.2 159.1,239.6C157.2,241.0 155.0,242.3 152.9,243.4C150.7,244.5 148.3,245.4 146.0,246.2C143.6,247.0 141.2,247.5 138.8,247.9C136.3,248.3 133.8,248.5 131.3,248.6C128.8,248.6 126.3,248.4 123.8,248.0C121.4,247.6 118.9,247.0 116.6,246.2C114.3,245.4 112.0,244.4 109.9,243.2C107.7,242.1 105.7,240.7 103.8,239.2C102.0,237.7 100.3,236.0 98.7,234.2C97.2,232.5 95.8,230.6 94.7,228.6C93.5,226.6 92.5,224.5 91.7,222.4C90.9,220.3 90.2,218.1 89.8,215.9C89.3,213.7 89.0,211.5 88.9,209.2C88.9,206.9 88.9,204.7 89.2,202.4C89.5,200.1 90.0,197.9 90.7,195.7C91.4,193.5 92.3,191.3 93.5,189.2C94.6,187.1 95.9,185.1 97.5,183.2C99.0,181.4 100.8,179.6 102.8,178.0C104.7,176.5 106.9,175.1 109.1,174.0C111.3,172.8 113.8,171.9 116.2,171.2C118.6,170.5 121.2,170.0 123.7,169.8C126.2,169.6 128.8,169.6 131.3,169.8C133.8,169.9 136.3,170.4 138.7,170.9C141.1,171.5 143.4,172.2 145.6,173.1C147.9,174.0 150.0,175.0 152.1,176.2C154.2,177.3 156.2,178.6 158.0,180.0C159.9,181.4 161.7,182.9 163.3,184.6C165.0,186.2 166.5,188.0 167.9,189.9C169.2,191.7 170.4,193.7 171.5,195.8C172.5,197.9 173.3,200.1 173.9,202.3C174.5,204.6 174.8,206.9 174.9,209.2Z" fill="#461a50"/>
<path d="M171.8,209.0C171.9,211.1 171.8,213.3 171.4,215.4C171.0,217.5 170.4,219.7 169.6,221.7C168.8,223.7 167.7,225.7 166.5,227.5C165.3,229.3 163.9,231.1 162.4,232.6C160.8,234.2 159.1,235.7 157.3,237.0C155.5,238.3 153.5,239.5 151.5,240.5C149.5,241.5 147.4,242.4 145.2,243.1C143.0,243.8 140.8,244.3 138.5,244.7C136.3,245.1 134.0,245.3 131.7,245.3C129.4,245.3 127.1,245.1 124.8,244.7C122.6,244.4 120.3,243.8 118.2,243.1C116.1,242.4 114.0,241.4 112.0,240.4C110.0,239.3 108.2,238.0 106.5,236.6C104.8,235.3 103.2,233.7 101.8,232.1C100.4,230.4 99.1,228.7 98.0,226.9C97.0,225.0 96.1,223.1 95.3,221.2C94.6,219.2 94.0,217.2 93.5,215.2C93.1,213.2 92.9,211.1 92.8,209.0C92.7,206.9 92.8,204.8 93.1,202.7C93.3,200.7 93.8,198.6 94.4,196.5C95.1,194.5 95.9,192.5 96.9,190.6C98.0,188.6 99.2,186.8 100.6,185.1C102.1,183.3 103.7,181.7 105.5,180.3C107.3,178.9 109.3,177.6 111.3,176.5C113.4,175.5 115.6,174.6 117.8,174.0C120.1,173.4 122.4,172.9 124.7,172.7C127.0,172.5 129.4,172.5 131.7,172.7C134.0,172.8 136.3,173.2 138.5,173.7C140.7,174.2 142.8,174.9 144.9,175.8C146.9,176.6 148.9,177.5 150.8,178.6C152.7,179.6 154.5,180.8 156.2,182.1C158.0,183.4 159.6,184.8 161.1,186.3C162.6,187.8 164.0,189.5 165.3,191.2C166.5,192.9 167.7,194.7 168.6,196.7C169.5,198.6 170.3,200.6 170.8,202.7C171.4,204.7 171.7,206.9 171.8,209.0Z" fill="#36103e"/>
<path d="M168.5,208.0C168.6,209.9 168.5,211.9 168.2,213.8C167.8,215.8 167.3,217.7 166.6,219.5C165.8,221.4 164.9,223.1 163.8,224.8C162.7,226.5 161.4,228.0 160.1,229.5C158.7,230.9 157.1,232.3 155.5,233.5C153.9,234.7 152.1,235.7 150.3,236.6C148.5,237.6 146.6,238.4 144.6,239.0C142.7,239.6 140.7,240.1 138.7,240.4C136.6,240.8 134.6,241.0 132.5,241.0C130.4,241.0 128.4,240.8 126.3,240.5C124.3,240.2 122.3,239.7 120.4,239.0C118.4,238.3 116.5,237.5 114.8,236.5C113.0,235.5 111.4,234.4 109.8,233.1C108.3,231.9 106.9,230.5 105.6,229.0C104.4,227.5 103.2,225.9 102.3,224.2C101.3,222.6 100.5,220.8 99.8,219.1C99.1,217.3 98.6,215.5 98.2,213.6C97.8,211.8 97.6,209.9 97.5,208.0C97.5,206.1 97.5,204.2 97.8,202.3C98.0,200.4 98.4,198.5 99.0,196.7C99.6,194.8 100.3,193.0 101.3,191.2C102.2,189.5 103.3,187.8 104.6,186.2C105.9,184.7 107.4,183.2 108.9,181.9C110.5,180.6 112.3,179.5 114.2,178.5C116.0,177.5 118.0,176.8 120.0,176.2C122.0,175.6 124.2,175.2 126.2,175.0C128.3,174.8 130.4,174.8 132.5,175.0C134.6,175.1 136.6,175.5 138.6,175.9C140.6,176.4 142.5,177.0 144.3,177.8C146.2,178.5 148.0,179.4 149.7,180.3C151.4,181.3 153.0,182.4 154.6,183.6C156.1,184.7 157.6,186.0 158.9,187.4C160.3,188.8 161.6,190.2 162.7,191.8C163.8,193.4 164.8,195.0 165.6,196.8C166.5,198.5 167.2,200.4 167.7,202.2C168.1,204.1 168.4,206.1 168.5,208.0Z" fill="#2a0a30"/>
<path d="M176.4,209.5C176.7,211.9 176.8,214.4 176.5,216.8C176.2,219.3 175.7,221.7 174.7,224.0C173.8,226.3 172.5,228.6 171.0,230.6C169.5,232.6 167.6,234.4 165.8,236.2C163.9,237.9 161.9,239.4 159.8,240.9C157.8,242.3 155.6,243.7 153.4,245.0C151.2,246.2 148.9,247.4 146.5,248.3C144.1,249.3 141.5,250.0 138.9,250.4C136.3,250.9 133.6,251.0 131.0,250.9C128.4,250.8 125.8,250.3 123.2,249.8C120.7,249.3 118.2,248.5 115.8,247.7C113.4,246.9 111.0,245.9 108.7,244.8C106.4,243.7 104.1,242.5 102.1,241.0C100.0,239.5 98.1,237.8 96.5,236.0C94.9,234.1 93.5,232.0 92.4,229.9C91.2,227.8 90.4,225.5 89.7,223.2C89.0,221.0 88.5,218.7 88.0,216.4C87.6,214.1 87.2,211.8 86.9,209.5C86.7,207.2 86.5,204.7 86.7,202.4C86.9,200.0 87.2,197.5 88.0,195.2C88.7,192.9 89.8,190.6 91.1,188.5C92.4,186.3 94.0,184.3 95.8,182.5C97.5,180.6 99.4,178.9 101.5,177.3C103.5,175.8 105.6,174.2 107.9,173.0C110.2,171.7 112.6,170.5 115.1,169.6C117.6,168.8 120.3,168.1 123.0,167.9C125.6,167.6 128.4,167.7 131.0,168.0C133.6,168.3 136.2,169.0 138.7,169.7C141.1,170.4 143.5,171.4 145.8,172.3C148.2,173.2 150.4,174.2 152.6,175.3C154.9,176.4 157.1,177.5 159.1,178.9C161.2,180.2 163.2,181.8 164.9,183.5C166.7,185.2 168.2,187.1 169.6,189.2C170.9,191.2 171.9,193.4 172.8,195.6C173.8,197.8 174.5,200.1 175.1,202.4C175.7,204.7 176.2,207.1 176.4,209.5Z" fill="none" stroke="#8e5c96" stroke-width="0.8" opacity="0.6"/><path d="M174.9,209.5C174.9,211.8 174.7,214.2 174.4,216.5C174.1,218.8 173.7,221.2 172.9,223.4C172.2,225.7 171.2,228.0 169.9,230.0C168.6,232.1 166.9,234.0 165.1,235.7C163.3,237.3 161.2,238.7 159.1,240.1C157.0,241.4 154.8,242.6 152.6,243.7C150.4,244.9 148.2,246.0 145.9,246.9C143.6,247.8 141.1,248.7 138.7,249.1C136.2,249.6 133.5,249.8 131.0,249.7C128.5,249.6 125.9,249.1 123.5,248.6C121.0,248.0 118.6,247.3 116.3,246.5C113.9,245.7 111.5,244.9 109.3,243.8C107.1,242.8 104.8,241.6 102.8,240.2C100.9,238.7 99.1,236.9 97.6,235.1C96.1,233.3 95.0,231.1 93.9,229.1C92.9,227.0 92.1,224.8 91.3,222.7C90.5,220.6 89.7,218.5 89.1,216.3C88.5,214.1 87.8,211.8 87.6,209.5C87.4,207.2 87.5,204.8 87.8,202.5C88.2,200.3 89.0,198.0 89.8,195.8C90.7,193.6 91.8,191.5 93.0,189.5C94.2,187.4 95.4,185.3 96.9,183.4C98.4,181.4 100.0,179.4 101.8,177.8C103.7,176.1 105.9,174.6 108.2,173.4C110.5,172.3 113.1,171.6 115.7,171.0C118.2,170.4 120.8,170.2 123.4,170.1C125.9,169.9 128.5,169.8 131.0,169.9C133.5,170.0 136.1,170.1 138.5,170.6C141.0,171.0 143.5,171.6 145.7,172.5C148.0,173.4 150.2,174.7 152.2,176.0C154.2,177.3 156.0,178.8 157.9,180.3C159.7,181.7 161.4,183.2 163.2,184.8C164.9,186.4 166.7,188.0 168.2,189.9C169.7,191.7 171.2,193.7 172.3,195.8C173.3,197.9 174.0,200.2 174.5,202.5C174.9,204.8 175.0,207.2 174.9,209.5Z" fill="none" stroke="#8e5c96" stroke-width="0.8" opacity="0.6"/><path d="M173.4,209.5C173.5,211.7 173.5,214.0 173.2,216.3C172.9,218.5 172.4,220.8 171.6,223.0C170.8,225.2 169.8,227.3 168.6,229.3C167.3,231.3 165.8,233.2 164.2,234.9C162.5,236.7 160.6,238.2 158.6,239.6C156.7,241.0 154.5,242.1 152.3,243.1C150.1,244.1 147.7,244.9 145.4,245.6C143.0,246.2 140.6,246.7 138.3,247.1C135.9,247.4 133.4,247.6 131.0,247.6C128.6,247.6 126.1,247.5 123.7,247.2C121.3,246.9 118.9,246.5 116.5,245.8C114.2,245.1 111.9,244.2 109.7,243.1C107.6,242.0 105.5,240.7 103.7,239.2C101.8,237.8 100.1,236.1 98.7,234.3C97.2,232.5 95.9,230.5 94.9,228.6C93.8,226.6 92.9,224.5 92.2,222.4C91.5,220.3 91.0,218.2 90.6,216.0C90.2,213.9 90.0,211.7 89.9,209.5C89.7,207.3 89.7,205.1 90.0,202.9C90.2,200.7 90.5,198.4 91.1,196.2C91.7,194.0 92.4,191.8 93.5,189.7C94.5,187.6 95.9,185.6 97.4,183.7C98.9,181.9 100.7,180.1 102.7,178.7C104.6,177.2 106.8,175.9 109.1,174.9C111.4,173.8 113.8,173.0 116.2,172.4C118.6,171.8 121.2,171.5 123.6,171.3C126.1,171.1 128.6,171.1 131.0,171.3C133.4,171.5 135.8,171.8 138.2,172.3C140.5,172.7 142.9,173.3 145.1,174.1C147.3,174.9 149.5,175.8 151.6,176.9C153.7,177.9 155.7,179.2 157.6,180.6C159.5,181.9 161.2,183.5 162.8,185.1C164.4,186.8 165.8,188.6 167.1,190.5C168.3,192.4 169.4,194.4 170.3,196.4C171.2,198.5 171.9,200.7 172.4,202.8C172.9,205.0 173.3,207.3 173.4,209.5Z" fill="none" stroke="#8e5c96" stroke-width="0.8" opacity="0.6"/><path d="M172.9,209.5C172.9,211.7 172.7,214.0 172.2,216.1C171.7,218.3 171.0,220.4 170.0,222.5C169.1,224.5 168.0,226.5 166.7,228.3C165.4,230.2 163.9,231.9 162.4,233.5C160.8,235.2 159.1,236.7 157.3,238.1C155.5,239.5 153.5,240.8 151.5,242.0C149.5,243.1 147.3,244.1 145.1,244.9C142.9,245.7 140.5,246.3 138.2,246.7C135.8,247.0 133.4,247.2 131.0,247.2C128.6,247.1 126.2,246.8 123.9,246.4C121.6,245.9 119.3,245.2 117.1,244.4C114.9,243.6 112.8,242.5 110.8,241.4C108.8,240.3 106.9,239.0 105.2,237.6C103.4,236.2 101.8,234.7 100.2,233.1C98.7,231.5 97.3,229.7 96.1,227.9C94.9,226.1 93.8,224.1 93.0,222.1C92.1,220.1 91.5,218.0 91.0,215.9C90.6,213.8 90.4,211.6 90.3,209.5C90.3,207.4 90.5,205.2 90.9,203.0C91.3,200.9 91.9,198.8 92.6,196.7C93.4,194.7 94.3,192.7 95.4,190.7C96.5,188.8 97.8,186.9 99.2,185.1C100.7,183.4 102.3,181.7 104.1,180.2C105.8,178.7 107.8,177.2 109.9,176.1C112.0,174.9 114.2,173.9 116.5,173.2C118.8,172.5 121.3,172.0 123.7,171.7C126.1,171.5 128.6,171.5 131.0,171.7C133.4,172.0 135.8,172.5 138.0,173.1C140.3,173.7 142.5,174.6 144.6,175.5C146.6,176.4 148.6,177.4 150.6,178.6C152.5,179.7 154.3,180.9 156.1,182.2C157.9,183.5 159.6,184.8 161.2,186.3C162.8,187.8 164.4,189.4 165.8,191.1C167.2,192.9 168.5,194.7 169.5,196.7C170.5,198.7 171.4,200.8 172.0,202.9C172.5,205.0 172.9,207.3 172.9,209.5Z" fill="none" stroke="#8e5c96" stroke-width="0.8" opacity="0.6"/><path d="M170.7,209.5C170.9,211.6 170.9,213.8 170.6,215.9C170.4,218.0 169.9,220.2 169.1,222.2C168.4,224.2 167.4,226.2 166.2,228.1C165.0,229.9 163.6,231.7 162.0,233.3C160.4,234.8 158.6,236.2 156.7,237.5C154.8,238.7 152.8,239.8 150.7,240.7C148.7,241.7 146.5,242.4 144.4,243.1C142.2,243.7 140.0,244.2 137.8,244.6C135.5,244.9 133.3,245.2 131.0,245.2C128.7,245.3 126.4,245.2 124.2,245.0C121.9,244.7 119.6,244.3 117.4,243.6C115.2,243.0 113.1,242.1 111.1,241.0C109.1,240.0 107.2,238.7 105.5,237.3C103.8,235.9 102.3,234.2 100.9,232.6C99.6,230.9 98.4,229.0 97.4,227.2C96.4,225.4 95.6,223.4 95.0,221.5C94.3,219.5 93.7,217.6 93.3,215.6C92.9,213.6 92.6,211.5 92.4,209.5C92.3,207.5 92.2,205.4 92.4,203.3C92.6,201.2 92.9,199.1 93.5,197.0C94.0,195.0 94.8,192.9 95.8,191.0C96.9,189.0 98.1,187.1 99.6,185.4C101.1,183.8 102.8,182.2 104.7,180.8C106.5,179.5 108.6,178.3 110.7,177.3C112.8,176.4 115.0,175.6 117.3,175.0C119.5,174.4 121.8,174.1 124.1,173.9C126.4,173.6 128.7,173.6 131.0,173.7C133.3,173.8 135.5,174.1 137.8,174.5C140.0,174.9 142.2,175.5 144.3,176.2C146.4,177.0 148.4,177.9 150.3,178.9C152.3,179.9 154.1,181.2 155.8,182.5C157.5,183.8 159.1,185.3 160.6,186.8C162.0,188.4 163.3,190.1 164.5,191.8C165.6,193.6 166.7,195.4 167.5,197.4C168.4,199.3 169.1,201.3 169.7,203.3C170.2,205.3 170.6,207.4 170.7,209.5Z" fill="none" stroke="#8e5c96" stroke-width="0.8" opacity="0.6"/>
<path d="M162.2,207.7C162.4,208.4 162.4,209.1 162.4,209.8C162.3,210.5 162.1,211.2 162.0,211.9C161.9,212.5 161.9,213.3 161.7,213.9C161.6,214.6 161.2,215.2 161.0,215.9C160.7,216.5 160.3,217.1 160.1,217.8C160.0,218.5 160.1,219.3 159.9,219.9C159.7,220.6 159.3,221.2 158.9,221.8C158.4,222.3 157.6,222.7 157.1,223.2C156.6,223.7 156.3,224.2 155.9,224.8C155.5,225.3 155.1,225.9 154.7,226.4C154.2,226.9 153.6,227.3 153.2,227.8C152.7,228.3 152.4,228.9 151.9,229.4C151.4,229.9 150.9,230.3 150.3,230.6C149.7,230.9 148.8,230.9 148.2,231.2C147.6,231.4 147.1,231.9 146.6,232.3C146.1,232.8 145.7,233.4 145.1,233.7C144.5,234.1 143.8,234.2 143.2,234.4C142.6,234.6 141.9,234.9 141.3,235.1C140.7,235.3 140.0,235.5 139.3,235.6C138.7,235.6 138.0,235.4 137.3,235.5C136.6,235.5 136.0,235.8 135.4,236.0C134.7,236.2 134.1,236.6 133.4,236.7C132.8,236.8 132.1,236.5 131.4,236.3C130.7,236.2 130.1,235.9 129.4,235.8C128.8,235.7 128.1,235.8 127.5,235.7C126.8,235.6 126.2,235.3 125.6,235.1C124.9,235.0 124.3,234.9 123.6,234.8C122.9,234.8 122.1,234.9 121.5,234.7C120.8,234.5 120.3,234.0 119.8,233.6C119.2,233.2 118.8,232.7 118.1,232.4C117.5,232.1 116.8,232.1 116.1,231.9C115.5,231.6 114.8,231.3 114.2,231.0C113.6,230.6 113.1,230.1 112.5,229.7C112.0,229.4 111.3,229.1 110.8,228.6C110.3,228.1 109.9,227.5 109.5,226.9C109.2,226.3 109.0,225.6 108.5,225.0C108.1,224.5 107.3,224.2 106.9,223.7C106.4,223.2 105.9,222.6 105.6,222.0C105.3,221.3 105.3,220.5 105.1,219.8C105.0,219.2 104.7,218.5 104.5,217.8C104.4,217.2 104.3,216.5 104.2,215.8C104.2,215.1 104.3,214.4 104.2,213.7C104.1,213.0 103.7,212.4 103.6,211.8C103.4,211.1 103.2,210.4 103.4,209.7C103.5,209.1 104.0,208.4 104.2,207.7C104.4,207.0 104.5,206.4 104.5,205.8C104.6,205.1 104.5,204.4 104.5,203.8C104.6,203.1 104.9,202.5 105.0,201.9C105.1,201.2 105.1,200.6 105.2,199.9C105.3,199.2 105.4,198.6 105.6,198.0C105.9,197.4 106.6,196.9 106.9,196.3C107.2,195.8 107.5,195.2 107.7,194.5C107.8,193.9 107.7,193.1 108.0,192.4C108.2,191.8 108.6,191.2 109.0,190.7C109.4,190.1 109.8,189.6 110.2,189.1C110.6,188.6 111.0,187.9 111.5,187.5C111.9,187.0 112.6,186.7 113.1,186.3C113.6,185.9 114.1,185.4 114.6,184.9C115.0,184.3 115.3,183.5 115.8,183.1C116.3,182.6 117.0,182.3 117.6,182.1C118.3,181.9 119.0,181.8 119.7,181.6C120.3,181.3 120.8,180.9 121.5,180.6C122.1,180.3 122.7,180.1 123.4,179.9C124.0,179.7 124.7,179.6 125.3,179.3C126.0,179.0 126.6,178.5 127.2,178.4C127.9,178.2 128.6,178.2 129.3,178.3C130.0,178.3 130.7,178.7 131.4,178.7C132.1,178.7 132.7,178.5 133.4,178.4C134.1,178.3 134.8,178.1 135.5,178.1C136.2,178.2 136.9,178.4 137.5,178.5C138.2,178.7 138.9,178.7 139.6,178.9C140.3,179.0 140.9,179.3 141.5,179.7C142.1,180.0 142.6,180.6 143.2,180.9C143.8,181.2 144.5,181.3 145.2,181.5C145.8,181.7 146.6,181.8 147.1,182.2C147.7,182.5 148.1,183.3 148.5,183.8C149.0,184.3 149.5,184.8 149.9,185.3C150.4,185.7 150.9,186.1 151.4,186.6C151.8,187.2 152.0,187.8 152.5,188.3C152.9,188.8 153.5,189.2 154.0,189.6C154.5,190.0 155.1,190.4 155.5,191.0C155.8,191.5 155.8,192.3 156.0,192.9C156.3,193.6 156.4,194.2 156.8,194.7C157.1,195.3 157.7,195.7 158.1,196.2C158.5,196.8 158.7,197.4 159.0,198.0C159.4,198.6 159.7,199.2 160.0,199.8C160.3,200.4 160.7,201.0 160.9,201.6C161.1,202.3 160.9,203.0 161.0,203.7C161.0,204.4 161.0,205.0 161.2,205.7C161.4,206.4 162.0,207.0 162.2,207.7Z" fill="#f8eef3"/>
<path d="M113.2 205.7h0M148.2 205.2h0M106.4 204h0M137.6 208.1h0M121.4 228.7h0M137 231.1h0M153.9 198.6h0M138 233h0M149 186.6h0M123.6 219.4h0M151.7 201.5h0M156 202.6h0M136.5 194.8h0M154.7 198.4h0M115.5 192.4h0M134.9 213.8h0M156.8 212h0M128.4 181.5h0M143.2 195.5h0M117.5 220.1h0M140 196.1h0M121.5 206.7h0M154.7 221.3h0M151.1 213.6h0M138.4 220.1h0M119.2 206.9h0M121.5 199.2h0M143.1 204.9h0M148.4 193.5h0M118.4 212.7h0M119.2 189h0M126.6 201h0M130.2 206.1h0M111.2 217.2h0M149.6 196.2h0M116.5 218.4h0M124.8 185.1h0M150.5 190.7h0M116.5 226.9h0M141.5 224.3h0M117.5 195.7h0M148.1 214.5h0M148.6 202.9h0M151.3 216.5h0M137.3 191.7h0M139.4 194.3h0M111.6 204.1h0M116.3 216.2h0M153.2 198h0M128.4 181.9h0M121.5 199.9h0M112.1 215.5h0M120 197.6h0M123.3 211.5h0M153.8 204.7h0M114.8 216.9h0M138.8 208.3h0M135.2 206.7h0M150.3 223.7h0M124.3 214.4h0M136.7 195.3h0M135.4 197.1h0M129.8 221h0M119.8 190h0M126 210.1h0M112.7 225.1h0M113.7 206.9h0M120.1 202h0M153.8 198.9h0M150.1 204.7h0M126 230.4h0M118.5 203.8h0M125.7 198.4h0M122.6 186.8h0M143 221.9h0M129.9 223.1h0M154.1 221h0M124.4 203.3h0M148.6 220.7h0M133.1 185.4h0M123 198.2h0M148 225.8h0M153.2 216.6h0M126.1 210.4h0M151.2 201.5h0M124.8 187.8h0M130.4 204.6h0M106.2 211.2h0M136.1 230.2h0M122.1 217h0M142.7 192.9h0M141.2 195.8h0M153.7 199h0M119.7 198.8h0M126.8 201h0M119.6 187h0M137.4 221h0M125.3 217.7h0M120.2 186.9h0M122.4 212.2h0M132.6 208.2h0M117.4 199.7h0M128.9 213.5h0M129.1 207.7h0M146 201.4h0M132.8 221.9h0M142.4 221.9h0M156.2 214.5h0M150.6 227.5h0M136.1 232.8h0M133.1 212.9h0M121 190.5h0M117.7 195.6h0M143.2 230.9h0M124.5 186.6h0M150.9 211h0M107.2 210.1h0M149.1 189.2h0M134.3 198.4h0M116.1 187.7h0M117 226h0M116.4 204.5h0M150.8 196.9h0M146.8 217.7h0M138.3 195.2h0M144.8 229.4h0M128.6 193.5h0M119.5 220.6h0M141.1 200.7h0M117 223.3h0M138.9 208.9h0M132.1 220.9h0M145.3 228.8h0M132.2 220.4h0M142 222.3h0M137.6 197.3h0M130.5 216.8h0M146.7 188.3h0M125 192.9h0M141.4 220.9h0M143.9 229.7h0M131.5 197.4h0M124.3 189.1h0M135.6 217.4h0M122.6 206.4h0M155.2 219.6h0M106.5 205.3h0M135.2 210.1h0M128.1 209.4h0M145.2 221.6h0M115.2 222.2h0M135.9 194.5h0M139.7 189.6h0M126.4 201.7h0M118.6 187.3h0M123.6 208h0M156 207.4h0M126.5 221.4h0M141.1 197.7h0M108.8 216.9h0M133.7 200.6h0M125.8 212.6h0M139.1 217.6h0M116.4 197.9h0M151.8 201h0M115.7 221.6h0M132.6 211.9h0M136 188.2h0M127.9 185.8h0M126.9 217.9h0M132.2 211.8h0M128.5 209h0M117.5 220.4h0M124.1 220.5h0M137.8 203.5h0M126.9 209.2h0M128 195h0M137.4 217.8h0M141.5 229.6h0M142.2 221h0M111.1 196.2h0M128.8 212.7h0M152.9 206h0M156.6 202.1h0M153.5 191.1h0M121 218.3h0M112.6 195.5h0M118.9 189.3h0M148.3 191.8h0M137 210.3h0M136.8 202.1h0M146.9 208.9h0M114.1 188.6h0M130.8 227.1h0M125.9 224.3h0M154.5 211.4h0M139.8 232.7h0M146 229.5h0M119 230.6h0M138.9 204.2h0M131 189.7h0M156.3 211.3h0M149.7 204.7h0M134.3 182.5h0M133.9 183.6h0M126.2 181.5h0M144.2 231.4h0M149.5 216.7h0M127.1 230h0M114.3 212.7h0M119.5 226.6h0M123.2 224.6h0M150.3 192.6h0M152.7 202.7h0M143.7 211.1h0M122.6 201.6h0M118.9 189.7h0M133.4 224.6h0M131.4 211.9h0" stroke="#98687a" stroke-width="1.36" stroke-linecap="round" opacity="0.8"/><path d="M151.4 210.2h0M128.8 190.2h0M133.1 207.5h0M110.5 214.3h0M143.3 189.7h0M111.5 207.4h0M112.1 220.4h0M156 218.7h0M115.4 190.3h0M155.7 215.2h0M153 218.5h0M153.6 193.2h0M119.8 188.2h0M124.7 200.4h0M137.2 219.4h0M119.5 207.7h0M115.5 194.5h0M150.4 197.4h0M134.8 206.6h0M138.6 193.9h0M121.8 184.6h0M128.5 194.3h0M111.3 200h0M122.4 196.3h0M133.4 208.4h0M143.8 187.7h0M140.7 182.3h0M155.5 212.6h0M130.1 218.4h0M137.3 223.9h0M157.8 199.5h0M118.8 223.9h0M150.7 217.1h0M124.5 200.9h0M128.9 197.5h0M121.3 203.9h0M153.9 193h0M149.4 218.5h0M132.2 181.9h0M127.8 227.3h0M150 202.5h0M147.8 220.4h0M149.4 187h0M145 220h0M150.5 215.8h0M136.9 233.1h0M121.3 208.3h0M144.5 211.8h0M124.1 189.6h0M125.2 209.1h0M137.9 219.3h0M105.8 211.9h0M138.9 223.8h0M122.9 185.3h0M151 210.2h0M134.3 189.5h0M150.6 195.6h0M124 182.6h0M150.7 198.8h0M108.7 218.6h0M129.4 206.8h0M115.8 195.8h0M118.9 205.5h0M134.5 221.9h0M133.1 186h0M141.3 218.4h0M129.3 228.1h0M159.3 209.4h0M109.8 195h0M126.2 222.8h0M148.2 199.4h0M154.4 200.2h0M130.4 185.3h0M149.1 212.5h0M133 199.8h0M140.7 216.7h0M150.5 218.9h0M127.3 206.3h0M135 205.5h0M136.9 200.4h0M128 222.9h0M121.6 211.2h0M135.2 218.5h0M131.3 226.8h0M139.6 210.4h0M152.5 195.6h0M149.2 195.7h0M141.4 202.1h0M121.7 184.5h0M116.6 226.5h0M139.5 187.3h0M147.9 195.8h0M152.6 219.7h0M121 198.5h0M150.3 218.3h0M134.4 223.2h0M137.4 200.4h0M132.7 223.8h0M118.6 201.1h0M113.1 198.8h0M129 189h0M117.9 209.3h0M117.2 188.1h0M123.2 220.8h0" stroke="#98687a" stroke-width="1.80" stroke-linecap="round" opacity="0.8"/><path d="M149.7 201h0M125.8 183.3h0M137.3 200.6h0M137.9 185.2h0M110.1 216.6h0M129.3 182.8h0M141.6 232.5h0M130.1 184h0M112.4 222h0M112.1 214.3h0M123.1 194.8h0M136.5 218.1h0M109.4 218.7h0M133.4 211.8h0M138.1 182h0M153.2 223.3h0M150.8 208.5h0M108.6 215h0M150.4 206.9h0M149.4 189h0M136.6 222.2h0M129.4 205.6h0M132.5 209h0M122.3 186.2h0M106 208.9h0M110.2 213.8h0M148.2 192.4h0M119.4 214.5h0M127.1 230.7h0M146.8 189.8h0M132.5 183.2h0M129.6 200.1h0M122.6 207h0M123.1 201.1h0M105.9 212.3h0M136.3 230h0M131 225.8h0M138.4 183.2h0M114.9 210.2h0M139.8 204.7h0M133.2 201h0M130 232.5h0M138.9 209h0M118.5 194.7h0M133.2 205.2h0M148.4 191.9h0M108.8 203.1h0M126.4 190.2h0M117.8 187.3h0M121.9 222.6h0M155 196.8h0M124.1 210.6h0M109.8 212.8h0M129.1 187.3h0M106.9 210.2h0M134.8 201.3h0M119.1 221.8h0M120.9 185.1h0M112.7 224.3h0M138.6 206.8h0M132.6 209.6h0M123.2 186.8h0M107.9 213.3h0M116.2 217.5h0M108.2 215.8h0M148.7 191.4h0M132.3 224.5h0M136.6 185.1h0M116.9 204.3h0M139.8 211.9h0M141.3 219.9h0M134.1 227.9h0M135.7 201.4h0M140.2 189.9h0M110.7 222.9h0M129.7 218.3h0M127.8 217.3h0M157.7 206.2h0M138.2 225.4h0M139.6 182.3h0M123.5 231.2h0M111.6 196.2h0M117.1 227.5h0M130.8 206.8h0M134 222.5h0M129.6 233.2h0M136.5 229.1h0M138.8 217h0M150.7 188.4h0M116.2 201.8h0M142.8 215.9h0M131.4 219.7h0M118.8 191h0M150.7 216.7h0M158.6 207.8h0M115.2 194.1h0M115.9 205.4h0" stroke="#98687a" stroke-width="0.90" stroke-linecap="round" opacity="0.8"/>
</g></g>
<g clip-path="url(#cD)">
<g filter="url(#soft2)">
<rect x="316" y="138" width="138" height="118" fill="#faf2f8"/>
<path d="M351.4 202.3Q347.8 199.2 352.2 197.2T353 192.2M359.4 242.1Q358.9 236.9 353.7 236.7T348.1 231.2M372 255.4Q368.2 254.4 367.1 250.6T362.2 245.9M355.7 204.2Q357.7 198.9 354 194.6T352.4 185M428.8 237.1Q427.1 242.5 421.6 243.1T414.3 249M430.6 183.7Q431.7 189.3 428.2 193.8T425.7 203.8M446.9 189Q442.8 191.4 447.2 193.1T447.6 197.2M446.5 175.6Q449.7 179.4 446.2 182.9T445.9 190.3M447.6 188.9Q452.1 192.6 447.7 196.5T447.8 204.1M436.8 222.5Q433.6 228 427.2 227.9T417.7 233.3M434.4 239.5Q430.7 243.8 425.2 242.9T416 246.4M398.6 239Q393.9 236 388.6 238T378.7 236.9M418.3 202.5Q418.2 206.4 414.3 206.3T410.3 210.1M364.9 220.5Q365.9 215.1 360.4 215T355.9 209.5M358.2 200Q362.6 197.9 358.7 195T359.2 190M338.8 184Q338.2 177.8 343.9 175.2T348.9 166.4M418.6 197.3Q413.6 198.1 413.9 203.2T409.2 209.1M389.9 188.9Q393 191.8 396.9 190.3T403.9 191.6M415.7 248.1Q412.2 245.4 408.9 248.2T402 248.2M382.7 252.7Q378.4 248.2 372.4 249.4T362.1 246.2M409.1 173.6Q414.2 173.4 416.1 178T423 182.5M445.4 225.4Q440.5 225.6 442.3 230.3T439.1 235.1M382.5 145.8Q385.1 150.5 388.7 146.6T395 147.3M328.9 202.9Q326.8 198.6 330.3 195.3T331.6 187.7M432.1 146.5Q436.5 147.2 437.4 151.6T442.8 156.7M413.5 155.7Q419.2 157.1 419.6 163.1T425.7 170.5M404.8 226.4Q402.5 222.7 399.7 226T394.6 225.6M342.5 206.2Q337.7 203.9 340.8 199.5T339.1 192.9M370.6 157Q373.3 151.2 379.7 151.1T388.9 145.2M434.4 206.6Q429.9 208.9 430.5 213.9T426.6 221.1M428.2 240.3Q427.6 245.1 422.7 245.3T417.3 250.4M384.1 161.9Q387.1 159.2 390.7 161.2T397.3 160.4M420.3 147.7Q424.2 148.9 425.4 152.9T430.5 158.1M327.2 237.3Q326.8 233.6 323.1 232.8T319.1 228.2M318.1 157.5Q316.7 151.8 322.1 149.4T326.1 141.2M410 196.8Q406.5 199.3 408.3 203.2T406.5 209.7M392.1 190.6Q394.1 192.8 396.4 190.9T400.7 191.3M386.1 195.7Q390.4 194.5 389.3 190.2T392.4 184.7M335.6 214.6Q338.9 209.3 334.1 205.4T332.5 196.2M401.5 144.1Q405.4 142.7 408.1 145.8T414.7 147.5M387 232.1Q386 228.7 382.8 230.2T378.6 228.3M400.9 187.9Q403 193 399.3 197.1T397.8 206.3M360.3 197.8Q363.9 194.7 360.3 191.5T360.3 185.2M323.3 163.2Q322.4 156.5 328.5 153.8T333.8 144.4M444.3 218.2Q439.5 217.8 441.2 222.3T438.1 226.5M449.6 210.9Q445.4 212.3 447.8 216T446.1 221.1M423.4 204.9Q424.5 208.8 421 210.6T418.5 216.3M349.7 231.4Q348.2 225.9 342.9 223.9T336 216.4M389.1 215.1Q382.3 215.3 380.2 208.8T371.4 202.6M354.5 192.6Q353.5 189.3 356.2 187.2T357.9 181.9M420.6 245.5Q417.9 250.4 412.3 250.8T404 256.2M411.4 169.3Q414.8 169.2 414 172.5T416.6 175.6M356.5 245.8Q357.8 241.3 353.2 241.1T349.8 236.4M363 203.9Q360 198.7 364 194.2T364.9 184.5M345.9 173.9Q344.2 168.8 349.1 166.6T352.4 159.4M370.2 244.1Q363.7 245.9 360.3 240T350.3 235.9M408.2 224.6Q403.3 222.6 399.7 226.5T391.2 228.4M348.5 173.9Q354.1 172.3 356.1 166.8T363.6 159.7M424.7 172.3Q430 174.1 429.7 179.7T434.7 187.2M344.2 150.2Q349.6 150.1 352 145.4T359.9 140.5M369.8 159.4Q373.9 160.4 374 156.2T378.1 153M426.2 152Q425.4 157 430.3 155.7T434.4 159.3M428.6 160.1Q432.7 160.2 433.2 164.3T437.9 168.4M423.1 185.8Q427.8 187 425.3 191.2T427.6 196.7M440.9 196.6Q436.4 199 440.4 202.1T439.9 207.7M437.8 237.3Q434.6 242.5 428.5 241.7T419.3 246.1M358.5 189.6Q360.6 187.1 358.9 184.3T359.3 179M374.4 175.2Q378.6 176.2 380 172.1T385.6 169M418.4 139.9Q419.8 144.3 424.4 145T430.4 150.2M440.6 198.4Q444 203.3 439.6 207.5T438.7 216.6M363.5 171.3Q367.2 172 366.4 168.4T369.3 165.4M383.1 246.4Q380.3 248 379.2 244.9T375.3 243.4M394.8 200.5Q392 198.3 394.2 195.6T393.6 190.6M414.4 163.5Q414.5 167.7 418.5 168.6T422.6 173.7M365.8 245.9Q360.3 246.7 358.6 241.4T351.3 236.9M326.5 252.5Q322.2 249.5 322.5 244.3T318.6 236M431.5 202Q427.7 204.6 427.7 209.1T424 216.3M428 180.1Q425.2 185.1 428.3 190T428.6 200M353.6 155Q353.9 151.3 357.4 152.4T361.3 149.8M454.4 225.5Q454.5 232 448.2 233.4T441.9 241.3M330.9 157Q335.7 154.2 335.7 148.6T340.6 140.2M428.8 178.8Q432.5 181.6 429 184.6T429.2 190.3M366.5 241.3Q361.3 241.6 362.6 236.6T358.8 231.9M424 143.6Q424.7 146.7 427.9 146.4T431.7 149.3M415.4 147.1Q415.4 151.2 419.5 150.7T423.5 154.3M351.9 239.5Q350.5 234.5 345.5 233T339.2 226.6" fill="none" stroke="#c47ec4" stroke-width="1.0" opacity="0.75" stroke-linecap="round"/>
<path d="M418.8 232Q415.9 235.5 411.4 234.4T404.1 236.7M356 186.3Q354 183.8 357.1 182.9T358.2 179.5M428.7 217Q427.9 220.6 424.3 221.5T419.8 226M356.1 168.2Q359.6 166.1 360 162T363.9 155.8M380.9 156.2Q384.9 157.2 387.5 154.1T394.2 152M336.7 231.7Q338.6 227.6 334.3 226.7T331.8 221.8M339.6 232.7Q335.3 232.3 337 228.4T334.3 224.1M413.6 230.7Q411.5 234 407.8 232.8T402 235M401.2 187.8Q405.5 189.7 403.5 193.9T405.9 200M329.2 230.4Q329.8 225.8 325.2 225.3T321.3 220.2M360.5 162.1Q365.4 162 366.4 157.2T372.2 152.2M392.6 154.2Q396.2 156.9 400.3 155T408 155.9M357.3 248.5Q354.8 248.9 354.6 246.4T351.9 244.2M415.4 194.6Q416.5 198.2 413.8 200.8T412.2 206.9M424.5 236.9Q422.9 241.1 418.5 241.1T412.4 245.4M393.4 166.8Q397 165.1 400.2 167.6T407.1 168.4M335.7 252.8Q330.7 253.8 330.1 248.7T324.6 244.6M403.4 168.5Q408.4 167.5 409.3 172.5T415.1 176.6M343.1 221.7Q339.8 219.4 342.2 216T341.2 210.3M397.9 168.2Q401 166.8 402.3 170T406.7 171.8M341.4 165.3Q340.1 160.1 345.1 158.2T348.8 151.2M435.9 186.2Q433.1 188.1 435.6 190.5T435.3 194.7M429.7 145.8Q434.2 145.4 436.4 149.2T443.2 152.7M429.5 220.2Q429.2 224.9 424.7 226.4T419.9 232.7M372.6 186.9Q376 186 374.8 182.7T377 178.5M332.2 207.3Q333.3 203.8 330.5 201.5T328.9 195.6M356.4 170.2Q360.8 170.3 360.8 165.9T365.2 161.7M323.6 209.1Q327.4 205.9 323.7 202.6T323.9 196.1M359.9 177.6Q364.2 176.9 365.5 172.9T371.1 168.2M404.4 201.2Q400.7 200.4 397.9 202.9T391.5 204.6M328.9 174.4Q332.3 173 329.7 170.4T330.5 166.4M412.4 215.1Q408.6 215.2 407.3 218.8T402.2 222.6M418.5 226.4Q417.5 229.1 414.7 228.2T411 230M420.2 175.6Q418.6 178.4 421.7 179.3T423.2 183.1M327.2 182.3Q324 180 327.9 179.3T328.6 176.3M343.8 201.5Q347.3 197.3 343 193.9T342.3 186.3M390.3 162.6Q391.9 159.2 393.7 162.4T397 162.3M414 226Q412.4 231 407.3 229.7T400.5 233.4M402 195.9Q400.6 199.5 397.1 197.9T392.3 200M374.2 172.3Q375.5 169.3 378.7 169.1T383.3 166M328.8 185.5Q326.8 181.7 330.9 180.3T332.9 175" fill="none" stroke="#a864ac" stroke-width="0.8" opacity="0.55" stroke-linecap="round"/>
<path d="M427.8 201.7Q427 205.5 430.8 205.2T433.8 208.6M366.2 180.9Q366.1 185.6 370.8 186.2T375.4 191.6M436.2 217.4Q431 217.4 430.6 222.7T424.9 228M387.9 231.7Q391.2 232.5 391.6 235.8T395.3 239.9M395.2 156.5Q398.9 153.8 399.6 158.2T404 160M442.8 185Q443.8 189.1 448 188.5T453.3 192.1M446.1 241.3Q449 243.2 445.7 244.3T445.3 247.4M446.9 145.9Q444.4 148.7 447 151.5T447.1 157.2M428.7 231.8Q428.4 235.7 431.5 233.4T434.4 234.9M443.9 165Q441.5 167.2 443.3 170T442.6 175M441.3 246.2Q441 250.9 436.5 249.4T431.7 252.6M365.4 250.2Q361.8 246.4 358.4 250.4T351.5 250.5M339.2 161.7Q334.6 160.2 334 164.9T328.9 168.2M383.9 190.7Q383.2 195.1 380 192T376.2 193.2M346.1 190.5Q347.7 193.6 350.1 191T354 191.6M425.3 208.2Q424.1 210.7 426.7 211.7T428 215.1M445.9 163.4Q443.9 166.8 447.8 167.2T449.7 171.1M412.4 164.4Q416.2 164.6 413.7 167.5T415 170.6M352.9 153.2Q358.1 153.9 357.2 159T361.4 164.9M364.5 138.7Q359.3 139.5 359.6 144.7T354.7 150.6M319.3 178.6Q321.7 182.2 326 182.3T332.7 186.1M353.2 215.4Q354.1 219.9 350.1 222.2T347 228.9M386.1 178.3Q389.2 178.9 387.9 181.8T389.7 185.2M408.7 175.9Q411.1 174.3 412.9 176.5T417 177.1M328.4 188.7Q326.8 192.2 324.5 189.1T320.6 189.5M343.4 146.6Q341.7 150.6 337.5 151.8T331.6 157.1M413.4 191.8Q414.1 196.7 409.4 198.2T405.4 204.6" fill="none" stroke="#dcb0dc" stroke-width="1.4" opacity="0.6" stroke-linecap="round"/>
<path d="M377.9 184.3h0M379.5 187.3h0M354.6 241.5h0M446.3 198.3h0M432.2 165.1h0M404 229.2h0M378.2 154.8h0M411 162.8h0M390.9 177.2h0M380.8 175.6h0M408.7 207h0M406 196.3h0M436.8 194.5h0M397.4 193.6h0M396 231.2h0M399.5 241.3h0M402.9 197.3h0M347.3 225.8h0M371.7 208.2h0M329.1 180.7h0M328.4 212.5h0M380.2 167.2h0M388.7 217.3h0M366.9 204.5h0M361.5 205.2h0M344.1 165.8h0" stroke="#a868a8" stroke-width="1.30" stroke-linecap="round" opacity="0.6"/><path d="M435.6 190.9h0M346.4 229.4h0M399.6 208.6h0M432.7 176.8h0M414.6 169.7h0M373.8 177.2h0M418.9 173.6h0M442.7 193.4h0M360.8 164.6h0" stroke="#a868a8" stroke-width="0.80" stroke-linecap="round" opacity="0.6"/><path d="M321.6 196h0M374.2 161.4h0M414.9 189.9h0M329.9 190.6h0M340.7 163.8h0M325.6 198.8h0M379.4 154.7h0M427.2 194.8h0M361.5 165.6h0M396.4 245.4h0M415.7 208h0M399.8 180.8h0M375.6 174.3h0M411.5 157.1h0M398.6 159.6h0M425.6 206.4h0" stroke="#a868a8" stroke-width="1.80" stroke-linecap="round" opacity="0.6"/>

<path d="M342.5,144.5C351.2,143.4 375.2,143.2 390.0,143.0C404.8,142.8 423.2,142.4 431.0,143.0C438.8,143.6 434.9,144.1 437.0,146.3C439.1,148.5 442.4,151.6 443.8,156.0C445.2,160.4 444.6,167.0 445.4,172.5C446.2,178.0 448.4,182.3 448.7,188.8C449.0,195.3 448.4,205.2 447.0,211.7C445.6,218.2 443.2,223.1 440.5,228.0C437.8,232.9 435.6,237.4 430.7,241.0C425.8,244.6 417.5,247.6 411.0,249.3C404.5,251.0 398.0,251.6 391.5,251.0C385.0,250.4 377.6,248.7 371.9,246.0C366.1,243.3 360.8,238.7 357.0,234.6C353.2,230.5 351.4,226.4 349.0,221.5C346.6,216.6 344.7,209.6 342.5,205.0C340.3,200.4 337.6,195.9 336.0,193.7C334.4,191.5 334.6,192.5 332.7,192.0C330.8,191.5 326.4,191.6 324.5,190.5C322.6,189.4 321.2,188.0 321.0,185.5C320.8,183.0 321.9,178.9 323.0,175.7C324.1,172.4 326.2,169.0 327.8,166.0C329.4,163.0 331.0,160.5 332.7,157.8C334.4,155.1 336.4,151.8 338.0,149.6C339.6,147.4 333.8,145.6 342.5,144.5Z" fill="none" stroke="#c088c0" stroke-width="1.2"/>
</g>
<g filter="url(#tex)">
<path d="M448.3,194.5C448.5,197.5 448.5,200.5 448.1,203.5C447.6,206.5 446.9,209.5 445.8,212.3C444.8,215.1 443.3,217.9 441.6,220.4C440.0,222.9 438.0,225.2 435.8,227.4C433.7,229.5 431.3,231.4 428.9,233.2C426.5,234.9 423.9,236.4 421.2,237.8C418.6,239.1 415.8,240.3 413.0,241.2C410.2,242.2 407.3,243.0 404.4,243.6C401.5,244.2 398.5,244.6 395.5,244.7C392.5,244.8 389.4,244.6 386.5,244.2C383.5,243.7 380.5,243.0 377.7,242.0C374.9,240.9 372.2,239.6 369.6,238.0C367.1,236.5 364.7,234.7 362.5,232.7C360.2,230.8 358.2,228.6 356.4,226.4C354.5,224.2 352.8,221.8 351.3,219.3C349.8,216.8 348.4,214.2 347.2,211.6C346.0,208.9 345.0,206.1 344.3,203.3C343.5,200.4 342.9,197.5 342.7,194.5C342.5,191.5 342.5,188.5 342.9,185.5C343.4,182.5 344.1,179.5 345.2,176.7C346.2,173.9 347.7,171.1 349.4,168.6C351.0,166.1 353.0,163.8 355.2,161.6C357.3,159.5 359.7,157.6 362.1,155.8C364.5,154.1 367.1,152.6 369.8,151.2C372.4,149.9 375.2,148.7 378.0,147.8C380.8,146.8 383.7,146.0 386.6,145.4C389.5,144.8 392.5,144.4 395.5,144.3C398.5,144.2 401.6,144.4 404.5,144.8C407.5,145.3 410.5,146.0 413.3,147.0C416.1,148.1 418.8,149.4 421.4,151.0C423.9,152.5 426.3,154.3 428.5,156.3C430.8,158.2 432.8,160.4 434.6,162.6C436.5,164.8 438.2,167.2 439.7,169.7C441.2,172.2 442.6,174.8 443.8,177.4C445.0,180.1 446.0,182.9 446.7,185.7C447.5,188.6 448.1,191.5 448.3,194.5Z" fill="#c89ccf"/>
<path d="M434.3 153.3Q435.6 157 439.1 158.9T443.9 164.5M395.5 207.7Q391.9 206.9 391 203.3T386.5 198.9M355.9 250.2Q354.5 246.4 350.8 245T345.7 239.8M440.1 167.8Q438.3 170.6 440.9 172.6T441.7 177.4M447.5 200.2Q445.7 201.9 446.4 204.3T445.2 208.3M359.9 150.4Q363.7 147.4 368.6 147.1T377.3 143.7M438.2 144.2Q441.6 144.2 442.2 147.6T446.2 151M371.5 212.4Q368.8 211.5 369.6 208.8T367.7 205.2M445.2 181Q446.9 184.4 444.5 187.3T443.9 193.6M400.5 242.7Q396.9 241.2 393.8 243.6T387.1 244.5M349.1 156.5Q352.9 155 353.4 150.9T357.6 145.3M444.7 217.1Q441.6 219.6 440.7 223.5T436.8 229.9M433.1 221.1Q428.6 222.1 425.6 225.5T418 229.9M382.3 159.6Q385.1 157.9 388.4 158.4T394.5 157.2M396.6 184Q400.7 186.9 402.5 191.6T408.3 199.2M380.6 231.3Q378.3 227.2 373.7 226T366.9 220.8M359.8 244.3Q357.3 244.2 355.9 242T351.9 239.7M433.3 165.6Q434.2 168.6 437.1 169.8T440.9 173.9M372.2 228.9Q369.3 228.4 367.3 226.2T362.4 223.6M401.2 160Q404.8 163.3 409.7 163.6T418.2 167.2M423.2 161.1Q427.3 163.7 429.6 168T435.9 174.8M394.5 223.9Q390.5 224.3 387.2 222.1T379.8 220.3M386.6 204.8Q383.7 203.7 383.2 200.6T379.8 196.4M394.5 146.3Q396.9 145 399 146.7T403.5 147.2M409.2 145.5Q411.3 147 413.8 146.3T418.4 147M415.4 215.5Q412.4 215.9 410.6 218.4T405.8 221.4M354.2 210.8Q354.8 206.4 352.6 202.4T351.1 194.1M445.5 203.6Q446.1 207.5 442.7 209.4T439.9 215.1M382.8 184.6Q387.6 185 391.6 182.5T400.4 180.4M361.3 176.4Q365.1 175.9 366.1 172.2T370.9 168M438.4 230.1Q437.7 233 434.8 233.7T431.2 237.4M366.7 159.6Q371.8 159.8 375.2 155.9T383.6 152.2M379.6 180.2Q381 177.4 384.1 177T388.6 173.7M378.1 210.9Q376.6 206.1 373.2 202.3T368.4 193.7M443 211.8Q442 215.3 439.3 217.6T435.5 223.5M345.5 214.7Q343.9 211.1 345.7 207.7T345.9 200.6M395.9 242.1Q392.7 240.8 389.9 243T383.9 243.8M363.5 172.6Q364 170.1 366.4 169.1T369.4 165.7M434.4 203.7Q431 205.6 430.7 209.5T426.9 215.3M361.5 198.2Q363 195.8 360.8 194.1T360.1 189.9M429.3 148.3Q429.7 151.5 432.7 152.6T436.1 156.9M444.4 192.3Q442.6 197 443 202T441.5 211.7M370.1 193.1Q372.5 190.2 372.7 186.5T375.2 179.8M360.4 205.2Q363.4 200.7 362.3 195.5T364.2 185.8M394.7 154.4Q399.4 154.3 402.2 158T409.7 161.6M399.8 184.4Q400.2 187.5 403.3 187.9T406.8 191.4M381.4 224.8Q376.4 223.6 373.8 219.2T366.1 213.6M359.6 219.5Q356.5 217.8 355.2 214.5T350.9 209.5M434.8 188Q433.7 190.8 435.5 193.3T436.2 198.7M352.6 237.9Q349.6 235.8 349 232.2T345.4 226.4M366.3 214.1Q363.9 209.6 364 204.4T361.7 194.7M413.6 233.2Q409.7 233.9 407.3 237.1T401 241M373.3 147.4Q375.4 145.2 378.4 145.1T383.4 142.8M449.4 201.5Q449.4 205.9 446.8 209.6T444.2 217.6M420.5 229.6Q416.8 230.9 414.7 234.3T408.8 239M444.3 204Q443 208 443.7 212.2T443.2 220.4M389.5 216.5Q385.4 216 383.8 212.2T378.2 207.9M397 214.2Q394 211.1 390 209.7T383 205.2M437.1 236.6Q432.3 237.9 428.7 241.5T420.4 246.4M394.2 147.3Q398.1 146.5 400.7 149.4T407.2 151.5" fill="none" stroke="#9a70ac" stroke-width="1.0" opacity="0.8" stroke-linecap="round"/>
<path d="M448.3,194.5C448.5,197.3 448.4,200.3 448.0,203.1C447.6,206.0 446.9,208.9 445.9,211.6C444.9,214.3 443.5,216.9 441.9,219.3C440.3,221.8 438.3,224.0 436.3,226.1C434.3,228.1 432.0,230.0 429.6,231.6C427.3,233.3 424.8,234.7 422.2,236.0C419.7,237.3 417.0,238.5 414.3,239.4C411.7,240.3 408.9,241.1 406.1,241.7C403.3,242.2 400.4,242.6 397.5,242.7C394.6,242.8 391.7,242.6 388.8,242.2C386.0,241.8 383.1,241.1 380.4,240.1C377.7,239.1 375.1,237.8 372.6,236.3C370.2,234.9 367.9,233.1 365.7,231.2C363.6,229.4 361.7,227.3 359.9,225.1C358.1,223.0 356.5,220.7 355.0,218.3C353.5,215.9 352.2,213.5 351.1,210.9C349.9,208.3 348.9,205.7 348.2,202.9C347.5,200.2 347.0,197.3 346.7,194.5C346.5,191.7 346.6,188.7 347.0,185.9C347.4,183.0 348.1,180.1 349.1,177.4C350.1,174.7 351.5,172.1 353.1,169.7C354.7,167.2 356.7,165.0 358.7,162.9C360.7,160.9 363.0,159.0 365.4,157.4C367.7,155.7 370.2,154.3 372.8,153.0C375.3,151.7 378.0,150.5 380.7,149.6C383.3,148.7 386.1,147.9 388.9,147.3C391.7,146.8 394.6,146.4 397.5,146.3C400.4,146.2 403.3,146.4 406.2,146.8C409.0,147.2 411.9,147.9 414.6,148.9C417.3,149.9 419.9,151.2 422.4,152.7C424.8,154.1 427.1,155.9 429.3,157.8C431.4,159.6 433.3,161.7 435.1,163.9C436.9,166.0 438.5,168.3 440.0,170.7C441.5,173.1 442.8,175.5 443.9,178.1C445.1,180.7 446.1,183.3 446.8,186.1C447.5,188.8 448.0,191.7 448.3,194.5Z" fill="none" stroke="#fdf7fd" stroke-width="1.6" opacity="0.9"/>
<path d="M443.2,195.5C443.4,198.2 443.4,201.0 443.0,203.7C442.6,206.4 441.9,209.1 441.0,211.7C440.0,214.3 438.7,216.8 437.2,219.1C435.7,221.4 433.9,223.5 432.0,225.4C430.0,227.4 427.9,229.1 425.7,230.7C423.5,232.3 421.1,233.7 418.7,234.9C416.3,236.1 413.9,237.2 411.3,238.1C408.8,239.0 406.2,239.7 403.6,240.2C400.9,240.8 398.2,241.1 395.5,241.2C392.8,241.3 390.0,241.2 387.3,240.8C384.7,240.3 382.0,239.7 379.4,238.7C376.9,237.8 374.4,236.6 372.1,235.2C369.8,233.8 367.6,232.1 365.6,230.3C363.6,228.6 361.8,226.6 360.1,224.6C358.4,222.5 356.9,220.3 355.5,218.1C354.2,215.8 352.9,213.5 351.9,211.0C350.8,208.6 349.9,206.1 349.2,203.5C348.5,200.9 348.0,198.2 347.8,195.5C347.6,192.8 347.6,190.0 348.0,187.3C348.4,184.6 349.1,181.9 350.0,179.3C351.0,176.7 352.3,174.2 353.8,171.9C355.3,169.6 357.1,167.5 359.0,165.6C361.0,163.6 363.1,161.9 365.3,160.3C367.5,158.7 369.9,157.3 372.3,156.1C374.7,154.9 377.1,153.8 379.7,152.9C382.2,152.0 384.8,151.3 387.4,150.8C390.1,150.2 392.8,149.9 395.5,149.8C398.2,149.7 401.0,149.8 403.7,150.2C406.3,150.7 409.0,151.3 411.6,152.3C414.1,153.2 416.6,154.4 418.9,155.8C421.2,157.2 423.4,158.9 425.4,160.7C427.4,162.4 429.2,164.4 430.9,166.4C432.6,168.5 434.1,170.7 435.5,172.9C436.8,175.2 438.1,177.5 439.1,180.0C440.2,182.4 441.1,184.9 441.8,187.5C442.5,190.1 443.0,192.8 443.2,195.5Z" fill="#98609c"/>
<path d="M442.4,195.5C442.5,198.1 442.3,200.9 441.8,203.5C441.4,206.1 440.5,208.7 439.5,211.2C438.5,213.6 437.2,216.0 435.8,218.3C434.3,220.5 432.7,222.6 430.9,224.5C429.1,226.5 427.1,228.3 425.0,229.9C422.9,231.6 420.7,233.0 418.4,234.3C416.0,235.5 413.6,236.6 411.1,237.4C408.6,238.2 406.0,238.8 403.4,239.2C400.8,239.6 398.1,239.8 395.5,239.8C392.9,239.8 390.2,239.6 387.6,239.2C385.0,238.8 382.4,238.2 379.9,237.4C377.4,236.5 375.0,235.5 372.7,234.2C370.4,233.0 368.1,231.4 366.1,229.8C364.1,228.1 362.3,226.1 360.7,224.1C359.1,222.1 357.6,219.9 356.4,217.6C355.1,215.3 354.1,213.0 353.1,210.6C352.2,208.2 351.4,205.7 350.8,203.2C350.1,200.7 349.6,198.1 349.3,195.5C349.1,192.9 349.0,190.2 349.2,187.5C349.5,184.9 350.0,182.1 350.8,179.6C351.7,177.1 353.0,174.5 354.4,172.3C355.9,170.1 357.8,168.0 359.8,166.1C361.7,164.3 363.9,162.7 366.2,161.3C368.4,159.8 370.7,158.6 373.0,157.4C375.4,156.3 377.8,155.3 380.2,154.4C382.6,153.4 385.1,152.6 387.7,152.0C390.2,151.4 392.9,150.8 395.5,150.7C398.1,150.5 400.9,150.5 403.5,150.9C406.2,151.3 408.8,152.1 411.3,153.1C413.7,154.1 416.1,155.4 418.3,156.9C420.5,158.3 422.5,160.1 424.4,161.8C426.3,163.6 428.0,165.5 429.7,167.5C431.3,169.4 432.9,171.4 434.3,173.6C435.7,175.7 437.1,177.9 438.3,180.3C439.4,182.6 440.4,185.1 441.1,187.6C441.8,190.2 442.3,192.9 442.4,195.5Z" fill="none" stroke="#6a3a7a" stroke-width="1" opacity="0.8"/><path d="M440.2,195.5C440.5,198.0 440.5,200.7 440.1,203.2C439.7,205.7 438.8,208.2 437.8,210.6C436.8,212.9 435.3,215.1 433.9,217.2C432.5,219.3 430.9,221.3 429.2,223.2C427.5,225.1 425.7,226.9 423.7,228.4C421.8,230.0 419.6,231.4 417.3,232.5C415.1,233.6 412.6,234.4 410.2,235.1C407.8,235.9 405.4,236.3 402.9,236.7C400.5,237.2 398.0,237.5 395.5,237.7C393.0,237.9 390.4,238.0 387.9,237.8C385.4,237.5 382.8,237.0 380.4,236.1C378.0,235.2 375.8,233.9 373.7,232.5C371.6,231.1 369.7,229.3 368.0,227.6C366.2,225.9 364.5,224.1 362.9,222.3C361.3,220.4 359.6,218.6 358.3,216.5C356.9,214.5 355.5,212.4 354.5,210.1C353.5,207.8 352.7,205.4 352.2,203.0C351.7,200.5 351.5,198.0 351.4,195.5C351.3,193.0 351.4,190.5 351.7,187.9C352.0,185.4 352.4,182.9 353.2,180.4C353.9,178.0 355.0,175.5 356.4,173.4C357.7,171.2 359.5,169.2 361.4,167.5C363.3,165.7 365.5,164.3 367.6,162.9C369.7,161.6 371.9,160.4 374.1,159.2C376.3,158.1 378.5,156.9 380.8,155.9C383.1,155.0 385.5,154.1 387.9,153.5C390.4,153.0 393.0,152.7 395.5,152.7C398.0,152.7 400.6,153.1 403.1,153.6C405.5,154.1 407.9,154.8 410.3,155.7C412.7,156.6 415.0,157.5 417.2,158.7C419.4,159.9 421.6,161.3 423.5,162.8C425.4,164.4 427.2,166.3 428.7,168.3C430.2,170.2 431.4,172.4 432.6,174.6C433.7,176.7 434.7,178.9 435.7,181.2C436.6,183.4 437.6,185.7 438.4,188.1C439.1,190.5 439.9,193.0 440.2,195.5Z" fill="none" stroke="#6a3a7a" stroke-width="1" opacity="0.8"/>
<path d="M436.6,196.0C436.8,198.3 436.8,200.8 436.4,203.1C436.1,205.5 435.5,207.9 434.7,210.1C433.9,212.3 432.7,214.5 431.4,216.5C430.1,218.5 428.6,220.4 426.9,222.0C425.3,223.7 423.4,225.3 421.5,226.6C419.6,228.0 417.6,229.2 415.5,230.3C413.5,231.3 411.3,232.3 409.1,233.0C407.0,233.8 404.7,234.5 402.4,234.9C400.2,235.4 397.8,235.7 395.5,235.7C393.2,235.8 390.8,235.7 388.5,235.3C386.2,235.0 383.8,234.4 381.6,233.6C379.5,232.8 377.3,231.7 375.3,230.5C373.4,229.3 371.5,227.8 369.8,226.3C368.0,224.8 366.5,223.0 365.0,221.3C363.6,219.5 362.3,217.6 361.1,215.6C359.9,213.7 358.8,211.6 357.9,209.5C357.0,207.4 356.2,205.2 355.6,203.0C355.0,200.7 354.6,198.3 354.4,196.0C354.2,193.7 354.2,191.2 354.6,188.9C354.9,186.5 355.5,184.1 356.3,181.9C357.1,179.7 358.3,177.5 359.6,175.5C360.9,173.5 362.4,171.6 364.1,170.0C365.7,168.3 367.6,166.7 369.5,165.4C371.4,164.0 373.4,162.8 375.5,161.7C377.5,160.7 379.7,159.7 381.9,159.0C384.0,158.2 386.3,157.5 388.6,157.1C390.8,156.6 393.2,156.3 395.5,156.3C397.8,156.2 400.2,156.3 402.5,156.7C404.8,157.0 407.2,157.6 409.4,158.4C411.5,159.2 413.7,160.3 415.7,161.5C417.6,162.7 419.5,164.2 421.2,165.7C423.0,167.2 424.5,169.0 426.0,170.7C427.4,172.5 428.7,174.4 429.9,176.4C431.1,178.3 432.2,180.4 433.1,182.5C434.0,184.6 434.8,186.8 435.4,189.0C436.0,191.3 436.4,193.7 436.6,196.0Z" fill="#6e3a78"/>
<path d="M435.4,196.0C435.3,198.3 434.6,200.5 434.5,202.8C434.3,205.1 435.2,207.9 434.5,210.0C433.7,212.1 431.4,213.8 430.0,215.7C428.5,217.5 427.2,219.3 425.8,221.1C424.3,222.9 423.2,225.2 421.3,226.4C419.5,227.7 416.6,227.6 414.5,228.5C412.4,229.5 410.8,231.1 408.8,232.0C406.8,233.0 404.5,234.0 402.3,234.3C400.1,234.5 397.8,233.4 395.5,233.4C393.2,233.5 390.8,234.7 388.6,234.6C386.4,234.4 384.1,233.4 382.1,232.3C380.1,231.3 378.5,229.5 376.6,228.4C374.6,227.3 371.9,227.1 370.2,225.7C368.6,224.3 367.8,221.8 366.6,220.0C365.4,218.1 364.4,216.3 363.1,214.5C361.7,212.7 359.6,211.2 358.8,209.2C358.0,207.2 358.6,204.7 358.3,202.5C357.9,200.3 356.8,198.2 356.4,196.0C356.0,193.8 355.4,191.3 355.9,189.1C356.4,186.9 358.4,185.1 359.2,183.0C360.0,180.8 359.9,178.3 361.0,176.3C362.0,174.3 363.7,172.5 365.4,171.1C367.2,169.6 369.6,169.0 371.4,167.6C373.2,166.2 374.2,163.9 376.1,162.7C377.9,161.6 380.4,161.5 382.6,161.0C384.7,160.4 386.8,160.2 389.0,159.6C391.1,158.9 393.3,157.2 395.5,157.1C397.7,157.0 399.9,158.5 402.1,159.0C404.3,159.5 406.5,159.6 408.7,160.2C410.9,160.7 413.4,161.0 415.3,162.2C417.1,163.4 418.0,166.0 419.7,167.6C421.3,169.1 423.5,169.9 425.1,171.4C426.7,173.0 428.2,174.8 429.2,176.8C430.1,178.8 430.0,181.2 431.0,183.2C431.9,185.3 434.2,187.0 434.9,189.1C435.6,191.3 435.4,193.7 435.4,196.0Z" fill="none" stroke="#b888c0" stroke-width="1.6" opacity="0.85"/><path d="M432.5,196.0C432.4,198.1 431.8,200.1 431.6,202.3C431.5,204.5 432.3,207.0 431.6,209.0C430.9,211.0 428.8,212.5 427.5,214.2C426.1,215.9 424.9,217.6 423.6,219.3C422.2,220.9 421.2,223.1 419.5,224.2C417.7,225.4 415.1,225.3 413.1,226.2C411.2,227.0 409.7,228.5 407.8,229.4C405.9,230.3 403.9,231.3 401.8,231.5C399.8,231.7 397.6,230.7 395.5,230.7C393.4,230.8 391.2,231.9 389.1,231.7C387.0,231.6 385.0,230.6 383.1,229.7C381.2,228.7 379.8,227.1 377.9,226.0C376.1,225.0 373.6,224.9 372.1,223.6C370.5,222.3 369.8,219.9 368.7,218.2C367.6,216.5 366.6,214.8 365.4,213.2C364.2,211.5 362.2,210.1 361.4,208.2C360.7,206.4 361.3,204.1 361.0,202.0C360.6,200.0 359.6,198.1 359.3,196.0C358.9,193.9 358.4,191.6 358.8,189.6C359.2,187.6 361.1,185.9 361.8,183.9C362.6,181.9 362.5,179.6 363.5,177.8C364.5,175.9 366.0,174.2 367.6,172.9C369.2,171.6 371.5,171.0 373.2,169.7C374.8,168.4 375.7,166.2 377.5,165.2C379.2,164.1 381.5,164.0 383.5,163.5C385.5,163.0 387.5,162.8 389.5,162.2C391.5,161.6 393.5,160.1 395.5,160.0C397.5,159.9 399.6,161.2 401.6,161.7C403.7,162.2 405.7,162.3 407.7,162.8C409.8,163.3 412.1,163.5 413.8,164.7C415.5,165.8 416.4,168.2 417.9,169.6C419.4,171.1 421.5,171.8 423.0,173.2C424.4,174.7 425.8,176.4 426.7,178.2C427.6,180.0 427.5,182.3 428.4,184.2C429.3,186.1 431.3,187.7 432.0,189.6C432.7,191.6 432.5,193.9 432.5,196.0Z" fill="none" stroke="#b888c0" stroke-width="1.6" opacity="0.85"/><path d="M429.5,196.0C429.5,197.9 428.9,199.8 428.8,201.8C428.7,203.8 429.4,206.1 428.8,208.0C428.1,209.8 426.2,211.2 425.0,212.8C423.7,214.4 422.6,215.9 421.4,217.4C420.1,219.0 419.2,220.9 417.6,222.0C416.0,223.0 413.5,223.0 411.7,223.8C410.0,224.6 408.6,226.0 406.8,226.8C405.1,227.6 403.2,228.5 401.3,228.7C399.4,228.9 397.5,227.9 395.5,228.0C393.5,228.0 391.5,229.1 389.6,228.9C387.7,228.8 385.8,227.9 384.1,227.0C382.3,226.2 381.0,224.6 379.3,223.7C377.6,222.7 375.3,222.6 373.9,221.4C372.5,220.2 371.8,218.1 370.8,216.5C369.8,214.9 368.9,213.3 367.8,211.8C366.7,210.3 364.8,209.0 364.1,207.3C363.4,205.6 364.0,203.4 363.7,201.5C363.4,199.7 362.5,197.9 362.1,196.0C361.8,194.1 361.3,192.0 361.7,190.1C362.1,188.3 363.8,186.7 364.5,184.9C365.2,183.0 365.1,180.9 366.0,179.2C366.9,177.5 368.3,176.0 369.8,174.7C371.3,173.5 373.4,173.0 374.9,171.8C376.4,170.6 377.3,168.5 378.9,167.6C380.5,166.6 382.6,166.5 384.5,166.1C386.3,165.6 388.1,165.4 389.9,164.9C391.8,164.3 393.6,162.9 395.5,162.8C397.4,162.7 399.3,164.0 401.1,164.4C403.0,164.8 404.9,164.9 406.8,165.4C408.7,165.8 410.8,166.1 412.4,167.1C413.9,168.2 414.7,170.4 416.1,171.7C417.5,173.0 419.5,173.7 420.8,175.0C422.2,176.3 423.4,177.9 424.3,179.6C425.1,181.3 425.0,183.4 425.8,185.1C426.6,186.9 428.5,188.3 429.1,190.1C429.8,192.0 429.6,194.1 429.5,196.0Z" fill="none" stroke="#b888c0" stroke-width="1.6" opacity="0.85"/><path d="M426.6,196.0C426.6,197.8 426.1,199.5 426.0,201.3C425.8,203.1 426.5,205.3 425.9,206.9C425.3,208.6 423.6,209.9 422.4,211.4C421.3,212.8 420.3,214.2 419.1,215.6C418.0,217.0 417.2,218.8 415.7,219.8C414.2,220.7 412.0,220.7 410.4,221.4C408.7,222.1 407.5,223.4 405.9,224.2C404.3,224.9 402.6,225.7 400.8,225.9C399.1,226.1 397.3,225.2 395.5,225.3C393.7,225.3 391.9,226.3 390.1,226.1C388.4,226.0 386.6,225.2 385.0,224.4C383.5,223.6 382.2,222.2 380.7,221.3C379.2,220.5 377.1,220.3 375.8,219.2C374.5,218.1 373.9,216.2 372.9,214.7C372.0,213.3 371.2,211.9 370.1,210.5C369.1,209.1 367.4,207.9 366.8,206.3C366.2,204.8 366.7,202.8 366.4,201.1C366.1,199.3 365.3,197.7 365.0,196.0C364.7,194.3 364.2,192.3 364.6,190.6C364.9,188.9 366.5,187.5 367.1,185.8C367.8,184.1 367.7,182.2 368.5,180.6C369.3,179.1 370.7,177.7 372.0,176.5C373.4,175.4 375.3,174.9 376.7,173.8C378.1,172.8 378.9,170.9 380.3,170.0C381.8,169.1 383.7,169.0 385.4,168.6C387.1,168.2 388.7,168.0 390.4,167.5C392.1,167.0 393.8,165.7 395.5,165.6C397.2,165.6 398.9,166.7 400.7,167.1C402.4,167.5 404.1,167.6 405.8,168.0C407.5,168.4 409.5,168.6 410.9,169.6C412.4,170.5 413.1,172.6 414.4,173.8C415.7,175.0 417.4,175.6 418.6,176.8C419.9,178.0 421.0,179.5 421.8,181.0C422.6,182.5 422.5,184.4 423.2,186.0C424.0,187.6 425.7,189.0 426.3,190.6C426.8,192.3 426.7,194.2 426.6,196.0Z" fill="none" stroke="#b888c0" stroke-width="1.6" opacity="0.85"/>
<path d="M433.9,196.0C433.8,198.2 433.2,200.3 433.1,202.5C432.9,204.8 433.8,207.4 433.0,209.5C432.3,211.6 430.1,213.2 428.7,214.9C427.3,216.7 426.1,218.4 424.7,220.2C423.3,221.9 422.2,224.1 420.4,225.3C418.6,226.5 415.8,226.4 413.8,227.3C411.8,228.2 410.3,229.8 408.3,230.7C406.3,231.7 404.2,232.6 402.1,232.9C399.9,233.1 397.7,232.0 395.5,232.1C393.3,232.1 391.0,233.3 388.9,233.2C386.7,233.0 384.5,232.0 382.6,231.0C380.7,230.0 379.1,228.3 377.2,227.2C375.3,226.2 372.8,226.0 371.2,224.6C369.6,223.3 368.8,220.9 367.7,219.1C366.5,217.3 365.5,215.6 364.2,213.8C363.0,212.1 360.9,210.7 360.1,208.7C359.3,206.8 360.0,204.4 359.6,202.2C359.2,200.1 358.2,198.1 357.8,196.0C357.5,193.9 356.9,191.4 357.3,189.4C357.8,187.3 359.7,185.5 360.5,183.4C361.3,181.4 361.2,178.9 362.2,177.0C363.2,175.1 364.9,173.4 366.5,172.0C368.2,170.6 370.6,170.0 372.3,168.7C374.0,167.3 375.0,165.0 376.8,164.0C378.6,162.9 381.0,162.7 383.1,162.2C385.1,161.7 387.2,161.5 389.2,160.9C391.3,160.3 393.4,158.6 395.5,158.5C397.6,158.5 399.7,159.9 401.9,160.4C404.0,160.8 406.1,161.0 408.2,161.5C410.3,162.0 412.8,162.2 414.5,163.4C416.3,164.6 417.2,167.1 418.8,168.6C420.4,170.1 422.5,170.9 424.0,172.3C425.6,173.8 427.0,175.6 427.9,177.5C428.9,179.4 428.8,181.7 429.7,183.7C430.6,185.7 432.7,187.3 433.5,189.4C434.2,191.4 434.0,193.8 433.9,196.0Z" fill="none" stroke="#360c3e" stroke-width="1.7" opacity="0.85"/><path d="M431.0,196.0C430.9,198.0 430.4,200.0 430.2,202.0C430.1,204.1 430.9,206.6 430.2,208.5C429.5,210.4 427.5,211.9 426.2,213.5C424.9,215.2 423.7,216.7 422.5,218.3C421.2,219.9 420.2,222.0 418.5,223.1C416.9,224.2 414.3,224.1 412.4,225.0C410.6,225.8 409.1,227.3 407.3,228.1C405.5,229.0 403.6,229.9 401.6,230.1C399.6,230.3 397.5,229.3 395.5,229.4C393.5,229.4 391.4,230.5 389.4,230.3C387.4,230.2 385.4,229.3 383.6,228.4C381.8,227.4 380.4,225.8 378.6,224.9C376.9,223.9 374.5,223.7 373.0,222.5C371.5,221.2 370.8,219.0 369.8,217.3C368.7,215.7 367.8,214.1 366.6,212.5C365.4,210.9 363.5,209.5 362.8,207.8C362.1,206.0 362.7,203.7 362.3,201.8C362.0,199.8 361.0,198.0 360.7,196.0C360.3,194.0 359.8,191.8 360.2,189.9C360.6,187.9 362.4,186.3 363.2,184.4C363.9,182.5 363.8,180.2 364.8,178.5C365.7,176.7 367.2,175.1 368.7,173.8C370.3,172.5 372.5,172.0 374.0,170.7C375.6,169.5 376.5,167.4 378.2,166.4C379.8,165.4 382.1,165.3 384.0,164.8C385.9,164.3 387.8,164.1 389.7,163.6C391.6,163.0 393.6,161.5 395.5,161.4C397.4,161.3 399.4,162.6 401.4,163.1C403.3,163.5 405.3,163.6 407.3,164.1C409.2,164.6 411.5,164.8 413.1,165.9C414.7,167.0 415.6,169.3 417.0,170.7C418.5,172.1 420.5,172.8 421.9,174.1C423.3,175.5 424.6,177.2 425.5,178.9C426.3,180.7 426.2,182.8 427.1,184.6C427.9,186.5 429.9,188.0 430.6,189.9C431.2,191.8 431.1,194.0 431.0,196.0Z" fill="none" stroke="#360c3e" stroke-width="1.7" opacity="0.85"/><path d="M428.1,196.0C428.0,197.9 427.5,199.6 427.4,201.6C427.3,203.5 428.0,205.7 427.4,207.5C426.7,209.2 424.9,210.6 423.7,212.1C422.5,213.6 421.4,215.0 420.3,216.5C419.1,218.0 418.2,219.9 416.6,220.9C415.1,221.9 412.8,221.8 411.0,222.6C409.3,223.4 408.0,224.7 406.4,225.5C404.7,226.3 402.9,227.1 401.1,227.3C399.3,227.5 397.4,226.6 395.5,226.6C393.6,226.7 391.7,227.7 389.9,227.5C388.0,227.4 386.2,226.5 384.6,225.7C382.9,224.9 381.6,223.4 380.0,222.5C378.4,221.6 376.2,221.5 374.8,220.3C373.5,219.2 372.8,217.1 371.9,215.6C370.9,214.1 370.0,212.6 369.0,211.1C367.9,209.7 366.1,208.4 365.5,206.8C364.8,205.2 365.4,203.1 365.0,201.3C364.7,199.5 363.9,197.8 363.5,196.0C363.2,194.2 362.7,192.1 363.1,190.4C363.5,188.6 365.1,187.1 365.8,185.3C366.5,183.6 366.4,181.5 367.3,179.9C368.1,178.3 369.5,176.8 370.9,175.6C372.3,174.4 374.3,173.9 375.8,172.8C377.2,171.7 378.1,169.7 379.6,168.8C381.1,167.9 383.2,167.8 384.9,167.3C386.7,166.9 388.4,166.7 390.2,166.2C391.9,165.7 393.7,164.3 395.5,164.2C397.3,164.1 399.1,165.3 400.9,165.8C402.7,166.2 404.5,166.3 406.3,166.7C408.1,167.1 410.2,167.3 411.7,168.3C413.2,169.4 413.9,171.5 415.3,172.7C416.6,174.0 418.4,174.7 419.7,175.9C421.0,177.2 422.2,178.7 423.0,180.3C423.8,181.9 423.7,183.9 424.5,185.6C425.3,187.3 427.1,188.7 427.7,190.4C428.3,192.1 428.2,194.1 428.1,196.0Z" fill="none" stroke="#360c3e" stroke-width="1.7" opacity="0.85"/><path d="M425.4,196.0C425.3,197.7 424.9,199.3 424.7,201.1C424.6,202.8 425.3,204.9 424.7,206.5C424.2,208.1 422.4,209.4 421.4,210.7C420.3,212.1 419.3,213.5 418.2,214.8C417.1,216.2 416.3,217.9 414.9,218.8C413.5,219.7 411.3,219.7 409.8,220.4C408.2,221.1 407.0,222.3 405.5,223.0C403.9,223.8 402.3,224.5 400.6,224.7C399.0,224.9 397.2,224.0 395.5,224.1C393.8,224.1 392.0,225.1 390.3,224.9C388.7,224.8 387.0,224.0 385.5,223.2C383.9,222.5 382.8,221.1 381.3,220.3C379.8,219.5 377.8,219.4 376.6,218.3C375.3,217.2 374.7,215.4 373.8,214.0C372.9,212.6 372.1,211.2 371.2,209.9C370.2,208.5 368.5,207.4 367.9,205.9C367.3,204.4 367.9,202.5 367.6,200.9C367.3,199.2 366.5,197.7 366.2,196.0C365.9,194.3 365.4,192.5 365.8,190.8C366.1,189.2 367.6,187.8 368.3,186.2C368.9,184.6 368.8,182.7 369.6,181.2C370.4,179.8 371.6,178.4 372.9,177.3C374.3,176.2 376.1,175.8 377.4,174.7C378.8,173.7 379.5,171.9 380.9,171.1C382.3,170.2 384.2,170.1 385.8,169.7C387.4,169.3 389.0,169.2 390.6,168.7C392.2,168.2 393.9,166.9 395.5,166.8C397.1,166.8 398.8,167.9 400.5,168.3C402.1,168.6 403.8,168.7 405.4,169.1C407.0,169.5 409.0,169.7 410.3,170.6C411.7,171.6 412.4,173.5 413.6,174.7C414.8,175.8 416.5,176.4 417.7,177.6C418.9,178.7 420.0,180.1 420.7,181.6C421.5,183.1 421.4,184.9 422.1,186.4C422.8,188.0 424.5,189.3 425.0,190.9C425.6,192.4 425.4,194.3 425.4,196.0Z" fill="none" stroke="#360c3e" stroke-width="1.7" opacity="0.85"/>
<path d="M386.5,168.4C390.9,168.2 401.3,169.8 406.6,171.8C411.8,173.8 415.0,177.5 418.0,180.6C421.0,183.7 423.4,186.9 424.6,190.4C425.9,193.9 426.1,197.8 425.6,201.6C425.0,205.3 424.2,208.9 421.3,213.0C418.4,217.0 412.9,222.7 408.3,225.8C403.6,228.9 398.6,231.2 393.4,231.4C388.2,231.7 381.4,230.0 377.0,227.5C372.6,224.9 369.1,220.0 367.0,216.2C365.0,212.4 364.7,208.6 364.6,204.8C364.5,201.0 364.8,197.3 366.3,193.5C367.8,189.8 371.4,185.6 373.7,182.2C376.1,178.9 378.2,175.7 380.3,173.4C382.5,171.1 382.2,168.7 386.5,168.4Z" fill="#3a1242" opacity="0.75"/>
<path d="M388.0,173.7C391.6,173.5 400.1,174.8 404.4,176.5C408.7,178.2 411.3,181.2 413.8,183.8C416.3,186.4 418.2,189.1 419.2,192.0C420.2,194.9 420.4,198.2 420.0,201.3C419.6,204.4 418.9,207.4 416.5,210.8C414.1,214.2 409.6,218.9 405.8,221.5C402.0,224.1 397.9,226.0 393.6,226.2C389.3,226.4 383.8,225.0 380.2,222.9C376.6,220.8 373.7,216.7 372.0,213.5C370.3,210.3 370.1,207.2 370.0,204.0C369.9,200.8 370.1,197.7 371.4,194.6C372.6,191.5 375.6,188.0 377.5,185.2C379.4,182.4 381.1,179.7 382.9,177.8C384.6,175.9 384.4,173.9 388.0,173.7Z" fill="#fbf5f8"/>
<path d="M399.3 216.4h0M403.1 218.4h0M380.1 200.3h0M401.7 196.3h0M393.7 195.6h0M396 205.9h0M381.5 187.4h0M404.2 196.8h0M400.7 188.6h0M410.9 205.2h0M383.8 214.1h0M409.5 189.3h0M403.5 201.6h0M385 208.1h0M388.5 181.6h0M391.9 201.3h0M401.1 205.9h0M398.7 192.5h0M377.8 195h0M413.9 200.9h0M407.3 206.4h0M393.6 200.9h0M378.8 211.7h0M396.4 191.9h0M399.2 188.8h0M376.3 206.9h0M386.4 187.8h0M392.7 213.3h0M392.7 197h0M398.6 199h0M389.4 208.1h0M379.9 205.5h0M390.7 195.9h0M377.1 201.3h0M389.2 192.1h0M393.3 213.7h0M385.7 194h0M393.8 218.6h0M389.5 180.5h0M400 187.1h0M387.9 196h0M406.9 204.7h0M399 217.4h0M405.1 199.6h0M406.8 186.1h0M401.4 218.4h0M397.1 216.1h0M390 197.5h0M394.7 183.5h0M380.1 204.7h0M381.1 212.8h0M411.9 191.9h0M390.2 208.6h0M398.4 197.2h0M384.7 184.4h0M394.4 198.7h0M395.3 204.1h0M410.9 201h0M383.6 196.1h0M388.4 181.1h0M391.4 183.4h0M400.3 217.4h0M390.8 185.8h0M387.8 213.6h0M384.2 208.4h0M381.8 208.7h0M398.3 218.7h0M400.4 189.5h0M383.9 209h0M395.1 179.7h0M402.6 184h0M392.3 219.4h0M410.3 194.4h0M396.2 204.3h0M390 200.8h0M400 210.4h0M389.9 188.1h0" stroke="#96708a" stroke-width="1.36" stroke-linecap="round" opacity="0.8"/><path d="M404 209.6h0M387.3 206.7h0M384.5 211.6h0M393.6 201h0M380 186.6h0M399.2 219.2h0M391.9 214.7h0M414 196.2h0M383.3 205.6h0M388.1 203.5h0M408.6 212.6h0M387.8 190.6h0M401.8 200.4h0M401.9 192.6h0M377.6 194.1h0M391.9 194.1h0M389.7 220.1h0M411 201.2h0M389.5 188.3h0M384.9 185.7h0M410.8 207.3h0M390.9 196.1h0M408.2 202h0M413.1 192.4h0M407.4 199.1h0M395.5 220.1h0M379.5 195.9h0M381.2 185.5h0M396.9 192.1h0M412.1 200.9h0M399.3 219.2h0M390.6 189.5h0M409.9 187.9h0M394 209.5h0M396 215.8h0M393.8 179.7h0M403.9 186.6h0" stroke="#96708a" stroke-width="1.80" stroke-linecap="round" opacity="0.8"/><path d="M385 210.2h0M389 197.5h0M376.8 190.7h0M392.5 213.6h0M388.4 219.2h0M401.5 213.5h0M384 195.1h0M384.1 192.1h0M387.5 196.3h0M401.5 204h0M383.3 212.8h0M385.1 202.3h0M390.8 191.2h0M404.9 206.6h0M386.7 186.3h0M379.8 207.6h0M380.1 189.7h0M390.3 206.8h0M413.4 199.8h0M380.1 193h0M377 199.1h0M398.9 188.8h0M397.6 198.7h0M406.5 212.2h0M405.9 207h0M399.1 217.8h0M388.1 202h0M405.6 186.3h0M393.4 192.5h0M388.6 213h0M396.2 190h0M381.1 194.8h0M382.3 198.2h0M396.5 210.8h0M403.8 205.1h0M405.3 185h0" stroke="#96708a" stroke-width="0.90" stroke-linecap="round" opacity="0.8"/>
</g></g>
<circle cx="433.5" cy="259.8" r="2.8" fill="#a2456e"/>
<text x="45" y="12.6" font-size="17" text-anchor="start" font-weight="bold" fill="#000">A</text>
<text x="320.8" y="12.4" font-size="17" text-anchor="start" font-weight="bold" fill="#000">B</text>
<text x="45" y="157.2" font-size="17" text-anchor="start" font-weight="bold" fill="#000">C</text>
<text x="320.8" y="157.2" font-size="17" text-anchor="start" font-weight="bold" fill="#000">D</text>
<text x="50.4" y="120" font-size="12.6" text-anchor="start" font-weight="normal" fill="#111">TRAF-wt</text>
<text x="329.4" y="119.5" font-size="12.6" text-anchor="start" font-weight="normal" fill="#111">CD40-T2/3/5</text>
<text x="53.5" y="261.3" font-size="12.6" text-anchor="start" font-weight="normal" fill="#111">CD40-T6</text>
<text x="325.6" y="268.3" font-size="12.6" text-anchor="start" font-weight="normal" fill="#111">CD40-T2/3/5&amp;6</text>
<text x="198.1" y="116.6" font-size="5.6" font-weight="bold" text-anchor="middle" fill="#111">50 µm</text>
<line x1="192.3" y1="119.2" x2="204" y2="119.2" stroke="#111" stroke-width="1.4" stroke-linecap="round"/>
<circle cx="192.3" cy="119.2" r="1.1" fill="#111"/><circle cx="204" cy="119.2" r="1.1" fill="#111"/>
<text x="466.9" y="113.6" font-size="5.6" font-weight="bold" text-anchor="middle" fill="#111">50 µm</text>
<line x1="460.8" y1="116.5" x2="472.3" y2="116.5" stroke="#111" stroke-width="1.4" stroke-linecap="round"/>
<circle cx="460.8" cy="116.5" r="1.1" fill="#111"/><circle cx="472.3" cy="116.5" r="1.1" fill="#111"/>
<text x="189" y="255.6" font-size="5.6" font-weight="bold" text-anchor="middle" fill="#111">50 µm</text>
<line x1="183.5" y1="258" x2="194.5" y2="258" stroke="#111" stroke-width="1.4" stroke-linecap="round"/>
<circle cx="183.5" cy="258" r="1.1" fill="#111"/><circle cx="194.5" cy="258" r="1.1" fill="#111"/>
<text x="459" y="251.8" font-size="5.6" font-weight="bold" text-anchor="middle" fill="#111">50 µm</text>
<line x1="453" y1="254.5" x2="464.3" y2="254.5" stroke="#111" stroke-width="1.4" stroke-linecap="round"/>
<circle cx="453" cy="254.5" r="1.1" fill="#111"/><circle cx="464.3" cy="254.5" r="1.1" fill="#111"/>
<path d="M466,3 C468,1 471,2 470,4 M471,6 C473,4 475,4 476,2" fill="none" stroke="#555" stroke-width="0.7"/>
<text x="275" y="304.8" font-size="17" text-anchor="start" font-weight="bold" fill="#000" font-family='"Liberation Sans", sans-serif' >F</text>
<text x="400" y="313" font-size="11.8" text-anchor="middle" font-weight="bold" fill="#111" font-family='"Liberation Sans", sans-serif' >Neointimal volume</text>
<line x1="316.5" y1="327.5" x2="316.5" y2="433" stroke="#8c8c8c" stroke-width="1" />
<line x1="313.5" y1="433.0" x2="316.5" y2="433.0" stroke="#8c8c8c" stroke-width="1" />
<text x="311" y="435.88" font-size="8" text-anchor="end" font-weight="normal" fill="#222" font-family='"Liberation Sans", sans-serif' >0</text>
<line x1="313.5" y1="421.27777777777777" x2="316.5" y2="421.27777777777777" stroke="#8c8c8c" stroke-width="1" />
<text x="311" y="424.15777777777777" font-size="8" text-anchor="end" font-weight="normal" fill="#222" font-family='"Liberation Sans", sans-serif' >50</text>
<line x1="313.5" y1="409.55555555555554" x2="316.5" y2="409.55555555555554" stroke="#8c8c8c" stroke-width="1" />
<text x="311" y="412.43555555555554" font-size="8" text-anchor="end" font-weight="normal" fill="#222" font-family='"Liberation Sans", sans-serif' >100</text>
<line x1="313.5" y1="397.8333333333333" x2="316.5" y2="397.8333333333333" stroke="#8c8c8c" stroke-width="1" />
<text x="311" y="400.7133333333333" font-size="8" text-anchor="end" font-weight="normal" fill="#222" font-family='"Liberation Sans", sans-serif' >150</text>
<line x1="313.5" y1="386.1111111111111" x2="316.5" y2="386.1111111111111" stroke="#8c8c8c" stroke-width="1" />
<text x="311" y="388.9911111111111" font-size="8" text-anchor="end" font-weight="normal" fill="#222" font-family='"Liberation Sans", sans-serif' >200</text>
<line x1="313.5" y1="374.3888888888889" x2="316.5" y2="374.3888888888889" stroke="#8c8c8c" stroke-width="1" />
<text x="311" y="377.2688888888889" font-size="8" text-anchor="end" font-weight="normal" fill="#222" font-family='"Liberation Sans", sans-serif' >250</text>
<line x1="313.5" y1="362.66666666666663" x2="316.5" y2="362.66666666666663" stroke="#8c8c8c" stroke-width="1" />
<text x="311" y="365.5466666666666" font-size="8" text-anchor="end" font-weight="normal" fill="#222" font-family='"Liberation Sans", sans-serif' >300</text>
<line x1="313.5" y1="350.94444444444446" x2="316.5" y2="350.94444444444446" stroke="#8c8c8c" stroke-width="1" />
<text x="311" y="353.82444444444445" font-size="8" text-anchor="end" font-weight="normal" fill="#222" font-family='"Liberation Sans", sans-serif' >350</text>
<line x1="313.5" y1="339.22222222222223" x2="316.5" y2="339.22222222222223" stroke="#8c8c8c" stroke-width="1" />
<text x="311" y="342.1022222222222" font-size="8" text-anchor="end" font-weight="normal" fill="#222" font-family='"Liberation Sans", sans-serif' >400</text>
<line x1="313.5" y1="327.5" x2="316.5" y2="327.5" stroke="#8c8c8c" stroke-width="1" />
<text x="311" y="330.38" font-size="8" text-anchor="end" font-weight="normal" fill="#222" font-family='"Liberation Sans", sans-serif' >450</text>
<line x1="316.5" y1="433" x2="476" y2="433" stroke="#8c8c8c" stroke-width="1" />
<rect x="338" y="354.4611111111111" width="30" height="78.53888888888889" fill="#000080" stroke="#111" stroke-width="0.8" />
<line x1="353.0" y1="354.4611111111111" x2="353.0" y2="336.1744444444445" stroke="#333" stroke-width="1" />
<line x1="350.5" y1="336.1744444444445" x2="355.5" y2="336.1744444444445" stroke="#333" stroke-width="1" />
<rect x="368" y="391.03444444444443" width="29" height="41.96555555555557" fill="#ff00ff" stroke="#111" stroke-width="0.8" />
<line x1="382.5" y1="391.03444444444443" x2="382.5" y2="374.3888888888889" stroke="#333" stroke-width="1" />
<line x1="380.0" y1="374.3888888888889" x2="385.0" y2="374.3888888888889" stroke="#333" stroke-width="1" />
<rect x="397" y="422.45" width="29.5" height="10.550000000000011" fill="#ffff00" stroke="#111" stroke-width="0.8" />
<line x1="411.75" y1="422.45" x2="411.75" y2="418.93333333333334" stroke="#333" stroke-width="1" />
<line x1="409.25" y1="418.93333333333334" x2="414.25" y2="418.93333333333334" stroke="#333" stroke-width="1" />
<rect x="426.5" y="416.2372222222222" width="28.5" height="16.762777777777785" fill="#00ffff" stroke="#111" stroke-width="0.8" />
<line x1="440.75" y1="416.2372222222222" x2="440.75" y2="412.3688888888889" stroke="#333" stroke-width="1" />
<line x1="438.25" y1="412.3688888888889" x2="443.25" y2="412.3688888888889" stroke="#333" stroke-width="1" />
<rect x="463.5" y="351.5" width="52.0" height="56.0" fill="none" stroke="#bbb" stroke-width="1" />
<rect x="466.8" y="356.1" width="6.8" height="6.8" fill="#000080" stroke="#111" stroke-width="0.8" />
<text x="476.5" y="362.776" font-size="9.1" text-anchor="start" font-weight="normal" fill="#222" font-family='"Liberation Sans", sans-serif' >Twt</text>
<rect x="466.8" y="369.6" width="6.8" height="6.8" fill="#ff00ff" stroke="#111" stroke-width="0.8" />
<text x="476.5" y="376.276" font-size="9.1" text-anchor="start" font-weight="normal" fill="#222" font-family='"Liberation Sans", sans-serif' >T2/3/5</text>
<rect x="466.8" y="383.1" width="6.8" height="6.8" fill="#ffff00" stroke="#111" stroke-width="0.8" />
<text x="476.5" y="389.776" font-size="9.1" text-anchor="start" font-weight="normal" fill="#222" font-family='"Liberation Sans", sans-serif' >T6</text>
<rect x="466.8" y="396.6" width="6.8" height="6.8" fill="#00ffff" stroke="#111" stroke-width="0.8" />
<text x="476.5" y="403.276" font-size="9.1" text-anchor="start" font-weight="normal" fill="#222" font-family='"Liberation Sans", sans-serif' >T2/3/5&amp;6</text>
<path d="M411.30,408.70L411.30,405.80M411.30,408.70L414.06,407.80M411.30,408.70L413.00,411.05M411.30,408.70L409.60,411.05M411.30,408.70L408.54,407.80" stroke="#111" stroke-width="1.3" fill="none" stroke-linecap="round"/>
<path d="M439.50,402.70L439.50,399.80M439.50,402.70L442.26,401.80M439.50,402.70L441.20,405.05M439.50,402.70L437.80,405.05M439.50,402.70L436.74,401.80" stroke="#111" stroke-width="1.3" fill="none" stroke-linecap="round"/>
<text x="283.5" y="345.6" font-size="10.6" text-anchor="middle" fill="#222" font-family='"Liberation Serif", serif' transform="rotate(-90 283.5 345.6)"><tspan font-size="14.31" dy="6.91">*</tspan><tspan dy="-3.2">10</tspan><tspan font-size="5.83" dy="-4.24">3</tspan><tspan dy="4.24"> µm</tspan><tspan font-size="5.83" dy="-4.24">3</tspan></text>
<text x="1.5" y="480" font-size="17" text-anchor="start" font-weight="bold" fill="#000" font-family='"Liberation Sans", sans-serif' >G</text>
<text x="130" y="480" font-size="11.8" text-anchor="middle" font-weight="bold" fill="#111" font-family='"Liberation Sans", sans-serif' >Lumen volume</text>
<line x1="45.8" y1="502" x2="45.8" y2="608.3" stroke="#8c8c8c" stroke-width="1" />
<line x1="42.8" y1="608.3" x2="45.8" y2="608.3" stroke="#8c8c8c" stroke-width="1" />
<text x="40" y="611.54" font-size="9" text-anchor="end" font-weight="normal" fill="#222" font-family='"Liberation Sans", sans-serif' >0</text>
<line x1="42.8" y1="590.5833333333333" x2="45.8" y2="590.5833333333333" stroke="#8c8c8c" stroke-width="1" />
<text x="40" y="593.8233333333333" font-size="9" text-anchor="end" font-weight="normal" fill="#222" font-family='"Liberation Sans", sans-serif' >50</text>
<line x1="42.8" y1="572.8666666666667" x2="45.8" y2="572.8666666666667" stroke="#8c8c8c" stroke-width="1" />
<text x="40" y="576.1066666666667" font-size="9" text-anchor="end" font-weight="normal" fill="#222" font-family='"Liberation Sans", sans-serif' >100</text>
<line x1="42.8" y1="555.15" x2="45.8" y2="555.15" stroke="#8c8c8c" stroke-width="1" />
<text x="40" y="558.39" font-size="9" text-anchor="end" font-weight="normal" fill="#222" font-family='"Liberation Sans", sans-serif' >150</text>
<line x1="42.8" y1="537.4333333333333" x2="45.8" y2="537.4333333333333" stroke="#8c8c8c" stroke-width="1" />
<text x="40" y="540.6733333333333" font-size="9" text-anchor="end" font-weight="normal" fill="#222" font-family='"Liberation Sans", sans-serif' >200</text>
<line x1="42.8" y1="519.7166666666667" x2="45.8" y2="519.7166666666667" stroke="#8c8c8c" stroke-width="1" />
<text x="40" y="522.9566666666667" font-size="9" text-anchor="end" font-weight="normal" fill="#222" font-family='"Liberation Sans", sans-serif' >250</text>
<line x1="42.8" y1="502.0" x2="45.8" y2="502.0" stroke="#8c8c8c" stroke-width="1" />
<text x="40" y="505.24" font-size="9" text-anchor="end" font-weight="normal" fill="#222" font-family='"Liberation Sans", sans-serif' >300</text>
<line x1="45.8" y1="608.3" x2="206" y2="608.3" stroke="#8c8c8c" stroke-width="1" />
<rect x="68" y="531.2325" width="29.5" height="77.0675" fill="#000080" stroke="#111" stroke-width="0.8" />
<line x1="82.75" y1="531.2325" x2="82.75" y2="521.134" stroke="#333" stroke-width="1" />
<line x1="80.25" y1="521.134" x2="85.25" y2="521.134" stroke="#333" stroke-width="1" />
<rect x="97.5" y="534.953" width="29.0" height="73.34699999999998" fill="#ff00ff" stroke="#111" stroke-width="0.8" />
<line x1="112.0" y1="534.953" x2="112.0" y2="526.449" stroke="#333" stroke-width="1" />
<line x1="109.5" y1="526.449" x2="114.5" y2="526.449" stroke="#333" stroke-width="1" />
<rect x="126.5" y="544.1656666666667" width="29.0" height="64.1343333333333" fill="#ffff00" stroke="#111" stroke-width="0.8" />
<line x1="141.0" y1="544.1656666666667" x2="141.0" y2="538.8506666666667" stroke="#333" stroke-width="1" />
<line x1="138.5" y1="538.8506666666667" x2="143.5" y2="538.8506666666667" stroke="#333" stroke-width="1" />
<rect x="155.5" y="540.268" width="29.0" height="68.03199999999993" fill="#00ffff" stroke="#111" stroke-width="0.8" />
<line x1="170.0" y1="540.268" x2="170.0" y2="533.89" stroke="#333" stroke-width="1" />
<line x1="167.5" y1="533.89" x2="172.5" y2="533.89" stroke="#333" stroke-width="1" />
<rect x="201.5" y="527.5" width="51.80000000000001" height="56.799999999999955" fill="none" stroke="#bbb" stroke-width="1" />
<rect x="204.8" y="532.4" width="6.8" height="6.8" fill="#000080" stroke="#111" stroke-width="0.8" />
<text x="214.5" y="539.04" font-size="9" text-anchor="start" font-weight="normal" fill="#222" font-family='"Liberation Sans", sans-serif' >Twt</text>
<rect x="204.8" y="546.3000000000001" width="6.8" height="6.8" fill="#ff00ff" stroke="#111" stroke-width="0.8" />
<text x="214.5" y="552.94" font-size="9" text-anchor="start" font-weight="normal" fill="#222" font-family='"Liberation Sans", sans-serif' >T2/3/5</text>
<rect x="204.8" y="560.2" width="6.8" height="6.8" fill="#ffff00" stroke="#111" stroke-width="0.8" />
<text x="214.5" y="566.84" font-size="9" text-anchor="start" font-weight="normal" fill="#222" font-family='"Liberation Sans", sans-serif' >T6</text>
<rect x="204.8" y="573.8000000000001" width="6.8" height="6.8" fill="#00ffff" stroke="#111" stroke-width="0.8" />
<text x="214.5" y="580.44" font-size="9" text-anchor="start" font-weight="normal" fill="#222" font-family='"Liberation Sans", sans-serif' >T2/3/5&amp;6</text>
<text x="11.5" y="516.5" font-size="10.6" text-anchor="middle" fill="#222" font-family='"Liberation Serif", serif' transform="rotate(-90 11.5 516.5)"><tspan font-size="14.31" dy="6.91">*</tspan><tspan dy="-3.2">10</tspan><tspan font-size="5.83" dy="-4.24">3</tspan><tspan dy="4.24"> µm</tspan><tspan font-size="5.83" dy="-4.24">3</tspan></text>
<text x="275.5" y="479.8" font-size="17" text-anchor="start" font-weight="bold" fill="#000" font-family='"Liberation Sans", sans-serif' >H</text>
<text x="399" y="481" font-size="11.8" text-anchor="middle" font-weight="bold" fill="#111" font-family='"Liberation Sans", sans-serif' >Total vessel volume</text>
<line x1="318.8" y1="502.5" x2="318.8" y2="610" stroke="#8c8c8c" stroke-width="1" />
<line x1="315.8" y1="610.0" x2="318.8" y2="610.0" stroke="#8c8c8c" stroke-width="1" />
<text x="313" y="612.808" font-size="7.8" text-anchor="end" font-weight="normal" fill="#222" font-family='"Liberation Sans", sans-serif' >0</text>
<line x1="315.8" y1="592.0833333333334" x2="318.8" y2="592.0833333333334" stroke="#8c8c8c" stroke-width="1" />
<text x="313" y="594.8913333333334" font-size="7.8" text-anchor="end" font-weight="normal" fill="#222" font-family='"Liberation Sans", sans-serif' >200</text>
<line x1="315.8" y1="574.1666666666666" x2="318.8" y2="574.1666666666666" stroke="#8c8c8c" stroke-width="1" />
<text x="313" y="576.9746666666666" font-size="7.8" text-anchor="end" font-weight="normal" fill="#222" font-family='"Liberation Sans", sans-serif' >400</text>
<line x1="315.8" y1="556.25" x2="318.8" y2="556.25" stroke="#8c8c8c" stroke-width="1" />
<text x="313" y="559.058" font-size="7.8" text-anchor="end" font-weight="normal" fill="#222" font-family='"Liberation Sans", sans-serif' >600</text>
<line x1="315.8" y1="538.3333333333334" x2="318.8" y2="538.3333333333334" stroke="#8c8c8c" stroke-width="1" />
<text x="313" y="541.1413333333334" font-size="7.8" text-anchor="end" font-weight="normal" fill="#222" font-family='"Liberation Sans", sans-serif' >800</text>
<line x1="315.8" y1="520.4166666666666" x2="318.8" y2="520.4166666666666" stroke="#8c8c8c" stroke-width="1" />
<text x="313" y="523.2246666666666" font-size="7.8" text-anchor="end" font-weight="normal" fill="#222" font-family='"Liberation Sans", sans-serif' >1000</text>
<line x1="315.8" y1="502.5" x2="318.8" y2="502.5" stroke="#8c8c8c" stroke-width="1" />
<text x="313" y="505.308" font-size="7.8" text-anchor="end" font-weight="normal" fill="#222" font-family='"Liberation Sans", sans-serif' >1200</text>
<line x1="318.8" y1="610" x2="477.5" y2="610" stroke="#8c8c8c" stroke-width="1" />
<rect x="339.5" y="524.6270833333333" width="29.25" height="85.3729166666667" fill="#000080" stroke="#111" stroke-width="0.8" />
<line x1="354.125" y1="524.6270833333333" x2="354.125" y2="516.3854166666666" stroke="#333" stroke-width="1" />
<line x1="351.625" y1="516.3854166666666" x2="356.625" y2="516.3854166666666" stroke="#333" stroke-width="1" />
<rect x="368.75" y="539.5875" width="29.25" height="70.41250000000002" fill="#ff00ff" stroke="#111" stroke-width="0.8" />
<line x1="383.375" y1="539.5875" x2="383.375" y2="528.8375" stroke="#333" stroke-width="1" />
<line x1="380.875" y1="528.8375" x2="385.875" y2="528.8375" stroke="#333" stroke-width="1" />
<rect x="398" y="553.3833333333333" width="29" height="56.616666666666674" fill="#ffff00" stroke="#111" stroke-width="0.8" />
<line x1="412.5" y1="553.3833333333333" x2="412.5" y2="549.0833333333334" stroke="#333" stroke-width="1" />
<line x1="410.0" y1="549.0833333333334" x2="415.0" y2="549.0833333333334" stroke="#333" stroke-width="1" />
<rect x="427" y="551.5916666666667" width="28.75" height="58.4083333333333" fill="#00ffff" stroke="#111" stroke-width="0.8" />
<line x1="441.375" y1="551.5916666666667" x2="441.375" y2="546.2166666666667" stroke="#333" stroke-width="1" />
<line x1="438.875" y1="546.2166666666667" x2="443.875" y2="546.2166666666667" stroke="#333" stroke-width="1" />
<rect x="464.5" y="527" width="51.5" height="56.299999999999955" fill="none" stroke="#bbb" stroke-width="1" />
<rect x="467.8" y="531.6" width="6.8" height="6.8" fill="#000080" stroke="#111" stroke-width="0.8" />
<text x="477" y="538.276" font-size="9.1" text-anchor="start" font-weight="normal" fill="#222" font-family='"Liberation Sans", sans-serif' >Twt</text>
<rect x="467.8" y="545.6" width="6.8" height="6.8" fill="#ff00ff" stroke="#111" stroke-width="0.8" />
<text x="477" y="552.276" font-size="9.1" text-anchor="start" font-weight="normal" fill="#222" font-family='"Liberation Sans", sans-serif' >T2/3/5</text>
<rect x="467.8" y="559.6" width="6.8" height="6.8" fill="#ffff00" stroke="#111" stroke-width="0.8" />
<text x="477" y="566.276" font-size="9.1" text-anchor="start" font-weight="normal" fill="#222" font-family='"Liberation Sans", sans-serif' >T6</text>
<rect x="467.8" y="573.6" width="6.8" height="6.8" fill="#00ffff" stroke="#111" stroke-width="0.8" />
<text x="477" y="580.276" font-size="9.1" text-anchor="start" font-weight="normal" fill="#222" font-family='"Liberation Sans", sans-serif' >T2/3/5&amp;6</text>
<path d="M412.50,539.50L412.50,536.60M412.50,539.50L415.26,538.60M412.50,539.50L414.20,541.85M412.50,539.50L410.80,541.85M412.50,539.50L409.74,538.60" stroke="#111" stroke-width="1.3" fill="none" stroke-linecap="round"/>
<path d="M440.50,537.00L440.50,534.10M440.50,537.00L443.26,536.10M440.50,537.00L442.20,539.35M440.50,537.00L438.80,539.35M440.50,537.00L437.74,536.10" stroke="#111" stroke-width="1.3" fill="none" stroke-linecap="round"/>
<text x="283.75" y="517" font-size="10.6" text-anchor="middle" fill="#222" font-family='"Liberation Serif", serif' transform="rotate(-90 283.75 517)"><tspan font-size="14.31" dy="6.91">*</tspan><tspan dy="-3.2">10</tspan><tspan font-size="5.83" dy="-4.24">3</tspan><tspan dy="4.24"> µm</tspan><tspan font-size="5.83" dy="-4.24">3</tspan></text>
<text x="276.5" y="650" font-size="17" text-anchor="start" font-weight="bold" fill="#000" font-family='"Liberation Sans", sans-serif' >J</text>
<text x="400" y="650" font-size="11.6" text-anchor="middle" font-weight="bold" fill="#111" font-family='"Liberation Sans", sans-serif' >Maximal stenosis</text>
<line x1="314.5" y1="670" x2="314.5" y2="776.3" stroke="#8c8c8c" stroke-width="1" />
<line x1="311.5" y1="776.3" x2="314.5" y2="776.3" stroke="#8c8c8c" stroke-width="1" />
<text x="308.5" y="779.468" font-size="8.8" text-anchor="end" font-weight="normal" fill="#222" font-family='"Liberation Sans", sans-serif' >0</text>
<line x1="311.5" y1="755.04" x2="314.5" y2="755.04" stroke="#8c8c8c" stroke-width="1" />
<text x="308.5" y="758.208" font-size="8.8" text-anchor="end" font-weight="normal" fill="#222" font-family='"Liberation Sans", sans-serif' >20</text>
<line x1="311.5" y1="733.78" x2="314.5" y2="733.78" stroke="#8c8c8c" stroke-width="1" />
<text x="308.5" y="736.948" font-size="8.8" text-anchor="end" font-weight="normal" fill="#222" font-family='"Liberation Sans", sans-serif' >40</text>
<line x1="311.5" y1="712.52" x2="314.5" y2="712.52" stroke="#8c8c8c" stroke-width="1" />
<text x="308.5" y="715.688" font-size="8.8" text-anchor="end" font-weight="normal" fill="#222" font-family='"Liberation Sans", sans-serif' >60</text>
<line x1="311.5" y1="691.26" x2="314.5" y2="691.26" stroke="#8c8c8c" stroke-width="1" />
<text x="308.5" y="694.428" font-size="8.8" text-anchor="end" font-weight="normal" fill="#222" font-family='"Liberation Sans", sans-serif' >80</text>
<line x1="311.5" y1="670.0" x2="314.5" y2="670.0" stroke="#8c8c8c" stroke-width="1" />
<text x="308.5" y="673.168" font-size="8.8" text-anchor="end" font-weight="normal" fill="#222" font-family='"Liberation Sans", sans-serif' >100</text>
<line x1="314.5" y1="776.3" x2="473" y2="776.3" stroke="#8c8c8c" stroke-width="1" />
<rect x="337.5" y="682.756" width="30.80000000000001" height="93.54399999999998" fill="#000080" stroke="#111" stroke-width="0.8" />
<line x1="352.9" y1="682.756" x2="352.9" y2="679.567" stroke="#333" stroke-width="1" />
<line x1="350.4" y1="679.567" x2="355.4" y2="679.567" stroke="#333" stroke-width="1" />
<rect x="368.3" y="687.008" width="30.19999999999999" height="89.29199999999992" fill="#ff00ff" stroke="#111" stroke-width="0.8" />
<line x1="383.4" y1="687.008" x2="383.4" y2="681.693" stroke="#333" stroke-width="1" />
<line x1="380.9" y1="681.693" x2="385.9" y2="681.693" stroke="#333" stroke-width="1" />
<rect x="398.5" y="710.9254999999999" width="29.80000000000001" height="65.37450000000001" fill="#ffff00" stroke="#111" stroke-width="0.8" />
<line x1="413.4" y1="710.9254999999999" x2="413.4" y2="704.016" stroke="#333" stroke-width="1" />
<line x1="410.9" y1="704.016" x2="415.9" y2="704.016" stroke="#333" stroke-width="1" />
<rect x="428.3" y="705.079" width="31.099999999999966" height="71.221" fill="#00ffff" stroke="#111" stroke-width="0.8" />
<line x1="443.85" y1="705.079" x2="443.85" y2="698.1695" stroke="#333" stroke-width="1" />
<line x1="441.35" y1="698.1695" x2="446.35" y2="698.1695" stroke="#333" stroke-width="1" />
<rect x="466.2" y="696.3" width="50.80000000000001" height="52.30000000000007" fill="none" stroke="#333" stroke-width="1" />
<rect x="469.0" y="700.1" width="6.8" height="6.8" fill="#000080" stroke="#111" stroke-width="0.8" />
<text x="478.5" y="706.74" font-size="9" text-anchor="start" font-weight="normal" fill="#222" font-family='"Liberation Sans", sans-serif' >Twt</text>
<rect x="469.0" y="714.0" width="6.8" height="6.8" fill="#ff00ff" stroke="#111" stroke-width="0.8" />
<text x="478.5" y="720.64" font-size="9" text-anchor="start" font-weight="normal" fill="#222" font-family='"Liberation Sans", sans-serif' >T2/3/5</text>
<rect x="469.0" y="727.0" width="6.8" height="6.8" fill="#ffff00" stroke="#111" stroke-width="0.8" />
<text x="478.5" y="733.64" font-size="9" text-anchor="start" font-weight="normal" fill="#222" font-family='"Liberation Sans", sans-serif' >T6</text>
<rect x="469.0" y="740.0" width="6.8" height="6.8" fill="#00ffff" stroke="#111" stroke-width="0.8" />
<text x="478.5" y="746.64" font-size="9" text-anchor="start" font-weight="normal" fill="#222" font-family='"Liberation Sans", sans-serif' >T2/3/5&amp;6</text>
<path d="M413.80,694.50L413.80,691.60M413.80,694.50L416.56,693.60M413.80,694.50L415.50,696.85M413.80,694.50L412.10,696.85M413.80,694.50L411.04,693.60" stroke="#111" stroke-width="1.3" fill="none" stroke-linecap="round"/>
<path d="M443.70,689.20L443.70,686.30M443.70,689.20L446.46,688.30M443.70,689.20L445.40,691.55M443.70,689.20L442.00,691.55M443.70,689.20L440.94,688.30" stroke="#111" stroke-width="1.3" fill="none" stroke-linecap="round"/>
<text x="283.5" y="679" font-size="10" text-anchor="middle" font-weight="bold" fill="#111" font-family='"Liberation Sans", sans-serif' >%</text>
<text x="0.5" y="304.7" font-size="17" text-anchor="start" font-weight="bold" fill="#000" font-family='"Liberation Sans", sans-serif' >E</text>
<text x="128" y="310" font-size="11.8" text-anchor="middle" font-weight="bold" fill="#111" font-family='"Liberation Sans", sans-serif' >Neointimal area</text>
<line x1="53" y1="331" x2="53" y2="426" stroke="#8c8c8c" stroke-width="1" />
<line x1="50" y1="426.0" x2="53" y2="426.0" stroke="#8c8c8c" stroke-width="1" />
<text x="46" y="429.312" font-size="9.2" text-anchor="end" font-weight="normal" fill="#222" font-family='"Liberation Sans", sans-serif' >0</text>
<line x1="50" y1="414.13" x2="53" y2="414.13" stroke="#8c8c8c" stroke-width="1" />
<text x="46" y="417.442" font-size="9.2" text-anchor="end" font-weight="normal" fill="#222" font-family='"Liberation Sans", sans-serif' >10000</text>
<line x1="50" y1="402.26" x2="53" y2="402.26" stroke="#8c8c8c" stroke-width="1" />
<text x="46" y="405.572" font-size="9.2" text-anchor="end" font-weight="normal" fill="#222" font-family='"Liberation Sans", sans-serif' >20000</text>
<line x1="50" y1="390.39" x2="53" y2="390.39" stroke="#8c8c8c" stroke-width="1" />
<text x="46" y="393.702" font-size="9.2" text-anchor="end" font-weight="normal" fill="#222" font-family='"Liberation Sans", sans-serif' >30000</text>
<line x1="50" y1="378.52" x2="53" y2="378.52" stroke="#8c8c8c" stroke-width="1" />
<text x="46" y="381.832" font-size="9.2" text-anchor="end" font-weight="normal" fill="#222" font-family='"Liberation Sans", sans-serif' >40000</text>
<line x1="50" y1="366.65" x2="53" y2="366.65" stroke="#8c8c8c" stroke-width="1" />
<text x="46" y="369.962" font-size="9.2" text-anchor="end" font-weight="normal" fill="#222" font-family='"Liberation Sans", sans-serif' >50000</text>
<line x1="50" y1="354.78" x2="53" y2="354.78" stroke="#8c8c8c" stroke-width="1" />
<text x="46" y="358.092" font-size="9.2" text-anchor="end" font-weight="normal" fill="#222" font-family='"Liberation Sans", sans-serif' >60000</text>
<line x1="50" y1="342.91" x2="53" y2="342.91" stroke="#8c8c8c" stroke-width="1" />
<text x="46" y="346.22200000000004" font-size="9.2" text-anchor="end" font-weight="normal" fill="#222" font-family='"Liberation Sans", sans-serif' >70000</text>
<line x1="50" y1="331.04" x2="53" y2="331.04" stroke="#8c8c8c" stroke-width="1" />
<text x="46" y="334.35200000000003" font-size="9.2" text-anchor="end" font-weight="normal" fill="#222" font-family='"Liberation Sans", sans-serif' >80000</text>
<line x1="53" y1="426" x2="195.5" y2="426" stroke="#8c8c8c" stroke-width="1" />
<line x1="69.1" y1="426" x2="69.1" y2="429" stroke="#8c8c8c" stroke-width="1" />
<line x1="84.9" y1="426" x2="84.9" y2="429" stroke="#8c8c8c" stroke-width="1" />
<line x1="100.7" y1="426" x2="100.7" y2="429" stroke="#8c8c8c" stroke-width="1" />
<line x1="116.5" y1="426" x2="116.5" y2="429" stroke="#8c8c8c" stroke-width="1" />
<line x1="132.3" y1="426" x2="132.3" y2="429" stroke="#8c8c8c" stroke-width="1" />
<line x1="148.10000000000002" y1="426" x2="148.10000000000002" y2="429" stroke="#8c8c8c" stroke-width="1" />
<line x1="163.9" y1="426" x2="163.9" y2="429" stroke="#8c8c8c" stroke-width="1" />
<line x1="179.7" y1="426" x2="179.7" y2="429" stroke="#8c8c8c" stroke-width="1" />
<line x1="195.5" y1="426" x2="195.5" y2="429" stroke="#8c8c8c" stroke-width="1" />
<text x="61.199999999999996" y="441.5" font-size="8.8" text-anchor="middle" font-weight="normal" fill="#222" font-family='"Liberation Sans", sans-serif' >1</text>
<text x="77.0" y="441.5" font-size="8.8" text-anchor="middle" font-weight="normal" fill="#222" font-family='"Liberation Sans", sans-serif' >2</text>
<text x="92.8" y="441.5" font-size="8.8" text-anchor="middle" font-weight="normal" fill="#222" font-family='"Liberation Sans", sans-serif' >3</text>
<text x="108.6" y="441.5" font-size="8.8" text-anchor="middle" font-weight="normal" fill="#222" font-family='"Liberation Sans", sans-serif' >4</text>
<text x="124.4" y="441.5" font-size="8.8" text-anchor="middle" font-weight="normal" fill="#222" font-family='"Liberation Sans", sans-serif' >5</text>
<text x="140.2" y="441.5" font-size="8.8" text-anchor="middle" font-weight="normal" fill="#222" font-family='"Liberation Sans", sans-serif' >6</text>
<text x="156.0" y="441.5" font-size="8.8" text-anchor="middle" font-weight="normal" fill="#222" font-family='"Liberation Sans", sans-serif' >7</text>
<text x="171.8" y="441.5" font-size="8.8" text-anchor="middle" font-weight="normal" fill="#222" font-family='"Liberation Sans", sans-serif' >8</text>
<text x="187.60000000000002" y="441.5" font-size="8.8" text-anchor="middle" font-weight="normal" fill="#222" font-family='"Liberation Sans", sans-serif' >9</text>
<line x1="61.199999999999996" y1="348.5" x2="61.199999999999996" y2="340.2" stroke="#333" stroke-width="0.9" />
<line x1="58.99999999999999" y1="340.2" x2="63.4" y2="340.2" stroke="#333" stroke-width="0.9" />
<line x1="77.0" y1="369" x2="77.0" y2="361.9" stroke="#333" stroke-width="0.9" />
<line x1="74.8" y1="361.9" x2="79.2" y2="361.9" stroke="#333" stroke-width="0.9" />
<line x1="92.8" y1="388.2" x2="92.8" y2="380.8" stroke="#333" stroke-width="0.9" />
<line x1="90.6" y1="380.8" x2="95.0" y2="380.8" stroke="#333" stroke-width="0.9" />
<line x1="108.6" y1="396.5" x2="108.6" y2="388.5" stroke="#333" stroke-width="0.9" />
<line x1="106.39999999999999" y1="388.5" x2="110.8" y2="388.5" stroke="#333" stroke-width="0.9" />
<line x1="124.4" y1="401.5" x2="124.4" y2="394.7" stroke="#333" stroke-width="0.9" />
<line x1="122.2" y1="394.7" x2="126.60000000000001" y2="394.7" stroke="#333" stroke-width="0.9" />
<line x1="140.2" y1="408.8" x2="140.2" y2="402.7" stroke="#333" stroke-width="0.9" />
<line x1="138.0" y1="402.7" x2="142.39999999999998" y2="402.7" stroke="#333" stroke-width="0.9" />
<line x1="156.0" y1="408.8" x2="156.0" y2="402" stroke="#333" stroke-width="0.9" />
<line x1="153.8" y1="402" x2="158.2" y2="402" stroke="#333" stroke-width="0.9" />
<line x1="171.8" y1="416.8" x2="171.8" y2="409.6" stroke="#333" stroke-width="0.9" />
<line x1="169.60000000000002" y1="409.6" x2="174.0" y2="409.6" stroke="#333" stroke-width="0.9" />
<line x1="187.60000000000002" y1="416.2" x2="187.60000000000002" y2="408.5" stroke="#333" stroke-width="0.9" />
<line x1="185.40000000000003" y1="408.5" x2="189.8" y2="408.5" stroke="#333" stroke-width="0.9" />
<line x1="61.199999999999996" y1="369.7" x2="61.199999999999996" y2="359.6" stroke="#333" stroke-width="0.9" />
<line x1="58.99999999999999" y1="359.6" x2="63.4" y2="359.6" stroke="#333" stroke-width="0.9" />
<line x1="77.0" y1="388.3" x2="77.0" y2="381.4" stroke="#333" stroke-width="0.9" />
<line x1="74.8" y1="381.4" x2="79.2" y2="381.4" stroke="#333" stroke-width="0.9" />
<line x1="92.8" y1="403.7" x2="92.8" y2="398.6" stroke="#333" stroke-width="0.9" />
<line x1="90.6" y1="398.6" x2="95.0" y2="398.6" stroke="#333" stroke-width="0.9" />
<line x1="108.6" y1="409.2" x2="108.6" y2="402.3" stroke="#333" stroke-width="0.9" />
<line x1="106.39999999999999" y1="402.3" x2="110.8" y2="402.3" stroke="#333" stroke-width="0.9" />
<line x1="124.4" y1="406.7" x2="124.4" y2="398.5" stroke="#333" stroke-width="0.9" />
<line x1="122.2" y1="398.5" x2="126.60000000000001" y2="398.5" stroke="#333" stroke-width="0.9" />
<line x1="140.2" y1="413.9" x2="140.2" y2="407.5" stroke="#333" stroke-width="0.9" />
<line x1="138.0" y1="407.5" x2="142.39999999999998" y2="407.5" stroke="#333" stroke-width="0.9" />
<line x1="156.0" y1="413.2" x2="156.0" y2="407" stroke="#333" stroke-width="0.9" />
<line x1="153.8" y1="407" x2="158.2" y2="407" stroke="#333" stroke-width="0.9" />
<line x1="171.8" y1="421.2" x2="171.8" y2="417" stroke="#333" stroke-width="0.9" />
<line x1="169.60000000000002" y1="417" x2="174.0" y2="417" stroke="#333" stroke-width="0.9" />
<line x1="77.0" y1="395.8" x2="77.0" y2="390" stroke="#333" stroke-width="0.9" />
<line x1="74.8" y1="390" x2="79.2" y2="390" stroke="#333" stroke-width="0.9" />
<line x1="92.8" y1="408.3" x2="92.8" y2="402" stroke="#333" stroke-width="0.9" />
<line x1="90.6" y1="402" x2="95.0" y2="402" stroke="#333" stroke-width="0.9" />
<line x1="108.6" y1="413" x2="108.6" y2="405" stroke="#333" stroke-width="0.9" />
<line x1="106.39999999999999" y1="405" x2="110.8" y2="405" stroke="#333" stroke-width="0.9" />
<line x1="124.4" y1="413" x2="124.4" y2="406" stroke="#333" stroke-width="0.9" />
<line x1="122.2" y1="406" x2="126.60000000000001" y2="406" stroke="#333" stroke-width="0.9" />
<line x1="61.199999999999996" y1="384.3" x2="61.199999999999996" y2="372" stroke="#333" stroke-width="0.9" />
<line x1="58.99999999999999" y1="372" x2="63.4" y2="372" stroke="#333" stroke-width="0.9" />
<line x1="77.0" y1="406.6" x2="77.0" y2="399.7" stroke="#333" stroke-width="0.9" />
<line x1="74.8" y1="399.7" x2="79.2" y2="399.7" stroke="#333" stroke-width="0.9" />
<line x1="92.8" y1="418.6" x2="92.8" y2="414.6" stroke="#333" stroke-width="0.9" />
<line x1="90.6" y1="414.6" x2="95.0" y2="414.6" stroke="#333" stroke-width="0.9" />
<line x1="108.6" y1="421.2" x2="108.6" y2="418.5" stroke="#333" stroke-width="0.9" />
<line x1="106.39999999999999" y1="418.5" x2="110.8" y2="418.5" stroke="#333" stroke-width="0.9" />
<line x1="124.4" y1="423.4" x2="124.4" y2="420.5" stroke="#333" stroke-width="0.9" />
<line x1="122.2" y1="420.5" x2="126.60000000000001" y2="420.5" stroke="#333" stroke-width="0.9" />
<line x1="140.2" y1="422.7" x2="140.2" y2="420" stroke="#333" stroke-width="0.9" />
<line x1="138.0" y1="420" x2="142.39999999999998" y2="420" stroke="#333" stroke-width="0.9" />
<line x1="156.0" y1="422" x2="156.0" y2="419.6" stroke="#333" stroke-width="0.9" />
<line x1="153.8" y1="419.6" x2="158.2" y2="419.6" stroke="#333" stroke-width="0.9" />
<polyline points="61.199999999999996,348.5 77.0,369 92.8,388.2 108.6,396.5 124.4,401.5 140.2,408.8 156.0,408.8 171.8,416.8 187.60000000000002,416.2" fill="none" stroke="#000080" stroke-width="0.85"/>
<path d="M61.199999999999996,346.368 L63.331999999999994,348.5 L61.199999999999996,350.632 L59.068,348.5 Z" fill="#000080" stroke="#000080" stroke-width="0.6"/>
<path d="M77.0,366.868 L79.132,369 L77.0,371.132 L74.868,369 Z" fill="#000080" stroke="#000080" stroke-width="0.6"/>
<path d="M92.8,386.068 L94.932,388.2 L92.8,390.332 L90.66799999999999,388.2 Z" fill="#000080" stroke="#000080" stroke-width="0.6"/>
<path d="M108.6,394.368 L110.732,396.5 L108.6,398.632 L106.46799999999999,396.5 Z" fill="#000080" stroke="#000080" stroke-width="0.6"/>
<path d="M124.4,399.368 L126.53200000000001,401.5 L124.4,403.632 L122.268,401.5 Z" fill="#000080" stroke="#000080" stroke-width="0.6"/>
<path d="M140.2,406.668 L142.332,408.8 L140.2,410.932 L138.06799999999998,408.8 Z" fill="#000080" stroke="#000080" stroke-width="0.6"/>
<path d="M156.0,406.668 L158.132,408.8 L156.0,410.932 L153.868,408.8 Z" fill="#000080" stroke="#000080" stroke-width="0.6"/>
<path d="M171.8,414.668 L173.93200000000002,416.8 L171.8,418.932 L169.668,416.8 Z" fill="#000080" stroke="#000080" stroke-width="0.6"/>
<path d="M187.60000000000002,414.068 L189.73200000000003,416.2 L187.60000000000002,418.332 L185.46800000000002,416.2 Z" fill="#000080" stroke="#000080" stroke-width="0.6"/>
<polyline points="61.199999999999996,371 77.0,395.8 92.8,408.3 108.6,413 124.4,413 140.2,424 156.0,425.5 171.8,425.5 187.60000000000002,425.5" fill="none" stroke="#00ffff" stroke-width="0.85"/>
<path d="M59.232,369.032 L63.16799999999999,372.968 M59.232,372.968 L63.16799999999999,369.032 M61.199999999999996,368.6384 L61.199999999999996,373.3616" stroke="#00ffff" stroke-width="1"/>
<path d="M75.032,393.832 L78.968,397.76800000000003 M75.032,397.76800000000003 L78.968,393.832 M77.0,393.4384 L77.0,398.1616" stroke="#00ffff" stroke-width="1"/>
<path d="M90.832,406.332 L94.768,410.26800000000003 M90.832,410.26800000000003 L94.768,406.332 M92.8,405.9384 L92.8,410.6616" stroke="#00ffff" stroke-width="1"/>
<path d="M106.63199999999999,411.032 L110.568,414.968 M106.63199999999999,414.968 L110.568,411.032 M108.6,410.6384 L108.6,415.3616" stroke="#00ffff" stroke-width="1"/>
<path d="M122.432,411.032 L126.36800000000001,414.968 M122.432,414.968 L126.36800000000001,411.032 M124.4,410.6384 L124.4,415.3616" stroke="#00ffff" stroke-width="1"/>
<path d="M138.232,422.032 L142.16799999999998,425.968 M138.232,425.968 L142.16799999999998,422.032 M140.2,421.6384 L140.2,426.3616" stroke="#00ffff" stroke-width="1"/>
<path d="M154.032,423.532 L157.968,427.468 M154.032,427.468 L157.968,423.532 M156.0,423.1384 L156.0,427.8616" stroke="#00ffff" stroke-width="1"/>
<path d="M169.83200000000002,423.532 L173.768,427.468 M169.83200000000002,427.468 L173.768,423.532 M171.8,423.1384 L171.8,427.8616" stroke="#00ffff" stroke-width="1"/>
<path d="M185.63200000000003,423.532 L189.568,427.468 M185.63200000000003,427.468 L189.568,423.532 M187.60000000000002,423.1384 L187.60000000000002,427.8616" stroke="#00ffff" stroke-width="1"/>
<polyline points="61.199999999999996,384.3 77.0,406.6 92.8,418.6 108.6,421.2 124.4,423.4 140.2,422.7 156.0,422 171.8,422 187.60000000000002,421.5" fill="none" stroke="#ffff00" stroke-width="0.85"/>
<path d="M61.199999999999996,382.004 L63.495999999999995,386.1368 L58.903999999999996,386.1368 Z" fill="#ffff00"/>
<path d="M77.0,404.30400000000003 L79.296,408.4368 L74.704,408.4368 Z" fill="#ffff00"/>
<path d="M92.8,416.30400000000003 L95.096,420.4368 L90.50399999999999,420.4368 Z" fill="#ffff00"/>
<path d="M108.6,418.904 L110.896,423.03679999999997 L106.30399999999999,423.03679999999997 Z" fill="#ffff00"/>
<path d="M124.4,421.104 L126.69600000000001,425.23679999999996 L122.104,425.23679999999996 Z" fill="#ffff00"/>
<path d="M140.2,420.404 L142.49599999999998,424.53679999999997 L137.904,424.53679999999997 Z" fill="#ffff00"/>
<path d="M156.0,419.704 L158.296,423.8368 L153.704,423.8368 Z" fill="#ffff00"/>
<path d="M171.8,419.704 L174.096,423.8368 L169.50400000000002,423.8368 Z" fill="#ffff00"/>
<path d="M187.60000000000002,419.204 L189.89600000000002,423.3368 L185.30400000000003,423.3368 Z" fill="#ffff00"/>
<polyline points="61.199999999999996,369.7 77.0,388.3 92.8,403.7 108.6,409.2 124.4,406.7 140.2,413.9 156.0,413.2 171.8,421.2" fill="none" stroke="#ff00ff" stroke-width="0.85"/>
<rect x="59.068" y="367.568" width="4.264" height="4.264" fill="#ff00ff" stroke="none" stroke-width="1" />
<rect x="74.868" y="386.168" width="4.264" height="4.264" fill="#ff00ff" stroke="none" stroke-width="1" />
<rect x="90.66799999999999" y="401.568" width="4.264" height="4.264" fill="#ff00ff" stroke="none" stroke-width="1" />
<rect x="106.46799999999999" y="407.068" width="4.264" height="4.264" fill="#ff00ff" stroke="none" stroke-width="1" />
<rect x="122.268" y="404.568" width="4.264" height="4.264" fill="#ff00ff" stroke="none" stroke-width="1" />
<rect x="138.06799999999998" y="411.768" width="4.264" height="4.264" fill="#ff00ff" stroke="none" stroke-width="1" />
<rect x="153.868" y="411.068" width="4.264" height="4.264" fill="#ff00ff" stroke="none" stroke-width="1" />
<rect x="169.668" y="419.068" width="4.264" height="4.264" fill="#ff00ff" stroke="none" stroke-width="1" />
<text x="203" y="440.5" font-size="9.7" text-anchor="start" font-weight="bold" fill="#111" font-family='"Liberation Sans", sans-serif' >level</text>
<text x="14.5" y="336" font-size="10" text-anchor="middle" font-weight="normal" fill="#222" font-family='"Liberation Sans", sans-serif' transform="rotate(-90 14.5 336)">µm<tspan dy="-3.5" font-size="6">2</tspan></text>
<rect x="187.7" y="347" width="64.6" height="56.5" fill="none" stroke="#444" stroke-width="1" />
<line x1="190.7" y1="355.1" x2="207.2" y2="355.1" stroke="#000080" stroke-width="1" />
<path d="M198.9,352.76000000000005 L201.24,355.1 L198.9,357.44 L196.56,355.1 Z" fill="#000080" stroke="#000080" stroke-width="0.6"/>
<text x="210.6" y="358.34000000000003" font-size="9" text-anchor="start" font-weight="normal" fill="#222" font-family='"Liberation Sans", sans-serif' >Twt</text>
<line x1="190.7" y1="369.2" x2="207.2" y2="369.2" stroke="#ff00ff" stroke-width="1" />
<rect x="196.56" y="366.86" width="4.680000000000001" height="4.680000000000001" fill="#ff00ff" stroke="none" stroke-width="1" />
<text x="210.6" y="372.44" font-size="9" text-anchor="start" font-weight="normal" fill="#222" font-family='"Liberation Sans", sans-serif' >T2/3/5</text>
<line x1="190.7" y1="383.1" x2="207.2" y2="383.1" stroke="#ffff00" stroke-width="1" />
<path d="M198.9,380.58000000000004 L201.42000000000002,385.11600000000004 L196.38,385.11600000000004 Z" fill="#ffff00"/>
<text x="210.6" y="386.34000000000003" font-size="9" text-anchor="start" font-weight="normal" fill="#222" font-family='"Liberation Sans", sans-serif' >T6</text>
<line x1="190.7" y1="396.8" x2="207.2" y2="396.8" stroke="#00ffff" stroke-width="1" />
<path d="M196.74,394.64 L201.06,398.96000000000004 M196.74,398.96000000000004 L201.06,394.64 M198.9,394.208 L198.9,399.392" stroke="#00ffff" stroke-width="1"/>
<text x="210.6" y="400.04" font-size="9" text-anchor="start" font-weight="normal" fill="#222" font-family='"Liberation Sans", sans-serif' >T2/3/5&amp;6</text>
<path d="M61.00,322.30L61.00,319.30M61.00,322.30L63.85,321.37M61.00,322.30L62.76,324.73M61.00,322.30L59.24,324.73M61.00,322.30L58.15,321.37" stroke="#e8e03a" stroke-width="1.5" fill="none" stroke-linecap="round"/>
<path d="M76.60,322.30L76.60,319.30M76.60,322.30L79.45,321.37M76.60,322.30L78.36,324.73M76.60,322.30L74.84,324.73M76.60,322.30L73.75,321.37" stroke="#e8e03a" stroke-width="1.5" fill="none" stroke-linecap="round"/>
<path d="M91.50,322.30L91.50,319.30M91.50,322.30L94.35,321.37M91.50,322.30L93.26,324.73M91.50,322.30L89.74,324.73M91.50,322.30L88.65,321.37" stroke="#e8e03a" stroke-width="1.5" fill="none" stroke-linecap="round"/>
<path d="M107.50,322.30L107.50,319.30M107.50,322.30L110.35,321.37M107.50,322.30L109.26,324.73M107.50,322.30L105.74,324.73M107.50,322.30L104.65,321.37" stroke="#e8e03a" stroke-width="1.5" fill="none" stroke-linecap="round"/>
<path d="M123.00,322.30L123.00,319.30M123.00,322.30L125.85,321.37M123.00,322.30L124.76,324.73M123.00,322.30L121.24,324.73M123.00,322.30L120.15,321.37" stroke="#e8e03a" stroke-width="1.5" fill="none" stroke-linecap="round"/>
<path d="M77.00,337.00L77.00,334.00M77.00,337.00L79.85,336.07M77.00,337.00L78.76,339.43M77.00,337.00L75.24,339.43M77.00,337.00L74.15,336.07" stroke="#3e8fa0" stroke-width="1.3" fill="none" stroke-linecap="round"/>
<path d="M91.70,337.00L91.70,334.00M91.70,337.00L94.55,336.07M91.70,337.00L93.46,339.43M91.70,337.00L89.94,339.43M91.70,337.00L88.85,336.07" stroke="#3e8fa0" stroke-width="1.3" fill="none" stroke-linecap="round"/>
<path d="M107.50,337.00L107.50,334.00M107.50,337.00L110.35,336.07M107.50,337.00L109.26,339.43M107.50,337.00L105.74,339.43M107.50,337.00L104.65,336.07" stroke="#3e8fa0" stroke-width="1.3" fill="none" stroke-linecap="round"/>
<path d="M123.00,337.00L123.00,334.00M123.00,337.00L125.85,336.07M123.00,337.00L124.76,339.43M123.00,337.00L121.24,339.43M123.00,337.00L120.15,336.07" stroke="#3e8fa0" stroke-width="1.3" fill="none" stroke-linecap="round"/>
<path d="M139.00,337.00L139.00,334.00M139.00,337.00L141.85,336.07M139.00,337.00L140.76,339.43M139.00,337.00L137.24,339.43M139.00,337.00L136.15,336.07" stroke="#3e8fa0" stroke-width="1.3" fill="none" stroke-linecap="round"/>
<path d="M155.00,337.00L155.00,334.00M155.00,337.00L157.85,336.07M155.00,337.00L156.76,339.43M155.00,337.00L153.24,339.43M155.00,337.00L152.15,336.07" stroke="#3e8fa0" stroke-width="1.3" fill="none" stroke-linecap="round"/>
<text x="2.5" y="650" font-size="17" text-anchor="start" font-weight="bold" fill="#000" font-family='"Liberation Sans", sans-serif' >I</text>
<text x="127" y="649" font-size="11.8" text-anchor="middle" font-weight="bold" fill="#111" font-family='"Liberation Sans", sans-serif' >Intima/media ratio</text>
<line x1="38" y1="670" x2="38" y2="768.3" stroke="#8c8c8c" stroke-width="1" />
<line x1="35" y1="768.0" x2="38" y2="768.0" stroke="#8c8c8c" stroke-width="1" />
<text x="32" y="771.348" font-size="9.3" text-anchor="end" font-weight="normal" fill="#222" font-family='"Liberation Sans", sans-serif' >0</text>
<line x1="35" y1="748.25" x2="38" y2="748.25" stroke="#8c8c8c" stroke-width="1" />
<text x="32" y="751.598" font-size="9.3" text-anchor="end" font-weight="normal" fill="#222" font-family='"Liberation Sans", sans-serif' >0.5</text>
<line x1="35" y1="728.5" x2="38" y2="728.5" stroke="#8c8c8c" stroke-width="1" />
<text x="32" y="731.848" font-size="9.3" text-anchor="end" font-weight="normal" fill="#222" font-family='"Liberation Sans", sans-serif' >1</text>
<line x1="35" y1="708.75" x2="38" y2="708.75" stroke="#8c8c8c" stroke-width="1" />
<text x="32" y="712.098" font-size="9.3" text-anchor="end" font-weight="normal" fill="#222" font-family='"Liberation Sans", sans-serif' >1.5</text>
<line x1="35" y1="689.0" x2="38" y2="689.0" stroke="#8c8c8c" stroke-width="1" />
<text x="32" y="692.348" font-size="9.3" text-anchor="end" font-weight="normal" fill="#222" font-family='"Liberation Sans", sans-serif' >2</text>
<line x1="35" y1="669.25" x2="38" y2="669.25" stroke="#8c8c8c" stroke-width="1" />
<text x="32" y="672.598" font-size="9.3" text-anchor="end" font-weight="normal" fill="#222" font-family='"Liberation Sans", sans-serif' >2.5</text>
<line x1="38" y1="768.3" x2="201.25" y2="768.3" stroke="#8c8c8c" stroke-width="1" />
<line x1="56.07" y1="768.3" x2="56.07" y2="771.3" stroke="#8c8c8c" stroke-width="1" />
<line x1="74.24000000000001" y1="768.3" x2="74.24000000000001" y2="771.3" stroke="#8c8c8c" stroke-width="1" />
<line x1="92.41" y1="768.3" x2="92.41" y2="771.3" stroke="#8c8c8c" stroke-width="1" />
<line x1="110.58000000000001" y1="768.3" x2="110.58000000000001" y2="771.3" stroke="#8c8c8c" stroke-width="1" />
<line x1="128.75" y1="768.3" x2="128.75" y2="771.3" stroke="#8c8c8c" stroke-width="1" />
<line x1="146.92000000000002" y1="768.3" x2="146.92000000000002" y2="771.3" stroke="#8c8c8c" stroke-width="1" />
<line x1="165.09" y1="768.3" x2="165.09" y2="771.3" stroke="#8c8c8c" stroke-width="1" />
<line x1="183.26000000000002" y1="768.3" x2="183.26000000000002" y2="771.3" stroke="#8c8c8c" stroke-width="1" />
<line x1="201.43000000000004" y1="768.3" x2="201.43000000000004" y2="771.3" stroke="#8c8c8c" stroke-width="1" />
<text x="46.985" y="784.5" font-size="9.3" text-anchor="middle" font-weight="normal" fill="#222" font-family='"Liberation Sans", sans-serif' >1</text>
<text x="65.155" y="784.5" font-size="9.3" text-anchor="middle" font-weight="normal" fill="#222" font-family='"Liberation Sans", sans-serif' >2</text>
<text x="83.325" y="784.5" font-size="9.3" text-anchor="middle" font-weight="normal" fill="#222" font-family='"Liberation Sans", sans-serif' >3</text>
<text x="101.495" y="784.5" font-size="9.3" text-anchor="middle" font-weight="normal" fill="#222" font-family='"Liberation Sans", sans-serif' >4</text>
<text x="119.66500000000002" y="784.5" font-size="9.3" text-anchor="middle" font-weight="normal" fill="#222" font-family='"Liberation Sans", sans-serif' >5</text>
<text x="137.835" y="784.5" font-size="9.3" text-anchor="middle" font-weight="normal" fill="#222" font-family='"Liberation Sans", sans-serif' >6</text>
<text x="156.00500000000002" y="784.5" font-size="9.3" text-anchor="middle" font-weight="normal" fill="#222" font-family='"Liberation Sans", sans-serif' >7</text>
<text x="174.175" y="784.5" font-size="9.3" text-anchor="middle" font-weight="normal" fill="#222" font-family='"Liberation Sans", sans-serif' >8</text>
<text x="192.34500000000003" y="784.5" font-size="9.3" text-anchor="middle" font-weight="normal" fill="#222" font-family='"Liberation Sans", sans-serif' >9</text>
<line x1="46.985" y1="692" x2="46.985" y2="685.75" stroke="#333" stroke-width="0.9" />
<line x1="44.785" y1="685.75" x2="49.185" y2="685.75" stroke="#333" stroke-width="0.9" />
<line x1="65.155" y1="712" x2="65.155" y2="704" stroke="#333" stroke-width="0.9" />
<line x1="62.955" y1="704" x2="67.355" y2="704" stroke="#333" stroke-width="0.9" />
<line x1="83.325" y1="723" x2="83.325" y2="716" stroke="#333" stroke-width="0.9" />
<line x1="81.125" y1="716" x2="85.525" y2="716" stroke="#333" stroke-width="0.9" />
<line x1="101.495" y1="738.25" x2="101.495" y2="731" stroke="#333" stroke-width="0.9" />
<line x1="99.295" y1="731" x2="103.69500000000001" y2="731" stroke="#333" stroke-width="0.9" />
<line x1="119.66500000000002" y1="745.5" x2="119.66500000000002" y2="740" stroke="#333" stroke-width="0.9" />
<line x1="117.46500000000002" y1="740" x2="121.86500000000002" y2="740" stroke="#333" stroke-width="0.9" />
<line x1="137.835" y1="750.75" x2="137.835" y2="736.5" stroke="#333" stroke-width="0.9" />
<line x1="135.63500000000002" y1="736.5" x2="140.035" y2="736.5" stroke="#333" stroke-width="0.9" />
<line x1="156.00500000000002" y1="760.5" x2="156.00500000000002" y2="751.25" stroke="#333" stroke-width="0.9" />
<line x1="153.80500000000004" y1="751.25" x2="158.205" y2="751.25" stroke="#333" stroke-width="0.9" />
<line x1="174.175" y1="753.75" x2="174.175" y2="747" stroke="#333" stroke-width="0.9" />
<line x1="171.97500000000002" y1="747" x2="176.375" y2="747" stroke="#333" stroke-width="0.9" />
<line x1="192.34500000000003" y1="759.5" x2="192.34500000000003" y2="753" stroke="#333" stroke-width="0.9" />
<line x1="190.14500000000004" y1="753" x2="194.54500000000002" y2="753" stroke="#333" stroke-width="0.9" />
<line x1="65.155" y1="716.75" x2="65.155" y2="710" stroke="#333" stroke-width="0.9" />
<line x1="62.955" y1="710" x2="67.355" y2="710" stroke="#333" stroke-width="0.9" />
<line x1="83.325" y1="740" x2="83.325" y2="733" stroke="#333" stroke-width="0.9" />
<line x1="81.125" y1="733" x2="85.525" y2="733" stroke="#333" stroke-width="0.9" />
<line x1="101.495" y1="751.25" x2="101.495" y2="743" stroke="#333" stroke-width="0.9" />
<line x1="99.295" y1="743" x2="103.69500000000001" y2="743" stroke="#333" stroke-width="0.9" />
<line x1="119.66500000000002" y1="749.25" x2="119.66500000000002" y2="741" stroke="#333" stroke-width="0.9" />
<line x1="117.46500000000002" y1="741" x2="121.86500000000002" y2="741" stroke="#333" stroke-width="0.9" />
<line x1="137.835" y1="747.5" x2="137.835" y2="736.25" stroke="#333" stroke-width="0.9" />
<line x1="135.63500000000002" y1="736.25" x2="140.035" y2="736.25" stroke="#333" stroke-width="0.9" />
<line x1="156.00500000000002" y1="760.5" x2="156.00500000000002" y2="752" stroke="#333" stroke-width="0.9" />
<line x1="153.80500000000004" y1="752" x2="158.205" y2="752" stroke="#333" stroke-width="0.9" />
<line x1="174.175" y1="758.75" x2="174.175" y2="750" stroke="#333" stroke-width="0.9" />
<line x1="171.97500000000002" y1="750" x2="176.375" y2="750" stroke="#333" stroke-width="0.9" />
<line x1="192.34500000000003" y1="761.25" x2="192.34500000000003" y2="754" stroke="#333" stroke-width="0.9" />
<line x1="190.14500000000004" y1="754" x2="194.54500000000002" y2="754" stroke="#333" stroke-width="0.9" />
<line x1="46.985" y1="717" x2="46.985" y2="704" stroke="#333" stroke-width="0.9" />
<line x1="44.785" y1="704" x2="49.185" y2="704" stroke="#333" stroke-width="0.9" />
<line x1="65.155" y1="737" x2="65.155" y2="731" stroke="#333" stroke-width="0.9" />
<line x1="62.955" y1="731" x2="67.355" y2="731" stroke="#333" stroke-width="0.9" />
<line x1="83.325" y1="758.75" x2="83.325" y2="755" stroke="#333" stroke-width="0.9" />
<line x1="81.125" y1="755" x2="85.525" y2="755" stroke="#333" stroke-width="0.9" />
<line x1="101.495" y1="762" x2="101.495" y2="759" stroke="#333" stroke-width="0.9" />
<line x1="99.295" y1="759" x2="103.69500000000001" y2="759" stroke="#333" stroke-width="0.9" />
<line x1="119.66500000000002" y1="764.5" x2="119.66500000000002" y2="757" stroke="#333" stroke-width="0.9" />
<line x1="117.46500000000002" y1="757" x2="121.86500000000002" y2="757" stroke="#333" stroke-width="0.9" />
<line x1="137.835" y1="765.5" x2="137.835" y2="761" stroke="#333" stroke-width="0.9" />
<line x1="135.63500000000002" y1="761" x2="140.035" y2="761" stroke="#333" stroke-width="0.9" />
<polyline points="46.985,692 65.155,712 83.325,723 101.495,738.25 119.66500000000002,745.5 137.835,750.75 156.00500000000002,760.5 174.175,753.75 192.34500000000003,759.5" fill="none" stroke="#000080" stroke-width="1.6"/>
<path d="M46.985,688.62 L50.365,692 L46.985,695.38 L43.605,692 Z" fill="#000080" stroke="#000080" stroke-width="0.6"/>
<path d="M65.155,708.62 L68.535,712 L65.155,715.38 L61.775,712 Z" fill="#000080" stroke="#000080" stroke-width="0.6"/>
<path d="M83.325,719.62 L86.705,723 L83.325,726.38 L79.94500000000001,723 Z" fill="#000080" stroke="#000080" stroke-width="0.6"/>
<path d="M101.495,734.87 L104.875,738.25 L101.495,741.63 L98.11500000000001,738.25 Z" fill="#000080" stroke="#000080" stroke-width="0.6"/>
<path d="M119.66500000000002,742.12 L123.04500000000002,745.5 L119.66500000000002,748.88 L116.28500000000003,745.5 Z" fill="#000080" stroke="#000080" stroke-width="0.6"/>
<path d="M137.835,747.37 L141.215,750.75 L137.835,754.13 L134.455,750.75 Z" fill="#000080" stroke="#000080" stroke-width="0.6"/>
<path d="M156.00500000000002,757.12 L159.38500000000002,760.5 L156.00500000000002,763.88 L152.62500000000003,760.5 Z" fill="#000080" stroke="#000080" stroke-width="0.6"/>
<path d="M174.175,750.37 L177.555,753.75 L174.175,757.13 L170.79500000000002,753.75 Z" fill="#000080" stroke="#000080" stroke-width="0.6"/>
<path d="M192.34500000000003,756.12 L195.72500000000002,759.5 L192.34500000000003,762.88 L188.96500000000003,759.5 Z" fill="#000080" stroke="#000080" stroke-width="0.6"/>
<polyline points="46.985,717 65.155,737 83.325,747.5 101.495,752.5 119.66500000000002,762 137.835,766.25 156.00500000000002,768.5 174.175,768.5 192.34500000000003,768.5" fill="none" stroke="#00ffff" stroke-width="1.6"/>
<path d="M43.865,713.88 L50.105,720.12 M43.865,720.12 L50.105,713.88 M46.985,713.256 L46.985,720.744" stroke="#00ffff" stroke-width="1"/>
<path d="M62.035000000000004,733.88 L68.275,740.12 M62.035000000000004,740.12 L68.275,733.88 M65.155,733.256 L65.155,740.744" stroke="#00ffff" stroke-width="1"/>
<path d="M80.205,744.38 L86.44500000000001,750.62 M80.205,750.62 L86.44500000000001,744.38 M83.325,743.756 L83.325,751.244" stroke="#00ffff" stroke-width="1"/>
<path d="M98.375,749.38 L104.61500000000001,755.62 M98.375,755.62 L104.61500000000001,749.38 M101.495,748.756 L101.495,756.244" stroke="#00ffff" stroke-width="1"/>
<path d="M116.54500000000002,758.88 L122.78500000000003,765.12 M116.54500000000002,765.12 L122.78500000000003,758.88 M119.66500000000002,758.256 L119.66500000000002,765.744" stroke="#00ffff" stroke-width="1"/>
<path d="M134.715,763.13 L140.955,769.37 M134.715,769.37 L140.955,763.13 M137.835,762.506 L137.835,769.994" stroke="#00ffff" stroke-width="1"/>
<path d="M152.88500000000002,765.38 L159.12500000000003,771.62 M152.88500000000002,771.62 L159.12500000000003,765.38 M156.00500000000002,764.756 L156.00500000000002,772.244" stroke="#00ffff" stroke-width="1"/>
<path d="M171.055,765.38 L177.29500000000002,771.62 M171.055,771.62 L177.29500000000002,765.38 M174.175,764.756 L174.175,772.244" stroke="#00ffff" stroke-width="1"/>
<path d="M189.22500000000002,765.38 L195.46500000000003,771.62 M189.22500000000002,771.62 L195.46500000000003,765.38 M192.34500000000003,764.756 L192.34500000000003,772.244" stroke="#00ffff" stroke-width="1"/>
<polyline points="46.985,731.25 65.155,744.5 83.325,758.75 101.495,762 119.66500000000002,764.5 137.835,765.5 156.00500000000002,765 174.175,765 192.34500000000003,766.25" fill="none" stroke="#ffff00" stroke-width="1.6"/>
<path d="M46.985,727.61 L50.625,734.162 L43.345,734.162 Z" fill="#ffff00"/>
<path d="M65.155,740.86 L68.795,747.412 L61.515,747.412 Z" fill="#ffff00"/>
<path d="M83.325,755.11 L86.965,761.662 L79.685,761.662 Z" fill="#ffff00"/>
<path d="M101.495,758.36 L105.135,764.912 L97.855,764.912 Z" fill="#ffff00"/>
<path d="M119.66500000000002,760.86 L123.30500000000002,767.412 L116.02500000000002,767.412 Z" fill="#ffff00"/>
<path d="M137.835,761.86 L141.475,768.412 L134.19500000000002,768.412 Z" fill="#ffff00"/>
<path d="M156.00500000000002,761.36 L159.645,767.912 L152.36500000000004,767.912 Z" fill="#ffff00"/>
<path d="M174.175,761.36 L177.815,767.912 L170.53500000000003,767.912 Z" fill="#ffff00"/>
<path d="M192.34500000000003,762.61 L195.985,769.162 L188.70500000000004,769.162 Z" fill="#ffff00"/>
<polyline points="46.985,707 65.155,716.75 83.325,740 101.495,751.25 119.66500000000002,749.25 137.835,747.5 156.00500000000002,760.5 174.175,758.75 192.34500000000003,761.25" fill="none" stroke="#ff00ff" stroke-width="1.6"/>
<rect x="43.605" y="703.62" width="6.760000000000001" height="6.760000000000001" fill="#ff00ff" stroke="none" stroke-width="1" />
<rect x="61.775" y="713.37" width="6.760000000000001" height="6.760000000000001" fill="#ff00ff" stroke="none" stroke-width="1" />
<rect x="79.94500000000001" y="736.62" width="6.760000000000001" height="6.760000000000001" fill="#ff00ff" stroke="none" stroke-width="1" />
<rect x="98.11500000000001" y="747.87" width="6.760000000000001" height="6.760000000000001" fill="#ff00ff" stroke="none" stroke-width="1" />
<rect x="116.28500000000003" y="745.87" width="6.760000000000001" height="6.760000000000001" fill="#ff00ff" stroke="none" stroke-width="1" />
<rect x="134.455" y="744.12" width="6.760000000000001" height="6.760000000000001" fill="#ff00ff" stroke="none" stroke-width="1" />
<rect x="152.62500000000003" y="757.12" width="6.760000000000001" height="6.760000000000001" fill="#ff00ff" stroke="none" stroke-width="1" />
<rect x="170.79500000000002" y="755.37" width="6.760000000000001" height="6.760000000000001" fill="#ff00ff" stroke="none" stroke-width="1" />
<rect x="188.96500000000003" y="757.87" width="6.760000000000001" height="6.760000000000001" fill="#ff00ff" stroke="none" stroke-width="1" />
<text x="211.5" y="783.5" font-size="9.7" text-anchor="start" font-weight="bold" fill="#111" font-family='"Liberation Sans", sans-serif' >level</text>
<text x="10.5" y="680" font-size="9.5" text-anchor="middle" font-weight="bold" fill="#111" font-family='"Liberation Sans", sans-serif' transform="rotate(-90 10.5 680)">ratio</text>
<rect x="190.8" y="686.2" width="61.5" height="53.3" fill="none" stroke="#333" stroke-width="1" />
<line x1="193.8" y1="694.2" x2="211.5" y2="694.2" stroke="#000080" stroke-width="1.6" />
<path d="M202.8,690.82 L206.18,694.2 L202.8,697.58 L199.42000000000002,694.2 Z" fill="#000080" stroke="#000080" stroke-width="0.6"/>
<text x="215" y="697.44" font-size="9" text-anchor="start" font-weight="normal" fill="#222" font-family='"Liberation Sans", sans-serif' >Trafwt</text>
<line x1="193.8" y1="706.9" x2="211.5" y2="706.9" stroke="#ff00ff" stroke-width="1.6" />
<rect x="199.42000000000002" y="703.52" width="6.760000000000001" height="6.760000000000001" fill="#ff00ff" stroke="none" stroke-width="1" />
<text x="215" y="710.14" font-size="9" text-anchor="start" font-weight="normal" fill="#222" font-family='"Liberation Sans", sans-serif' >T2/3/5</text>
<line x1="193.8" y1="720" x2="211.5" y2="720" stroke="#ffff00" stroke-width="1.6" />
<path d="M202.8,716.36 L206.44,722.912 L199.16000000000003,722.912 Z" fill="#ffff00"/>
<text x="215" y="723.24" font-size="9" text-anchor="start" font-weight="normal" fill="#222" font-family='"Liberation Sans", sans-serif' >T6</text>
<line x1="193.8" y1="733.1" x2="211.5" y2="733.1" stroke="#00ffff" stroke-width="1.6" />
<path d="M199.68,729.98 L205.92000000000002,736.22 M199.68,736.22 L205.92000000000002,729.98 M202.8,729.356 L202.8,736.844" stroke="#00ffff" stroke-width="1"/>
<text x="215" y="736.34" font-size="9" text-anchor="start" font-weight="normal" fill="#222" font-family='"Liberation Sans", sans-serif' >T2/3/5&amp;6</text>
<path d="M49.25,657.50L49.25,654.50M49.25,657.50L52.10,656.57M49.25,657.50L51.01,659.93M49.25,657.50L47.49,659.93M49.25,657.50L46.40,656.57" stroke="#e8e03a" stroke-width="1.5" fill="none" stroke-linecap="round"/>
<path d="M65.50,657.50L65.50,654.50M65.50,657.50L68.35,656.57M65.50,657.50L67.26,659.93M65.50,657.50L63.74,659.93M65.50,657.50L62.65,656.57" stroke="#e8e03a" stroke-width="1.5" fill="none" stroke-linecap="round"/>
<path d="M83.00,657.50L83.00,654.50M83.00,657.50L85.85,656.57M83.00,657.50L84.76,659.93M83.00,657.50L81.24,659.93M83.00,657.50L80.15,656.57" stroke="#e8e03a" stroke-width="1.5" fill="none" stroke-linecap="round"/>
<path d="M102.00,657.50L102.00,654.50M102.00,657.50L104.85,656.57M102.00,657.50L103.76,659.93M102.00,657.50L100.24,659.93M102.00,657.50L99.15,656.57" stroke="#e8e03a" stroke-width="1.5" fill="none" stroke-linecap="round"/>
<path d="M122.50,657.50L122.50,654.50M122.50,657.50L125.35,656.57M122.50,657.50L124.26,659.93M122.50,657.50L120.74,659.93M122.50,657.50L119.65,656.57" stroke="#e8e03a" stroke-width="1.5" fill="none" stroke-linecap="round"/>
<path d="M138.75,657.50L138.75,654.50M138.75,657.50L141.60,656.57M138.75,657.50L140.51,659.93M138.75,657.50L136.99,659.93M138.75,657.50L135.90,656.57" stroke="#e8e03a" stroke-width="1.5" fill="none" stroke-linecap="round"/>
<path d="M155.50,657.50L155.50,654.50M155.50,657.50L158.35,656.57M155.50,657.50L157.26,659.93M155.50,657.50L153.74,659.93M155.50,657.50L152.65,656.57" stroke="#e8e03a" stroke-width="1.5" fill="none" stroke-linecap="round"/>
<path d="M174.50,657.50L174.50,654.50M174.50,657.50L177.35,656.57M174.50,657.50L176.26,659.93M174.50,657.50L172.74,659.93M174.50,657.50L171.65,656.57" stroke="#e8e03a" stroke-width="1.5" fill="none" stroke-linecap="round"/>
<path d="M192.50,657.50L192.50,654.50M192.50,657.50L195.35,656.57M192.50,657.50L194.26,659.93M192.50,657.50L190.74,659.93M192.50,657.50L189.65,656.57" stroke="#e8e03a" stroke-width="1.5" fill="none" stroke-linecap="round"/>
<path d="M49.25,664.50L49.25,661.50M49.25,664.50L52.10,663.57M49.25,664.50L51.01,666.93M49.25,664.50L47.49,666.93M49.25,664.50L46.40,663.57" stroke="#c040c0" stroke-width="1.3" fill="none" stroke-linecap="round"/>
<path d="M83.00,664.50L83.00,661.50M83.00,664.50L85.85,663.57M83.00,664.50L84.76,666.93M83.00,664.50L81.24,666.93M83.00,664.50L80.15,663.57" stroke="#c040c0" stroke-width="1.3" fill="none" stroke-linecap="round"/>
<path d="M49.25,672.50L49.25,669.50M49.25,672.50L52.10,671.57M49.25,672.50L51.01,674.93M49.25,672.50L47.49,674.93M49.25,672.50L46.40,671.57" stroke="#3e8fa0" stroke-width="1.3" fill="none" stroke-linecap="round"/>
<path d="M65.50,672.50L65.50,669.50M65.50,672.50L68.35,671.57M65.50,672.50L67.26,674.93M65.50,672.50L63.74,674.93M65.50,672.50L62.65,671.57" stroke="#3e8fa0" stroke-width="1.3" fill="none" stroke-linecap="round"/>
<path d="M83.00,672.50L83.00,669.50M83.00,672.50L85.85,671.57M83.00,672.50L84.76,674.93M83.00,672.50L81.24,674.93M83.00,672.50L80.15,671.57" stroke="#3e8fa0" stroke-width="1.3" fill="none" stroke-linecap="round"/>
<path d="M102.00,672.50L102.00,669.50M102.00,672.50L104.85,671.57M102.00,672.50L103.76,674.93M102.00,672.50L100.24,674.93M102.00,672.50L99.15,671.57" stroke="#3e8fa0" stroke-width="1.3" fill="none" stroke-linecap="round"/>
<path d="M122.50,672.50L122.50,669.50M122.50,672.50L125.35,671.57M122.50,672.50L124.26,674.93M122.50,672.50L120.74,674.93M122.50,672.50L119.65,671.57" stroke="#3e8fa0" stroke-width="1.3" fill="none" stroke-linecap="round"/>
<path d="M140.00,672.50L140.00,669.50M140.00,672.50L142.85,671.57M140.00,672.50L141.76,674.93M140.00,672.50L138.24,674.93M140.00,672.50L137.15,671.57" stroke="#3e8fa0" stroke-width="1.3" fill="none" stroke-linecap="round"/>
<path d="M155.50,672.50L155.50,669.50M155.50,672.50L158.35,671.57M155.50,672.50L157.26,674.93M155.50,672.50L153.74,674.93M155.50,672.50L152.65,671.57" stroke="#3e8fa0" stroke-width="1.3" fill="none" stroke-linecap="round"/>
<path d="M174.50,672.50L174.50,669.50M174.50,672.50L177.35,671.57M174.50,672.50L176.26,674.93M174.50,672.50L172.74,674.93M174.50,672.50L171.65,671.57" stroke="#3e8fa0" stroke-width="1.3" fill="none" stroke-linecap="round"/>
<path d="M192.50,672.50L192.50,669.50M192.50,672.50L195.35,671.57M192.50,672.50L194.26,674.93M192.50,672.50L190.74,674.93M192.50,672.50L189.65,671.57" stroke="#3e8fa0" stroke-width="1.3" fill="none" stroke-linecap="round"/>
</svg>
</body></html>
